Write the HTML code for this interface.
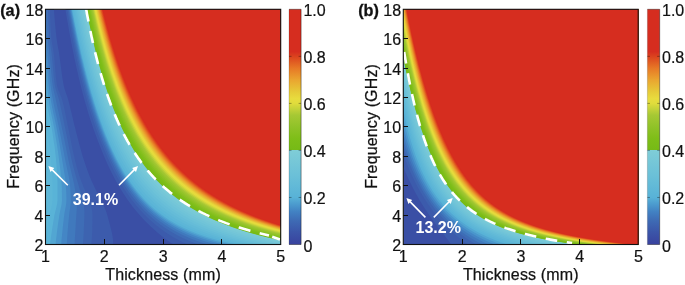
<!DOCTYPE html>
<html lang="en"><head><meta charset="utf-8"><title>Figure</title>
<style>
html,body{margin:0;padding:0;background:#fff;}
body{width:685px;height:285px;overflow:hidden;}
svg{display:block;}
.t{font-family:"Liberation Sans",Arial,sans-serif;font-size:16px;fill:#111;stroke:#111;stroke-width:0.2px;}
.l{letter-spacing:0.14px;stroke:#111;stroke-width:0.25px;}
.b{font-family:"Liberation Sans",Arial,sans-serif;font-size:17.4px;font-weight:bold;fill:#111;stroke:#111;stroke-width:0.3px;}
.w{font-family:"Liberation Sans",Arial,sans-serif;font-size:16px;font-weight:bold;fill:#fff;}
</style></head><body>
<svg width="685" height="285" viewBox="0 0 685 285">
<defs><linearGradient id="cb" x1="0" y1="0" x2="0" y2="1"><stop offset="0.0000" stop-color="#d62d1f"/><stop offset="0.1800" stop-color="#d62d1f"/><stop offset="0.2000" stop-color="#db421e"/><stop offset="0.2500" stop-color="#e77826"/><stop offset="0.3000" stop-color="#eaa530"/><stop offset="0.3500" stop-color="#e6ca38"/><stop offset="0.3800" stop-color="#e8dc3e"/><stop offset="0.4000" stop-color="#e0dc3c"/><stop offset="0.4200" stop-color="#c8d43a"/><stop offset="0.4500" stop-color="#a6c834"/><stop offset="0.5000" stop-color="#90c228"/><stop offset="0.5500" stop-color="#7ebe18"/><stop offset="0.6000" stop-color="#76ba16"/><stop offset="0.6000" stop-color="#7fcdd7"/><stop offset="0.7000" stop-color="#6cc1d8"/><stop offset="0.8000" stop-color="#58b2d7"/><stop offset="0.8300" stop-color="#4b9ace"/><stop offset="0.8600" stop-color="#4282c3"/><stop offset="0.9000" stop-color="#3e6ab4"/><stop offset="0.9500" stop-color="#3b54a8"/><stop offset="1.0000" stop-color="#39429e"/></linearGradient></defs>
<clipPath id="cpa"><rect x="45.5" y="9.3" width="235.2" height="235.2"/></clipPath>
<g clip-path="url(#cpa)">
<rect x="45.5" y="9.3" width="235.2" height="235.2" fill="#3a4fa5"/>
<polygon points="53.8,5.3 53.9,8.3 54.1,11.3 54.3,14.3 54.5,17.3 54.8,20.3 55,23.3 55.3,26.3 55.6,29.3 55.9,32.3 56.2,35.3 56.6,38.3 57,41.3 57.5,44.3 58,47.3 58.6,50.3 59.1,53.3 59.5,56.3 59.9,59.3 60.3,62.3 60.7,65.3 61.1,68.3 61.5,71.3 61.9,74.3 62.3,77.3 62.8,80.3 63.3,83.3 63.9,86.3 64.7,89.3 65.7,92.3 66.8,95.3 67.8,98.3 68.6,101.3 69.4,104.3 70.1,107.3 70.8,110.3 71.6,113.3 72.3,116.3 73,119.3 73.7,122.3 74.4,125.3 75.2,128.3 75.9,131.3 76.7,134.3 77.5,137.3 78.3,140.3 79,143.3 79.9,146.3 80.7,149.3 81.5,152.3 82.4,155.3 83.3,158.3 84.3,161.3 85.3,164.3 86.3,167.3 87.4,170.3 88.5,173.3 89.7,176.3 90.9,179.3 92.1,182.1 93.4,184.8 94.7,187.6 96,190.3 97.5,193.1 99,195.8 100.5,198.6 101.8,201.3 103,204.1 104.2,206.8 105.5,209.8 106.6,212.8 107.5,215.8 108.3,218.8 109.1,221.8 109.9,224.8 110.7,227.8 111.4,230.8 112.1,233.8 112.6,236.8 113,239.8 113.1,242.8 113,245.8 112.7,248.3 5.5,248.3 5.5,5.3" fill="#3c5bac"/>
<polygon points="50,5.3 50,8.3 50,11.3 50.1,14.3 50.1,17.3 50.3,20.3 50.4,23.3 50.5,26.3 50.7,29.3 50.9,32.3 51.1,35.3 51.3,38.3 51.8,41.3 52.2,44.3 52.8,47.3 53.3,50.3 53.7,53.3 54.1,56.3 54.4,59.3 54.7,62.3 54.9,65.3 55.2,68.3 55.4,71.3 55.7,74.3 55.9,77.3 56.3,80.3 56.7,83.3 57.2,86.3 58.1,89.3 59.3,92.3 60.5,95.3 61.7,98.3 62.6,101.3 63.3,104.3 64,107.3 64.7,110.3 65.3,113.3 65.9,116.3 66.5,119.3 67.1,122.3 67.7,125.3 68.4,128.3 69,131.3 69.6,134.3 70.2,137.3 70.8,140.3 71.4,143.3 72,146.3 72.6,149.3 73.2,152.3 73.9,155.3 74.6,158.3 75.3,161.3 76.1,164.3 76.8,167.3 77.7,170.3 78.6,173.3 79.5,176.3 80.6,179.3 81.7,182.3 82.9,185.3 84.1,188.3 85.4,191.3 86.8,194.1 88.1,196.8 89.4,199.8 90.3,202.8 91.1,205.8 91.8,208.8 92.3,211.8 92.5,214.8 92.5,217.8 92.4,220.8 92.4,223.8 92.3,226.8 92.3,229.8 92.2,232.8 92,235.8 91.9,238.8 91.6,241.8 91.4,244.8 91.4,247.8 91.4,248.3 5.5,248.3 5.5,5.3" fill="#3d63b0"/>
<polygon points="48,5.3 48,8.3 48,11.3 48.1,14.3 48.2,17.3 48.3,20.3 48.5,23.3 48.7,26.3 48.8,29.3 49,32.3 49.2,35.3 49.5,38.3 49.9,41.3 50.3,44.3 50.7,47.3 51.2,50.3 51.6,53.3 51.9,56.3 52.2,59.3 52.5,62.3 52.8,65.3 53,68.3 53.3,71.3 53.5,74.3 53.8,77.3 54.2,80.3 54.5,83.3 55,86.3 55.8,89.3 56.7,92.3 57.7,95.3 58.6,98.3 59.4,101.3 60.1,104.3 60.7,107.3 61.4,110.3 62,113.3 62.7,116.3 63.3,119.3 63.9,122.3 64.6,125.3 65.2,128.3 65.8,131.3 66.4,134.3 67,137.3 67.6,140.3 68.2,143.3 68.8,146.3 69.4,149.3 70.1,152.3 70.7,155.3 71.3,158.3 72,161.3 72.7,164.3 73.5,167.3 74.3,170.3 75.1,173.3 75.9,176.3 76.8,179.3 77.7,182.3 78.6,185.3 79.4,188.3 80.4,191.3 81.4,194.3 82.4,197.3 83.1,200.3 83.7,203.3 84.1,206.3 84.3,209.3 84.4,212.3 84.4,215.3 84.3,218.3 84.2,221.3 84.1,224.3 83.9,227.3 83.8,230.3 83.7,233.3 83.5,236.3 83.3,239.3 83.1,242.3 83,245.3 83,248.3 5.5,248.3 5.5,5.3" fill="#3e6db6"/>
<polygon points="46,5.3 46,8.3 46.1,11.3 46.2,14.3 46.3,17.3 46.4,20.3 46.6,23.3 46.8,26.3 47,29.3 47.2,32.3 47.4,35.3 47.7,38.3 48,41.3 48.3,44.3 48.7,47.3 49.1,50.3 49.4,53.3 49.8,56.3 50.1,59.3 50.3,62.3 50.6,65.3 50.9,68.3 51.1,71.3 51.4,74.3 51.7,77.3 52,80.3 52.4,83.3 52.8,86.3 53.4,89.3 54.1,92.3 54.8,95.3 55.5,98.3 56.1,101.3 56.8,104.3 57.4,107.3 58.1,110.3 58.8,113.3 59.4,116.3 60.1,119.3 60.7,122.3 61.4,125.3 62,128.3 62.6,131.3 63.3,134.3 63.9,137.3 64.5,140.3 65.1,143.3 65.7,146.3 66.3,149.3 66.9,152.3 67.5,155.3 68.1,158.3 68.7,161.3 69.4,164.3 70.1,167.3 70.9,170.3 71.6,173.3 72.3,176.3 73,179.3 73.7,182.3 74.3,185.3 74.8,188.3 75.3,191.3 75.9,194.3 76.4,197.3 76.8,200.3 76.9,203.3 76.9,206.3 76.7,209.3 76.5,212.3 76.3,215.3 76.1,218.3 75.9,221.3 75.7,224.3 75.6,227.3 75.4,230.3 75.2,233.3 75,236.3 74.8,239.3 74.7,242.3 74.5,245.3 74.5,248.3 5.5,248.3 5.5,5.3" fill="#4079bd"/>
<polygon points="44,5.3 44,8.3 44.1,11.3 44.2,14.3 44.4,17.3 44.6,20.3 44.8,23.3 45,26.3 45.2,29.3 45.4,32.3 45.6,35.3 45.9,38.3 46.2,41.3 46.5,44.3 46.8,47.3 47.1,50.3 47.4,53.3 47.7,56.3 48,59.3 48.3,62.3 48.6,65.3 48.8,68.3 49.1,71.3 49.4,74.3 49.7,77.3 50,80.3 50.3,83.3 50.7,86.3 51.1,89.3 51.6,92.3 52.1,95.3 52.7,98.3 53.2,101.3 53.8,104.3 54.4,107.3 55,110.3 55.7,113.3 56.4,116.3 57.1,119.3 57.7,122.3 58.4,125.3 59,128.3 59.6,131.3 60.3,134.3 60.9,137.3 61.4,140.3 62,143.3 62.6,146.3 63.2,149.3 63.8,152.3 64.3,155.3 64.9,158.3 65.5,161.3 66.1,164.3 66.8,167.3 67.4,170.3 68.1,173.3 68.7,176.3 69.2,179.3 69.7,182.3 70,185.3 70.3,188.3 70.5,191.3 70.7,194.3 70.8,197.3 70.9,200.3 70.7,203.3 70.3,206.3 69.9,209.3 69.4,212.3 69.1,215.3 68.8,218.3 68.5,221.3 68.2,224.3 68,227.3 67.7,230.3 67.5,233.3 67.3,236.3 67.1,239.3 66.9,242.3 66.8,245.3 66.8,248.3 5.5,248.3 5.5,5.3" fill="#4486c5"/>
<polygon points="42,5.3 42,8.3 42.2,11.3 42.4,14.3 42.6,17.3 42.8,20.3 43.1,23.3 43.3,26.3 43.6,29.3 43.8,32.3 44.1,35.3 44.3,38.3 44.6,41.3 44.9,44.3 45.2,47.3 45.5,50.3 45.8,53.3 46.1,56.3 46.4,59.3 46.7,62.3 46.9,65.3 47.2,68.3 47.4,71.3 47.7,74.3 47.9,77.3 48.2,80.3 48.5,83.3 48.8,86.3 49.2,89.3 49.6,92.3 50.1,95.3 50.5,98.3 51,101.3 51.6,104.3 52.1,107.3 52.8,110.3 53.4,113.3 54.1,116.3 54.7,119.3 55.4,122.3 56,125.3 56.6,128.3 57.2,131.3 57.7,134.3 58.3,137.3 58.8,140.3 59.4,143.3 59.9,146.3 60.4,149.3 60.9,152.3 61.4,155.3 61.9,158.3 62.4,161.3 62.9,164.3 63.4,167.3 63.9,170.3 64.4,173.3 64.9,176.3 65.3,179.3 65.6,182.3 65.8,185.3 66,188.3 66.2,191.3 66.3,194.3 66.4,197.3 66.4,200.3 66.2,203.3 65.8,206.3 65.2,209.3 64.6,212.3 64.2,215.3 63.8,218.3 63.5,221.3 63.1,224.3 62.8,227.3 62.5,230.3 62.2,233.3 61.9,236.3 61.6,239.3 61.4,242.3 61.2,245.3 61.2,248.3 5.5,248.3 5.5,5.3" fill="#4a96cc"/>
<polygon points="40,5.3 40,8.3 40.2,11.3 40.5,14.3 40.8,17.3 41.1,20.3 41.4,23.3 41.7,26.3 41.9,29.3 42.2,32.3 42.5,35.3 42.8,38.3 43.1,41.3 43.4,44.3 43.7,47.3 44,50.3 44.2,53.3 44.5,56.3 44.8,59.3 45,62.3 45.3,65.3 45.5,68.3 45.8,71.3 46,74.3 46.2,77.3 46.4,80.3 46.7,83.3 47,86.3 47.3,89.3 47.6,92.3 48,95.3 48.4,98.3 48.8,101.3 49.3,104.3 49.9,107.3 50.5,110.3 51.1,113.3 51.7,116.3 52.4,119.3 53,122.3 53.6,125.3 54.2,128.3 54.7,131.3 55.2,134.3 55.7,137.3 56.2,140.3 56.7,143.3 57.2,146.3 57.6,149.3 58.1,152.3 58.5,155.3 58.9,158.3 59.2,161.3 59.6,164.3 60,167.3 60.4,170.3 60.7,173.3 61.1,176.3 61.3,179.3 61.5,182.3 61.7,185.3 61.8,188.3 61.8,191.3 61.9,194.3 61.9,197.3 62,200.3 61.7,203.3 61.2,206.3 60.5,209.3 59.9,212.3 59.3,215.3 58.9,218.3 58.4,221.3 58,224.3 57.6,227.3 57.2,230.3 56.8,233.3 56.5,236.3 56.1,239.3 55.8,242.3 55.6,245.3 55.6,248.3 5.5,248.3 5.5,5.3" fill="#52a6d2"/>
<polygon points="38,5.3 38,8.3 38.3,11.3 38.6,14.3 39,17.3 39.3,20.3 39.7,23.3 40,26.3 40.3,29.3 40.6,32.3 40.9,35.3 41.2,38.3 41.5,41.3 41.8,44.3 42.1,47.3 42.4,50.3 42.6,53.3 42.9,56.3 43.1,59.3 43.4,62.3 43.6,65.3 43.9,68.3 44.1,71.3 44.3,74.3 44.5,77.3 44.7,80.3 44.9,83.3 45.1,86.3 45.4,89.3 45.6,92.3 46,95.3 46.3,98.3 46.7,101.3 47.1,104.3 47.6,107.3 48.2,110.3 48.8,113.3 49.4,116.3 50,119.3 50.6,122.3 51.2,125.3 51.7,128.3 52.2,131.3 52.7,134.3 53.1,137.3 53.6,140.3 54,143.3 54.5,146.3 54.9,149.3 55.2,152.3 55.6,155.3 55.9,158.3 56.1,161.3 56.4,164.3 56.6,167.3 56.8,170.3 57.1,173.3 57.2,176.3 57.4,179.3 57.5,182.3 57.5,185.3 57.5,188.3 57.5,191.3 57.5,194.3 57.5,197.3 57.5,200.3 57.2,203.3 56.6,206.3 55.9,209.3 55.1,212.3 54.4,215.3 53.9,218.3 53.4,221.3 52.9,224.3 52.4,227.3 52,230.3 51.5,233.3 51.1,236.3 50.7,239.3 50.3,242.3 50,245.3 50,248.3 5.5,248.3 5.5,5.3" fill="#59b3d7"/>
<polygon points="33,5.3 33,8.3 33.3,11.3 33.6,14.3 34,17.3 34.3,20.3 34.7,23.3 35,26.3 35.3,29.3 35.6,32.3 35.9,35.3 36.2,38.3 36.5,41.3 36.8,44.3 37.1,47.3 37.4,50.3 37.6,53.3 37.9,56.3 38.1,59.3 38.4,62.3 38.6,65.3 38.9,68.3 39.1,71.3 39.3,74.3 39.5,77.3 39.7,80.3 39.9,83.3 40.1,86.3 40.4,89.3 40.6,92.3 41,95.3 41.3,98.3 41.7,101.3 42.1,104.3 42.6,107.3 43.2,110.3 43.8,113.3 44.4,116.3 45,119.3 45.6,122.3 46.2,125.3 46.7,128.3 47.2,131.3 47.7,134.3 48.1,137.3 48.6,140.3 49,143.3 49.5,146.3 49.9,149.3 50.2,152.3 50.6,155.3 50.9,158.3 51.1,161.3 51.4,164.3 51.6,167.3 51.8,170.3 52.1,173.3 52.2,176.3 52.4,179.3 52.5,182.3 52.5,185.3 52.5,188.3 52.5,191.3 52.5,194.3 52.5,197.3 52.5,200.3 52.2,203.3 51.6,206.3 50.9,209.3 50.1,212.3 49.4,215.3 48.9,218.3 48.4,221.3 47.9,224.3 47.4,227.3 47,230.3 46.5,233.3 46.1,236.3 45.7,239.3 45.3,242.3 45,245.3 45,248.3 5.5,248.3 5.5,5.3" fill="#5db6d7"/>
<polygon points="28,5.3 28,8.3 28.3,11.3 28.6,14.3 29,17.3 29.3,20.3 29.7,23.3 30,26.3 30.3,29.3 30.6,32.3 30.9,35.3 31.2,38.3 31.5,41.3 31.8,44.3 32.1,47.3 32.4,50.3 32.6,53.3 32.9,56.3 33.1,59.3 33.4,62.3 33.6,65.3 33.9,68.3 34.1,71.3 34.3,74.3 34.5,77.3 34.7,80.3 34.9,83.3 35.1,86.3 35.4,89.3 35.6,92.3 36,95.3 36.3,98.3 36.7,101.3 37.1,104.3 37.6,107.3 38.2,110.3 38.8,113.3 39.4,116.3 40,119.3 40.6,122.3 41.2,125.3 41.7,128.3 42.2,131.3 42.7,134.3 43.1,137.3 43.6,140.3 44,143.3 44.5,146.3 44.9,149.3 45.2,152.3 45.6,155.3 45.9,158.3 46.1,161.3 46.4,164.3 46.6,167.3 46.8,170.3 47.1,173.3 47.2,176.3 47.4,179.3 47.5,182.3 47.5,185.3 47.5,188.3 47.5,191.3 47.5,194.3 47.5,197.3 47.5,200.3 47.2,203.3 46.6,206.3 45.9,209.3 45.1,212.3 44.4,215.3 43.9,218.3 43.4,221.3 42.9,224.3 42.4,227.3 42,230.3 41.5,233.3 41.1,236.3 40.7,239.3 40.3,242.3 40,245.3 40,248.3 5.5,248.3 5.5,5.3" fill="#61b9d7"/>
<polygon points="64.8,5.3 65.3,8.3 65.7,11.3 66.2,14.3 66.7,17.3 67.2,20.3 67.8,23.3 68.3,26.3 68.8,29.3 69.3,32.3 69.9,35.3 70.5,38.3 71,41.3 71.6,44.3 72.2,47.3 72.8,50.3 73.4,53.3 74,56.3 74.6,59.3 75.3,62.3 75.9,65.3 76.6,68.3 77.3,71.3 78,74.3 78.7,77.3 79.4,80.3 80.1,83.3 80.9,86.3 81.6,89.3 82.4,92.3 83.2,95.3 84,98.3 84.8,101.3 85.7,104.3 86.6,107.3 87.4,110.3 88.3,113.3 89.3,116.3 90.2,119.3 91.2,122.3 92.2,125.3 93.2,128.3 94.3,131.3 95.4,134.3 96.5,137.3 97.6,140.3 98.8,143.3 100,146.3 101.2,149.3 102.4,152.3 103.6,155.3 104.9,158.3 106.2,161.3 107.4,164.1 108.7,166.8 110,169.6 111.4,172.3 112.7,175.1 114.2,177.8 115.7,180.6 117.2,183.3 118.8,186.1 120.4,188.8 122.1,191.6 123.9,194.3 125.7,197.1 127.4,199.6 129.2,202.1 131,204.6 132.9,207.1 134.9,209.6 137,212.1 139.1,214.6 141.1,216.8 143.2,219.1 145.3,221.3 147.6,223.6 149.9,225.8 152.3,228.1 154.8,230.3 157.1,232.3 159.5,234.3 161.9,236.3 164.5,238.3 167.2,240.3 169.7,242.1 172.3,243.8 175.3,245.6 178,247.1 180.5,248.3 320.7,248.3 320.7,5.3" fill="#3c5bac"/>
<polygon points="66.5,5.3 67,8.3 67.5,11.3 68,14.3 68.5,17.3 69.1,20.3 69.6,23.3 70.2,26.3 70.7,29.3 71.3,32.3 71.8,35.3 72.4,38.3 73,41.3 73.6,44.3 74.2,47.3 74.8,50.3 75.5,53.3 76.1,56.3 76.7,59.3 77.4,62.3 78.1,65.3 78.8,68.3 79.5,71.3 80.2,74.3 80.9,77.3 81.6,80.3 82.4,83.3 83.2,86.3 83.9,89.3 84.7,92.3 85.6,95.3 86.4,98.3 87.2,101.3 88.1,104.3 89,107.3 89.9,110.3 90.8,113.3 91.8,116.3 92.8,119.3 93.8,122.3 94.8,125.3 95.8,128.3 96.9,131.3 98,134.3 99.2,137.3 100.3,140.3 101.5,143.3 102.7,146.3 104,149.3 105.3,152.3 106.5,155.3 107.7,158.1 109,160.8 110.3,163.6 111.6,166.3 112.9,169.1 114.3,171.8 115.8,174.6 117.3,177.3 118.8,180.1 120.4,182.8 122.1,185.6 123.8,188.3 125.6,191.1 127.3,193.6 129,196.1 130.8,198.6 132.7,201.1 134.7,203.6 136.7,206.1 138.9,208.6 140.9,210.8 143,213.1 145.2,215.3 147.5,217.6 149.8,219.8 152.3,222.1 154.7,224.1 157.1,226.1 159.7,228.1 162.4,230.1 164.8,231.8 167.4,233.6 170.2,235.3 173,237.1 175.6,238.6 178.4,240.1 181.3,241.6 184.4,243.1 187.1,244.3 190.3,245.6 193.6,246.8 196.5,247.8 198,248.3 320.7,248.3 320.7,5.3" fill="#3d63b0"/>
<polygon points="67.7,5.3 68.2,8.3 68.8,11.3 69.3,14.3 69.8,17.3 70.4,20.3 70.9,23.3 71.5,26.3 72,29.3 72.6,32.3 73.2,35.3 73.8,38.3 74.4,41.3 75,44.3 75.6,47.3 76.3,50.3 76.9,53.3 77.6,56.3 78.2,59.3 78.9,62.3 79.6,65.3 80.3,68.3 81,71.3 81.7,74.3 82.5,77.3 83.2,80.3 84,83.3 84.8,86.3 85.6,89.3 86.4,92.3 87.2,95.3 88.1,98.3 88.9,101.3 89.8,104.3 90.7,107.3 91.6,110.3 92.6,113.3 93.6,116.3 94.6,119.3 95.6,122.3 96.6,125.3 97.7,128.3 98.8,131.3 99.9,134.3 101,137.3 102.2,140.3 103.4,143.3 104.7,146.3 106,149.3 107.3,152.3 108.5,155.1 109.7,157.8 111,160.6 112.3,163.3 113.6,166.1 115,168.8 116.5,171.6 118,174.3 119.5,177.1 121.1,179.8 122.8,182.6 124.5,185.3 126.3,188.1 128,190.6 129.7,193.1 131.5,195.6 133.4,198.1 135.4,200.6 137.5,203.1 139.7,205.6 141.7,207.8 143.8,210.1 146,212.3 148.4,214.6 150.8,216.8 153.1,218.8 155.5,220.8 158,222.8 160.6,224.8 163.4,226.8 166,228.6 168.7,230.3 171.6,232.1 174.6,233.8 177.3,235.3 180.2,236.8 183.3,238.3 186.6,239.8 189.5,241.1 192.6,242.3 195.8,243.6 198.7,244.6 201.8,245.6 205.1,246.6 208.6,247.6 211.4,248.3 320.7,248.3 320.7,5.3" fill="#3e6db6"/>
<polygon points="68.7,5.3 69.2,8.3 69.7,11.3 70.3,14.3 70.8,17.3 71.4,20.3 71.9,23.3 72.5,26.3 73.1,29.3 73.7,32.3 74.3,35.3 74.9,38.3 75.5,41.3 76.1,44.3 76.8,47.3 77.4,50.3 78.1,53.3 78.7,56.3 79.4,59.3 80.1,62.3 80.8,65.3 81.5,68.3 82.2,71.3 83,74.3 83.7,77.3 84.5,80.3 85.3,83.3 86.1,86.3 86.9,89.3 87.7,92.3 88.5,95.3 89.4,98.3 90.3,101.3 91.2,104.3 92.1,107.3 93,110.3 94,113.3 95,116.3 96,119.3 97,122.3 98.1,125.3 99.1,128.3 100.2,131.3 101.4,134.3 102.5,137.3 103.7,140.3 105,143.3 106.2,146.3 107.6,149.3 108.8,152.1 110,154.8 111.2,157.6 112.5,160.3 113.9,163.1 115.3,165.8 116.7,168.6 118.2,171.3 119.7,174.1 121.3,176.8 122.9,179.6 124.6,182.3 126.4,185.1 128.1,187.6 129.8,190.1 131.6,192.6 133.5,195.1 135.5,197.6 137.5,200.1 139.7,202.6 141.7,204.8 143.8,207.1 146,209.3 148.3,211.6 150.8,213.8 153,215.8 155.4,217.8 157.9,219.8 160.6,221.8 163.4,223.8 165.9,225.6 168.7,227.3 171.5,229.1 174.1,230.6 176.9,232.1 179.8,233.6 182.8,235.1 186.1,236.6 188.9,237.8 192,239.1 195.2,240.3 198.6,241.6 201.5,242.6 204.6,243.6 207.9,244.6 211.5,245.6 215.3,246.6 218.3,247.3 221.5,248.1 222.7,248.3 320.7,248.3 320.7,5.3" fill="#4079bd"/>
<polygon points="69.5,5.3 70,8.3 70.6,11.3 71.1,14.3 71.7,17.3 72.2,20.3 72.8,23.3 73.4,26.3 74,29.3 74.6,32.3 75.2,35.3 75.8,38.3 76.4,41.3 77.1,44.3 77.7,47.3 78.4,50.3 79,53.3 79.7,56.3 80.4,59.3 81.1,62.3 81.8,65.3 82.5,68.3 83.3,71.3 84,74.3 84.8,77.3 85.5,80.3 86.3,83.3 87.1,86.3 88,89.3 88.8,92.3 89.7,95.3 90.5,98.3 91.4,101.3 92.3,104.3 93.2,107.3 94.2,110.3 95.2,113.3 96.2,116.3 97.2,119.3 98.2,122.3 99.3,125.3 100.4,128.3 101.5,131.3 102.6,134.3 103.8,137.3 105,140.3 106.3,143.3 107.6,146.3 108.8,149.1 110,151.8 111.2,154.6 112.5,157.3 113.8,160.1 115.2,162.8 116.6,165.6 118.1,168.3 119.6,171.1 121.1,173.8 122.8,176.6 124.4,179.3 126.2,182.1 128,184.8 129.7,187.3 131.5,189.8 133.4,192.3 135.3,194.8 137.3,197.3 139.4,199.8 141.4,202.1 143.5,204.3 145.7,206.6 148,208.8 150.4,211.1 152.6,213.1 155,215.1 157.5,217.1 160.1,219.1 162.8,221.1 165.4,222.8 168.1,224.6 170.9,226.3 173.9,228.1 176.6,229.6 179.5,231.1 182.5,232.6 185.8,234.1 188.6,235.3 191.6,236.6 194.8,237.8 198.2,239.1 201,240.1 204,241.1 207.2,242.1 210.5,243.1 214.1,244.1 218,245.1 221.1,245.8 224.3,246.6 227.7,247.3 231.4,248.1 232.6,248.3 320.7,248.3 320.7,5.3" fill="#4486c5"/>
<polygon points="70.2,5.3 70.8,8.3 71.3,11.3 71.9,14.3 72.4,17.3 73,20.3 73.6,23.3 74.2,26.3 74.8,29.3 75.4,32.3 76,35.3 76.6,38.3 77.2,41.3 77.9,44.3 78.5,47.3 79.2,50.3 79.9,53.3 80.6,56.3 81.3,59.3 82,62.3 82.7,65.3 83.4,68.3 84.2,71.3 84.9,74.3 85.7,77.3 86.5,80.3 87.3,83.3 88.1,86.3 88.9,89.3 89.8,92.3 90.6,95.3 91.5,98.3 92.4,101.3 93.3,104.3 94.3,107.3 95.2,110.3 96.2,113.3 97.2,116.3 98.2,119.3 99.3,122.3 100.3,125.3 101.4,128.3 102.6,131.3 103.7,134.3 104.9,137.3 106.1,140.3 107.4,143.3 108.7,146.3 109.9,149.1 111.2,151.8 112.4,154.6 113.7,157.3 115.1,160.1 116.5,162.8 117.9,165.6 119.4,168.3 121,171.1 122.5,173.8 124.2,176.6 125.9,179.3 127.7,182.1 129.4,184.6 131.1,187.1 133,189.6 134.9,192.1 136.9,194.6 138.9,197.1 141.1,199.6 143.2,201.8 145.3,204.1 147.6,206.3 149.9,208.6 152.4,210.8 154.8,212.8 157.2,214.8 159.8,216.8 162.5,218.8 165,220.6 167.7,222.3 170.5,224.1 173.4,225.8 176.1,227.3 179,228.8 182,230.3 185.1,231.8 187.9,233.1 190.9,234.3 194,235.6 197.3,236.8 200.8,238.1 203.7,239.1 206.9,240.1 210.2,241.1 213.6,242.1 217.3,243.1 220.3,243.8 223.4,244.6 226.6,245.3 230.1,246.1 233.7,246.8 237.5,247.6 241.6,248.3 320.7,248.3 320.7,5.3" fill="#4a96cc"/>
<polygon points="70.9,5.3 71.4,8.3 72,11.3 72.5,14.3 73.1,17.3 73.7,20.3 74.3,23.3 74.9,26.3 75.5,29.3 76.1,32.3 76.7,35.3 77.3,38.3 78,41.3 78.6,44.3 79.3,47.3 80,50.3 80.6,53.3 81.3,56.3 82,59.3 82.8,62.3 83.5,65.3 84.2,68.3 85,71.3 85.7,74.3 86.5,77.3 87.3,80.3 88.1,83.3 88.9,86.3 89.8,89.3 90.6,92.3 91.5,95.3 92.4,98.3 93.3,101.3 94.2,104.3 95.2,107.3 96.1,110.3 97.1,113.3 98.1,116.3 99.2,119.3 100.2,122.3 101.3,125.3 102.4,128.3 103.5,131.3 104.7,134.3 105.9,137.3 107.2,140.3 108.4,143.3 109.7,146.3 111,149.1 112.2,151.8 113.5,154.6 114.8,157.3 116.2,160.1 117.6,162.8 119.1,165.6 120.6,168.3 122.2,171.1 123.8,173.8 125.5,176.6 127.2,179.3 129.1,182.1 130.8,184.6 132.6,187.1 134.5,189.6 136.4,192.1 138.5,194.6 140.6,197.1 142.6,199.3 144.7,201.6 146.9,203.8 149.2,206.1 151.7,208.3 153.9,210.3 156.3,212.3 158.8,214.3 161.5,216.3 163.9,218.1 166.5,219.8 169.2,221.6 172.1,223.3 174.7,224.8 177.5,226.3 180.3,227.8 183.4,229.3 186.6,230.8 189.5,232.1 192.5,233.3 195.7,234.6 199.1,235.8 201.9,236.8 204.9,237.8 208.1,238.8 211.4,239.8 214.9,240.8 218.6,241.8 221.5,242.6 224.6,243.3 227.8,244.1 231.3,244.8 234.9,245.6 238.7,246.3 242.7,247.1 246.9,247.8 249.9,248.3 320.7,248.3 320.7,5.3" fill="#52a6d2"/>
<polygon points="71.4,5.3 72,8.3 72.6,11.3 73.1,14.3 73.7,17.3 74.3,20.3 74.9,23.3 75.5,26.3 76.1,29.3 76.7,32.3 77.4,35.3 78,38.3 78.6,41.3 79.3,44.3 80,47.3 80.6,50.3 81.3,53.3 82,56.3 82.7,59.3 83.5,62.3 84.2,65.3 84.9,68.3 85.7,71.3 86.5,74.3 87.3,77.3 88.1,80.3 88.9,83.3 89.7,86.3 90.5,89.3 91.4,92.3 92.3,95.3 93.2,98.3 94.1,101.3 95,104.3 96,107.3 97,110.3 98,113.3 99,116.3 100,119.3 101.1,122.3 102.2,125.3 103.3,128.3 104.4,131.3 105.6,134.3 106.8,137.3 108.1,140.3 109.3,143.3 110.5,146.1 111.8,148.8 113.1,151.6 114.4,154.3 115.7,157.1 117.1,159.8 118.5,162.6 120,165.3 121.6,168.1 123.2,170.8 124.8,173.6 126.5,176.3 128.3,179.1 130,181.6 131.7,184.1 133.5,186.6 135.4,189.1 137.4,191.6 139.5,194.1 141.7,196.6 143.7,198.8 145.8,201.1 148.1,203.3 150.4,205.6 152.9,207.8 155.2,209.8 157.7,211.8 160.3,213.8 163,215.8 165.5,217.6 168.1,219.3 170.9,221.1 173.9,222.8 176.5,224.3 179.4,225.8 182.3,227.3 185.5,228.8 188.3,230.1 191.2,231.3 194.3,232.6 197.5,233.8 201,235.1 203.9,236.1 207,237.1 210.2,238.1 213.6,239.1 217.2,240.1 221,241.1 224,241.8 227.2,242.6 230.5,243.3 234,244.1 237.6,244.8 241.5,245.6 245.6,246.3 249.8,247.1 252.9,247.6 256,248.1 257.6,248.3 320.7,248.3 320.7,5.3" fill="#59b3d7"/>
<polygon points="72.7,5.3 73.2,8.3 73.8,11.3 74.4,14.3 74.9,17.3 75.5,20.3 76.1,23.3 76.7,26.3 77.4,29.3 78,32.3 78.6,35.3 79.3,38.3 79.9,41.3 80.6,44.3 81.2,47.3 81.9,50.3 82.6,53.3 83.3,56.3 84,59.3 84.8,62.3 85.5,65.3 86.3,68.3 87,71.3 87.8,74.3 88.6,77.3 89.4,80.3 90.2,83.3 91.1,86.3 91.9,89.3 92.8,92.3 93.7,95.3 94.6,98.3 95.5,101.3 96.5,104.3 97.5,107.3 98.5,110.3 99.5,113.3 100.5,116.3 101.6,119.3 102.7,122.3 103.8,125.3 104.9,128.3 106.1,131.3 107.3,134.3 108.5,137.3 109.8,140.3 111,143.1 112.2,145.8 113.5,148.6 114.8,151.3 116.2,154.1 117.5,156.8 119,159.6 120.4,162.3 122,165.1 123.6,167.8 125.2,170.6 126.9,173.3 128.7,176.1 130.3,178.6 132,181.1 133.8,183.6 135.7,186.1 137.7,188.6 139.7,191.1 141.8,193.6 143.8,195.8 145.9,198.1 148.1,200.3 150.4,202.6 152.8,204.8 155.1,206.8 157.4,208.8 159.9,210.8 162.5,212.8 165.3,214.8 167.8,216.6 170.5,218.3 173.3,220.1 176.3,221.8 179,223.3 181.8,224.8 184.8,226.3 187.9,227.8 190.7,229.1 193.6,230.3 196.7,231.6 199.9,232.8 203.4,234.1 206.3,235.1 209.3,236.1 212.5,237.1 215.8,238.1 219.3,239.1 223.1,240.1 226,240.8 229.1,241.6 232.3,242.3 235.6,243.1 239.2,243.8 242.9,244.6 246.8,245.3 250.9,246.1 255.2,246.8 258.2,247.3 261.4,247.8 264.6,248.3 320.7,248.3 320.7,5.3" fill="#5db6d7"/>
<polygon points="74.1,5.3 74.7,8.3 75.2,11.3 75.8,14.3 76.4,17.3 77,20.3 77.6,23.3 78.2,26.3 78.8,29.3 79.4,32.3 80.1,35.3 80.7,38.3 81.4,41.3 82,44.3 82.7,47.3 83.4,50.3 84.1,53.3 84.8,56.3 85.5,59.3 86.3,62.3 87,65.3 87.8,68.3 88.6,71.3 89.4,74.3 90.2,77.3 91,80.3 91.8,83.3 92.7,86.3 93.6,89.3 94.4,92.3 95.4,95.3 96.3,98.3 97.2,101.3 98.2,104.3 99.2,107.3 100.2,110.3 101.2,113.3 102.3,116.3 103.4,119.3 104.5,122.3 105.6,125.3 106.8,128.3 108,131.3 109.2,134.3 110.5,137.3 111.7,140.1 113,142.8 114.2,145.6 115.5,148.3 116.9,151.1 118.3,153.8 119.7,156.6 121.2,159.3 122.7,162.1 124.3,164.8 125.9,167.6 127.6,170.3 129.3,173.1 131.2,175.8 132.9,178.3 134.7,180.8 136.6,183.3 138.5,185.8 140.5,188.3 142.6,190.8 144.8,193.3 146.9,195.6 149.1,197.8 151.4,200.1 153.7,202.3 156.2,204.6 158.6,206.6 161,208.6 163.6,210.6 166.3,212.6 168.8,214.3 171.4,216.1 174.1,217.8 177,219.6 179.6,221.1 182.3,222.6 185.2,224.1 188.2,225.6 191.4,227.1 194.2,228.3 197.1,229.6 200.2,230.8 203.4,232.1 206.9,233.3 209.7,234.3 212.8,235.3 215.9,236.3 219.2,237.3 222.7,238.3 226.4,239.3 230.3,240.3 233.3,241.1 236.5,241.8 239.8,242.6 243.3,243.3 247,244.1 250.8,244.8 254.8,245.6 259.1,246.3 263.5,247.1 266.7,247.6 269.9,248.1 271.6,248.3 320.7,248.3 320.7,5.3" fill="#61b9d7"/>
<polygon points="75.6,5.3 76.1,8.3 76.7,11.3 77.3,14.3 77.8,17.3 78.4,20.3 79,23.3 79.6,26.3 80.3,29.3 80.9,32.3 81.5,35.3 82.2,38.3 82.9,41.3 83.5,44.3 84.2,47.3 84.9,50.3 85.6,53.3 86.3,56.3 87.1,59.3 87.8,62.3 88.6,65.3 89.3,68.3 90.1,71.3 90.9,74.3 91.7,77.3 92.6,80.3 93.4,83.3 94.3,86.3 95.2,89.3 96.1,92.3 97,95.3 97.9,98.3 98.9,101.3 99.9,104.3 100.9,107.3 101.9,110.3 103,113.3 104.1,116.3 105.2,119.3 106.3,122.3 107.5,125.3 108.7,128.3 109.9,131.3 111.2,134.3 112.5,137.3 113.8,140.1 115,142.8 116.3,145.6 117.7,148.3 119.1,151.1 120.5,153.8 122,156.6 123.5,159.3 125.1,162.1 126.7,164.8 128.4,167.6 130.1,170.3 132,173.1 133.7,175.6 135.5,178.1 137.3,180.6 139.2,183.1 141.2,185.6 143.3,188.1 145.5,190.6 147.6,192.8 149.7,195.1 152,197.3 154.3,199.6 156.8,201.8 159,203.8 161.4,205.8 163.9,207.8 166.5,209.8 169.3,211.8 171.8,213.6 174.5,215.3 177.3,217.1 180.2,218.8 182.9,220.3 185.6,221.8 188.5,223.3 191.6,224.8 194.8,226.3 197.6,227.6 200.5,228.8 203.6,230.1 206.9,231.3 210.3,232.6 213.2,233.6 216.2,234.6 219.3,235.6 222.6,236.6 226,237.6 229.7,238.6 233.5,239.6 236.5,240.3 239.6,241.1 242.9,241.8 246.3,242.6 249.8,243.3 253.5,244.1 257.4,244.8 261.5,245.6 265.8,246.3 268.8,246.8 271.9,247.3 275.2,247.8 278.5,248.3 320.7,248.3 320.7,5.3" fill="#65bcd8"/>
<polygon points="77,5.3 77.6,8.3 78.1,11.3 78.7,14.3 79.3,17.3 79.9,20.3 80.5,23.3 81.1,26.3 81.7,29.3 82.4,32.3 83,35.3 83.7,38.3 84.3,41.3 85,44.3 85.7,47.3 86.4,50.3 87.1,53.3 87.8,56.3 88.6,59.3 89.3,62.3 90.1,65.3 90.9,68.3 91.7,71.3 92.5,74.3 93.3,77.3 94.1,80.3 95,83.3 95.9,86.3 96.8,89.3 97.7,92.3 98.6,95.3 99.6,98.3 100.6,101.3 101.6,104.3 102.6,107.3 103.7,110.3 104.7,113.3 105.9,116.3 107,119.3 108.2,122.3 109.4,125.3 110.6,128.3 111.9,131.3 113.2,134.3 114.4,137.1 115.7,139.8 117,142.6 118.3,145.3 119.7,148.1 121.1,150.8 122.6,153.6 124.1,156.3 125.7,159.1 127.3,161.8 129,164.6 130.7,167.3 132.5,170.1 134.2,172.6 136,175.1 137.8,177.6 139.7,180.1 141.7,182.6 143.8,185.1 145.9,187.6 148,189.8 150.1,192.1 152.3,194.3 154.5,196.6 156.9,198.8 159.5,201.1 161.8,203.1 164.2,205.1 166.8,207.1 169.5,209.1 171.9,210.8 174.5,212.6 177.2,214.3 180,216.1 182.9,217.8 185.6,219.3 188.4,220.8 191.3,222.3 194.3,223.8 197.6,225.3 200.4,226.6 203.3,227.8 206.4,229.1 209.6,230.3 213,231.6 215.8,232.6 218.8,233.6 221.9,234.6 225.1,235.6 228.5,236.6 232,237.6 235.7,238.6 238.6,239.3 241.7,240.1 244.8,240.8 248.1,241.6 251.5,242.3 255.1,243.1 258.8,243.8 262.7,244.6 266.8,245.3 271.1,246.1 274.1,246.6 277.2,247.1 280.4,247.6 283.7,248.1 285.4,248.3 320.7,248.3 320.7,5.3" fill="#69bfd8"/>
<polygon points="78.4,5.3 79,8.3 79.6,11.3 80.2,14.3 80.7,17.3 81.3,20.3 81.9,23.3 82.6,26.3 83.2,29.3 83.8,32.3 84.5,35.3 85.1,38.3 85.8,41.3 86.5,44.3 87.2,47.3 87.9,50.3 88.6,53.3 89.3,56.3 90.1,59.3 90.8,62.3 91.6,65.3 92.4,68.3 93.2,71.3 94,74.3 94.9,77.3 95.7,80.3 96.6,83.3 97.5,86.3 98.4,89.3 99.3,92.3 100.3,95.3 101.3,98.3 102.3,101.3 103.3,104.3 104.3,107.3 105.4,110.3 106.5,113.3 107.6,116.3 108.8,119.3 110,122.3 111.2,125.3 112.5,128.3 113.8,131.3 115,134.1 116.3,136.8 117.6,139.6 118.9,142.3 120.3,145.1 121.7,147.8 123.2,150.6 124.7,153.3 126.2,156.1 127.8,158.8 129.5,161.6 131.2,164.3 133,167.1 134.7,169.6 136.5,172.1 138.3,174.6 140.2,177.1 142.1,179.6 144.2,182.1 146.3,184.6 148.3,186.8 150.3,189.1 152.5,191.3 154.7,193.6 157.1,195.8 159.5,198.1 161.8,200.1 164.2,202.1 166.7,204.1 169.2,206.1 172,208.1 174.4,209.8 177,211.6 179.8,213.3 182.6,215.1 185.6,216.8 188.2,218.3 191,219.8 194,221.3 197,222.8 200.2,224.3 203,225.6 206,226.8 209,228.1 212.2,229.3 215.6,230.6 219.1,231.8 222.1,232.8 225.2,233.8 228.4,234.8 231.7,235.8 235.2,236.8 238.9,237.8 242.8,238.8 245.8,239.6 248.9,240.3 252.2,241.1 255.6,241.8 259.1,242.6 262.8,243.3 266.7,244.1 270.7,244.8 275,245.6 279.4,246.3 282.5,246.8 285.6,247.3 288.9,247.8 292.3,248.3 320.7,248.3 320.7,5.3" fill="#6dc2d8"/>
<polygon points="79.9,5.3 80.5,8.3 81,11.3 81.6,14.3 82.2,17.3 82.8,20.3 83.4,23.3 84,26.3 84.7,29.3 85.3,32.3 85.9,35.3 86.6,38.3 87.3,41.3 88,44.3 88.7,47.3 89.4,50.3 90.1,53.3 90.8,56.3 91.6,59.3 92.4,62.3 93.1,65.3 93.9,68.3 94.7,71.3 95.6,74.3 96.4,77.3 97.3,80.3 98.2,83.3 99.1,86.3 100,89.3 101,92.3 101.9,95.3 102.9,98.3 103.9,101.3 105,104.3 106,107.3 107.1,110.3 108.3,113.3 109.4,116.3 110.6,119.3 111.8,122.3 113.1,125.3 114.4,128.3 115.6,131.1 116.9,133.8 118.1,136.6 119.5,139.3 120.8,142.1 122.2,144.8 123.7,147.6 125.2,150.3 126.7,153.1 128.3,155.8 130,158.6 131.7,161.3 133.5,164.1 135.2,166.6 136.9,169.1 138.7,171.6 140.6,174.1 142.5,176.6 144.5,179.1 146.6,181.6 148.8,184.1 150.8,186.3 152.9,188.6 155.1,190.8 157.4,193.1 159.9,195.3 162.4,197.6 164.7,199.6 167.1,201.6 169.7,203.6 172.3,205.6 175.1,207.6 177.6,209.3 180.3,211.1 183.1,212.8 186,214.6 188.6,216.1 191.3,217.6 194.1,219.1 197.1,220.6 200.2,222.1 203.4,223.6 206.2,224.8 209.2,226.1 212.3,227.3 215.5,228.6 218.8,229.8 222.4,231.1 225.3,232.1 228.4,233.1 231.6,234.1 234.9,235.1 238.4,236.1 242,237.1 245.9,238.1 248.8,238.8 251.9,239.6 255.1,240.3 258.5,241.1 262,241.8 265.6,242.6 269.3,243.3 273.3,244.1 277.4,244.8 281.7,245.6 284.6,246.1 287.7,246.6 290.9,247.1 294.2,247.6 297.5,248.1 299.3,248.3 320.7,248.3 320.7,5.3" fill="#71c4d8"/>
<polygon points="81.3,5.3 81.9,8.3 82.5,11.3 83.1,14.3 83.6,17.3 84.2,20.3 84.9,23.3 85.5,26.3 86.1,29.3 86.8,32.3 87.4,35.3 88.1,38.3 88.7,41.3 89.4,44.3 90.1,47.3 90.9,50.3 91.6,53.3 92.3,56.3 93.1,59.3 93.9,62.3 94.7,65.3 95.5,68.3 96.3,71.3 97.1,74.3 98,77.3 98.9,80.3 99.8,83.3 100.7,86.3 101.6,89.3 102.6,92.3 103.6,95.3 104.6,98.3 105.6,101.3 106.7,104.3 107.8,107.3 108.9,110.3 110,113.3 111.2,116.3 112.4,119.3 113.7,122.3 115,125.3 116.2,128.1 117.4,130.8 118.7,133.6 120,136.3 121.4,139.1 122.8,141.8 124.2,144.6 125.7,147.3 127.2,150.1 128.8,152.8 130.4,155.6 132.1,158.3 133.9,161.1 135.7,163.8 137.5,166.3 139.2,168.8 141.1,171.3 143,173.8 145,176.3 147.1,178.8 149.2,181.3 151.2,183.6 153.3,185.8 155.5,188.1 157.8,190.3 160.1,192.6 162.6,194.8 164.9,196.8 167.2,198.8 169.7,200.8 172.3,202.8 175,204.8 177.5,206.6 180,208.3 182.7,210.1 185.5,211.8 188.5,213.6 191.1,215.1 193.8,216.6 196.6,218.1 199.6,219.6 202.7,221.1 206,222.6 208.8,223.8 211.7,225.1 214.8,226.3 218,227.6 221.3,228.8 224.8,230.1 227.8,231.1 230.8,232.1 233.9,233.1 237.2,234.1 240.7,235.1 244.2,236.1 248,237.1 250.9,237.8 253.9,238.6 257,239.3 260.3,240.1 263.6,240.8 267.1,241.6 270.8,242.3 274.5,243.1 278.5,243.8 282.6,244.6 286.9,245.3 289.9,245.8 292.9,246.3 296.1,246.8 299.4,247.3 302.7,247.8 306.2,248.3 320.7,248.3 320.7,5.3" fill="#75c6d8"/>
<polygon points="82.8,5.3 83.4,8.3 83.9,11.3 84.5,14.3 85.1,17.3 85.7,20.3 86.3,23.3 86.9,26.3 87.6,29.3 88.2,32.3 88.9,35.3 89.5,38.3 90.2,41.3 90.9,44.3 91.6,47.3 92.3,50.3 93.1,53.3 93.8,56.3 94.6,59.3 95.4,62.3 96.2,65.3 97,68.3 97.8,71.3 98.7,74.3 99.6,77.3 100.4,80.3 101.4,83.3 102.3,86.3 103.2,89.3 104.2,92.3 105.2,95.3 106.2,98.3 107.3,101.3 108.4,104.3 109.5,107.3 110.6,110.3 111.8,113.3 113,116.3 114.2,119.3 115.5,122.3 116.7,125 117.9,127.8 119.2,130.6 120.5,133.3 121.9,136.1 123.2,138.8 124.7,141.6 126.1,144.3 127.7,147.1 129.2,149.8 130.9,152.6 132.5,155.3 134.3,158.1 136.1,160.8 137.8,163.3 139.6,165.8 141.4,168.3 143.3,170.8 145.2,173.3 147.3,175.8 149.4,178.3 151.6,180.8 153.6,183.1 155.8,185.3 158,187.6 160.3,189.8 162.8,192.1 165,194.1 167.3,196.1 169.7,198.1 172.3,200.1 174.9,202.1 177.6,204.1 180.2,205.8 182.8,207.6 185.5,209.3 188.3,211.1 191.3,212.8 193.9,214.3 196.7,215.8 199.6,217.3 202.6,218.8 205.7,220.3 209,221.8 211.8,223.1 214.8,224.3 217.9,225.6 221.1,226.8 224.5,228.1 228,229.3 230.9,230.3 233.9,231.3 237.1,232.3 240.3,233.3 243.7,234.3 247.3,235.3 251,236.3 254.9,237.3 257.9,238.1 261,238.8 264.2,239.6 267.6,240.3 271.1,241.1 274.7,241.8 278.4,242.6 282.3,243.3 286.4,244.1 290.7,244.8 295.1,245.6 298.2,246.1 301.3,246.6 304.6,247.1 307.9,247.6 310.7,248.3 320.7,248.3 320.7,5.3" fill="#78c9d7"/>
<polygon points="84.2,5.3 84.8,8.3 85.4,11.3 86,14.3 86.6,17.3 87.2,20.3 87.8,23.3 88.4,26.3 89,29.3 89.7,32.3 90.3,35.3 91,38.3 91.7,41.3 92.4,44.3 93.1,47.3 93.8,50.3 94.6,53.3 95.3,56.3 96.1,59.3 96.9,62.3 97.7,65.3 98.5,68.3 99.4,71.3 100.2,74.3 101.1,77.3 102,80.3 102.9,83.3 103.9,86.3 104.9,89.3 105.8,92.3 106.9,95.3 107.9,98.3 109,101.3 110.1,104.3 111.2,107.3 112.4,110.3 113.6,113.3 114.8,116.3 116,119.3 117.3,122.3 118.6,125 119.8,127.8 121.1,130.6 122.5,133.3 123.8,136.1 125.3,138.8 126.7,141.6 128.2,144.3 129.8,147.1 131.4,149.8 133.1,152.6 134.8,155.3 136.6,158.1 138.3,160.6 140,163.1 141.8,165.6 143.7,168.1 145.6,170.6 147.6,173.1 149.7,175.6 151.9,178.1 153.9,180.3 156.1,182.6 158.2,184.8 160.5,187.1 162.9,189.3 165.4,191.6 167.7,193.6 170,195.6 172.5,197.6 175.1,199.6 177.8,201.6 180.2,203.3 182.8,205.1 185.4,206.8 188.2,208.6 191.1,210.3 194.1,212.1 196.8,213.6 199.6,215.1 202.5,216.6 205.5,218.1 208.7,219.6 211.4,220.8 214.2,222.1 217.2,223.3 220.3,224.6 223.5,225.8 226.8,227.1 230.3,228.3 233.2,229.3 236.2,230.3 239.3,231.3 242.6,232.3 245.9,233.3 249.4,234.3 253,235.3 256.8,236.3 259.8,237.1 262.9,237.8 266,238.6 269.3,239.3 272.7,240.1 276.2,240.8 279.8,241.6 283.6,242.3 287.5,243.1 291.6,243.8 295.8,244.6 300.3,245.3 303.3,245.8 306.5,246.3 309.7,246.8 310.7,248.3 320.7,248.3 320.7,5.3" fill="#7ccbd7"/>
<polygon points="85.7,5.3 86.3,8.3 86.8,11.3 87.4,14.3 88,17.3 88.6,20.3 89.2,23.3 89.9,26.3 90.5,29.3 91.1,32.3 91.8,35.3 92.5,38.3 93.2,41.3 93.9,44.3 94.6,47.3 95.3,50.3 96.1,53.3 96.8,56.3 97.6,59.3 98.4,62.3 99.2,65.3 100.1,68.3 100.9,71.3 101.8,74.3 102.7,77.3 103.6,80.3 104.5,83.3 105.5,86.3 106.5,89.3 107.5,92.3 108.5,95.3 109.6,98.3 110.7,101.3 111.8,104.3 112.9,107.3 114.1,110.3 115.3,113.3 116.6,116.3 117.8,119.3 119.1,122 120.3,124.8 121.6,127.5 122.9,130.3 124.3,133.1 125.7,135.8 127.1,138.6 128.6,141.3 130.2,144.1 131.8,146.8 133.4,149.6 135.1,152.3 136.9,155.1 138.6,157.6 140.3,160.1 142.1,162.6 143.9,165.1 145.8,167.6 147.8,170.1 149.8,172.6 152,175.1 154,177.3 156,179.6 158.2,181.8 160.4,184.1 162.7,186.3 165.1,188.6 167.7,190.8 170,192.8 172.4,194.8 174.9,196.8 177.5,198.8 180.3,200.8 182.8,202.6 185.3,204.3 188,206.1 190.8,207.8 193.8,209.6 196.4,211.1 199.1,212.6 201.9,214.1 204.8,215.6 207.8,217.1 211,218.6 213.7,219.8 216.6,221.1 219.5,222.3 222.6,223.6 225.8,224.8 229.1,226.1 232.6,227.3 235.5,228.3 238.4,229.3 241.5,230.3 244.7,231.3 248,232.3 251.5,233.3 255.1,234.3 258.8,235.3 262.7,236.3 265.7,237.1 268.8,237.8 272.1,238.6 275.4,239.3 278.9,240.1 282.4,240.8 286.2,241.6 290,242.3 294,243.1 298.2,243.8 302.5,244.6 305.5,245.1 308.5,245.6 310.7,246.8 320.7,246.8 320.7,5.3" fill="#77ba16"/>
<polygon points="86.1,5.3 86.6,8.3 87.2,11.3 87.8,14.3 88.4,17.3 89,20.3 89.6,23.3 90.2,26.3 90.9,29.3 91.5,32.3 92.2,35.3 92.8,38.3 93.5,41.3 94.2,44.3 95,47.3 95.7,50.3 96.4,53.3 97.2,56.3 98,59.3 98.8,62.3 99.6,65.3 100.4,68.3 101.3,71.3 102.2,74.3 103.1,77.3 104,80.3 104.9,83.3 105.9,86.3 106.9,89.3 107.9,92.3 108.9,95.3 110,98.3 111.1,101.3 112.2,104.3 113.3,107.3 114.5,110.3 115.8,113.3 117,116.3 118.3,119.3 119.5,122 120.8,124.8 122.1,127.5 123.4,130.3 124.8,133.1 126.2,135.8 127.6,138.6 129.1,141.3 130.7,144.1 132.3,146.8 134,149.6 135.7,152.3 137.5,155.1 139.1,157.6 140.9,160.1 142.6,162.6 144.5,165.1 146.4,167.6 148.4,170.1 150.5,172.6 152.6,175.1 154.6,177.3 156.7,179.6 158.9,181.8 161.1,184.1 163.5,186.3 165.9,188.6 168.2,190.6 170.5,192.6 172.9,194.6 175.4,196.6 178.1,198.6 180.8,200.6 183.3,202.3 185.9,204.1 188.6,205.8 191.4,207.6 194.3,209.3 196.9,210.8 199.6,212.3 202.4,213.8 205.4,215.3 208.4,216.8 211.6,218.3 214.3,219.6 217.2,220.8 220.1,222.1 223.2,223.3 226.4,224.6 229.7,225.8 233.1,227.1 236,228.1 239,229.1 242.1,230.1 245.3,231.1 248.6,232.1 252,233.1 255.6,234.1 259.3,235.1 263.2,236.1 266.2,236.8 269.3,237.6 272.5,238.3 275.8,239.1 279.2,239.8 282.8,240.6 286.5,241.3 290.3,242.1 294.3,242.8 298.4,243.6 302.7,244.3 307.1,245.1 310.2,245.6 310.7,248.3 320.7,248.3 320.7,5.3" fill="#78bb16"/>
<polygon points="86.7,5.3 87.2,8.3 87.8,11.3 88.4,14.3 89,17.3 89.6,20.3 90.2,23.3 90.9,26.3 91.5,29.3 92.2,32.3 92.8,35.3 93.5,38.3 94.2,41.3 94.9,44.3 95.7,47.3 96.4,50.3 97.2,53.3 97.9,56.3 98.7,59.3 99.5,62.3 100.4,65.3 101.2,68.3 102.1,71.3 103,74.3 103.9,77.3 104.8,80.3 105.7,83.3 106.7,86.3 107.7,89.3 108.7,92.3 109.8,95.3 110.8,98.3 112,101.3 113.1,104.3 114.3,107.3 115.5,110.3 116.7,113.3 118,116.3 119.3,119.3 120.5,122 121.8,124.8 123.1,127.5 124.4,130.3 125.8,133.1 127.2,135.8 128.7,138.6 130.2,141.3 131.8,144.1 133.4,146.8 135.1,149.6 136.8,152.3 138.6,155.1 140.3,157.6 142.1,160.1 143.9,162.6 145.8,165.1 147.7,167.6 149.7,170.1 151.8,172.6 154,175.1 156,177.3 158.2,179.6 160.3,181.8 162.6,184.1 165,186.3 167.4,188.6 169.7,190.6 172.1,192.6 174.5,194.6 177.1,196.6 179.7,198.6 182.5,200.6 185,202.3 187.7,204.1 190.4,205.8 193.2,207.6 196.2,209.3 198.8,210.8 201.6,212.3 204.4,213.8 207.4,215.3 210.5,216.8 213.7,218.3 216.4,219.6 219.3,220.8 222.3,222.1 225.4,223.3 228.7,224.6 232,225.8 235.5,227.1 238.4,228.1 241.4,229.1 244.5,230.1 247.8,231.1 251.1,232.1 254.6,233.1 258.2,234.1 262,235.1 264.9,235.8 267.9,236.6 271,237.3 274.3,238.1 277.6,238.8 281,239.6 284.6,240.3 288.3,241.1 292.1,241.8 296.1,242.6 300.2,243.3 304.4,244.1 308.9,244.8 310.7,246.6 320.7,246.6 320.7,5.3" fill="#7abc17"/>
<polygon points="87.5,5.3 88,8.3 88.6,11.3 89.2,14.3 89.8,17.3 90.5,20.3 91.1,23.3 91.7,26.3 92.4,29.3 93.1,32.3 93.7,35.3 94.4,38.3 95.1,41.3 95.9,44.3 96.6,47.3 97.4,50.3 98.1,53.3 98.9,56.3 99.7,59.3 100.5,62.3 101.4,65.3 102.2,68.3 103.1,71.3 104,74.3 104.9,77.3 105.9,80.3 106.8,83.3 107.8,86.3 108.8,89.3 109.9,92.3 110.9,95.3 112,98.3 113.1,101.3 114.3,104.3 115.5,107.3 116.7,110.3 117.9,113.3 119.2,116.3 120.4,119 121.7,121.8 123,124.5 124.3,127.3 125.7,130.1 127.1,132.8 128.5,135.6 130,138.3 131.5,141.1 133.1,143.8 134.8,146.6 136.5,149.3 138.2,152.1 140.1,154.8 141.8,157.3 143.5,159.8 145.4,162.3 147.3,164.8 149.3,167.3 151.3,169.8 153.4,172.3 155.6,174.8 157.7,177.1 159.8,179.3 162,181.6 164.3,183.8 166.7,186.1 169.2,188.3 171.5,190.3 173.9,192.3 176.4,194.3 179,196.3 181.6,198.3 184.1,200.1 186.6,201.8 189.3,203.6 192,205.3 194.9,207.1 197.8,208.8 200.5,210.3 203.2,211.8 206.1,213.3 209,214.8 212.1,216.3 215.4,217.8 218.1,219.1 221,220.3 224,221.6 227.1,222.8 230.4,224.1 233.7,225.3 237.2,226.6 240.1,227.6 243.1,228.6 246.3,229.6 249.5,230.6 252.8,231.6 256.3,232.6 259.9,233.6 263.7,234.6 266.6,235.3 269.6,236.1 272.7,236.8 275.9,237.6 279.2,238.3 282.6,239.1 286.1,239.8 289.8,240.6 293.6,241.3 297.5,242.1 301.6,242.8 305.8,243.6 310.2,244.3 310.7,247.1 320.7,247.1 320.7,5.3" fill="#7dbe18"/>
<polygon points="88.3,5.3 88.8,8.3 89.4,11.3 90.1,14.3 90.7,17.3 91.3,20.3 91.9,23.3 92.6,26.3 93.3,29.3 93.9,32.3 94.6,35.3 95.3,38.3 96.1,41.3 96.8,44.3 97.5,47.3 98.3,50.3 99.1,53.3 99.9,56.3 100.7,59.3 101.5,62.3 102.4,65.3 103.2,68.3 104.1,71.3 105,74.3 106,77.3 106.9,80.3 107.9,83.3 108.9,86.3 109.9,89.3 111,92.3 112.1,95.3 113.2,98.3 114.3,101.3 115.5,104.3 116.7,107.3 117.9,110.3 119.2,113.3 120.5,116.3 121.7,119 123,121.8 124.3,124.5 125.6,127.3 127,130.1 128.5,132.8 129.9,135.6 131.4,138.3 133,141.1 134.6,143.8 136.3,146.6 138,149.3 139.8,152.1 141.5,154.6 143.2,157.1 145,159.6 146.9,162.1 148.8,164.6 150.8,167.1 152.8,169.6 155,172.1 157,174.3 159.1,176.6 161.2,178.8 163.4,181.1 165.8,183.3 168.2,185.6 170.7,187.8 173,189.8 175.4,191.8 177.9,193.8 180.5,195.8 183.2,197.8 185.6,199.6 188.2,201.3 190.8,203.1 193.6,204.8 196.5,206.6 199.4,208.3 202.1,209.8 204.9,211.3 207.7,212.8 210.7,214.3 213.8,215.8 217,217.3 219.8,218.6 222.7,219.8 225.7,221.1 228.8,222.3 232.1,223.6 235.4,224.8 238.9,226.1 241.8,227.1 244.8,228.1 247.9,229.1 251.2,230.1 254.5,231.1 258,232.1 261.6,233.1 265.3,234.1 269.2,235.1 272.2,235.8 275.3,236.6 278.6,237.3 281.9,238.1 285.3,238.8 288.9,239.6 292.5,240.3 296.3,241.1 300.3,241.8 304.4,242.6 308.6,243.3 310.7,244.8 320.7,244.8 320.7,5.3" fill="#83bf1d"/>
<polygon points="89.1,5.3 89.7,8.3 90.3,11.3 90.9,14.3 91.5,17.3 92.1,20.3 92.8,23.3 93.5,26.3 94.1,29.3 94.8,32.3 95.5,35.3 96.2,38.3 97,41.3 97.7,44.3 98.5,47.3 99.2,50.3 100,53.3 100.8,56.3 101.7,59.3 102.5,62.3 103.4,65.3 104.3,68.3 105.2,71.3 106.1,74.3 107,77.3 108,80.3 109,83.3 110,86.3 111,89.3 112.1,92.3 113.2,95.3 114.3,98.3 115.5,101.3 116.7,104.3 117.9,107.3 119.1,110.3 120.4,113.3 121.6,116 122.9,118.8 124.2,121.5 125.5,124.3 126.9,127 128.3,129.8 129.7,132.6 131.2,135.3 132.7,138.1 134.3,140.8 135.9,143.6 137.6,146.3 139.4,149.1 141.2,151.8 142.9,154.3 144.6,156.8 146.5,159.3 148.3,161.8 150.3,164.3 152.3,166.8 154.4,169.3 156.6,171.8 158.6,174.1 160.7,176.3 162.8,178.6 165.1,180.8 167.4,183.1 169.9,185.3 172.1,187.3 174.5,189.3 176.9,191.3 179.4,193.3 182,195.3 184.7,197.3 187.2,199.1 189.8,200.8 192.4,202.6 195.2,204.3 198.1,206.1 201.1,207.8 203.7,209.3 206.5,210.8 209.4,212.3 212.3,213.8 215.4,215.3 218.7,216.8 221.5,218.1 224.4,219.3 227.4,220.6 230.5,221.8 233.7,223.1 237.1,224.3 240.6,225.6 243.5,226.6 246.5,227.6 249.6,228.6 252.8,229.6 256.2,230.6 259.6,231.6 263.2,232.6 266.9,233.6 270.8,234.6 273.8,235.3 276.9,236.1 280.1,236.8 283.4,237.6 286.8,238.3 290.4,239.1 294,239.8 297.8,240.6 301.7,241.3 305.8,242.1 310,242.8 310.7,245.3 320.7,245.3 320.7,5.3" fill="#8bc123"/>
<polygon points="89.9,5.3 90.5,8.3 91.1,11.3 91.7,14.3 92.3,17.3 93,20.3 93.7,23.3 94.3,26.3 95,29.3 95.7,32.3 96.4,35.3 97.1,38.3 97.9,41.3 98.6,44.3 99.4,47.3 100.2,50.3 101,53.3 101.8,56.3 102.6,59.3 103.5,62.3 104.4,65.3 105.3,68.3 106.2,71.3 107.1,74.3 108.1,77.3 109.1,80.3 110.1,83.3 111.1,86.3 112.2,89.3 113.2,92.3 114.3,95.3 115.5,98.3 116.7,101.3 117.9,104.3 119.1,107.3 120.4,110.3 121.7,113.3 122.9,116 124.2,118.8 125.5,121.5 126.8,124.3 128.2,127 129.6,129.8 131.1,132.6 132.6,135.3 134.2,138.1 135.8,140.8 137.4,143.6 139.1,146.3 140.9,149.1 142.6,151.6 144.3,154.1 146.1,156.6 147.9,159.1 149.8,161.6 151.8,164.1 153.8,166.6 155.9,169.1 158.1,171.6 160.2,173.8 162.3,176.1 164.5,178.3 166.8,180.6 169.1,182.8 171.6,185.1 173.9,187.1 176.2,189.1 178.7,191.1 181.2,193.1 183.8,195.1 186.6,197.1 189.1,198.8 191.7,200.6 194.4,202.3 197.1,204.1 200.1,205.8 203.1,207.6 205.8,209.1 208.6,210.6 211.5,212.1 214.5,213.6 217.6,215.1 220.9,216.6 223.7,217.8 226.6,219.1 229.6,220.3 232.8,221.6 236,222.8 239.4,224.1 243,225.3 245.9,226.3 248.9,227.3 252,228.3 255.3,229.3 258.6,230.3 262.1,231.3 265.7,232.3 269.5,233.3 272.4,234.1 275.4,234.8 278.5,235.6 281.6,236.3 284.9,237.1 288.3,237.8 291.8,238.6 295.5,239.3 299.2,240.1 303.1,240.8 307.1,241.6 310.7,242.3 320.7,242.3 320.7,5.3" fill="#92c329"/>
<polygon points="90.7,5.3 91.3,8.3 91.9,11.3 92.5,14.3 93.2,17.3 93.8,20.3 94.5,23.3 95.2,26.3 95.9,29.3 96.6,32.3 97.3,35.3 98,38.3 98.8,41.3 99.5,44.3 100.3,47.3 101.1,50.3 101.9,53.3 102.8,56.3 103.6,59.3 104.5,62.3 105.4,65.3 106.3,68.3 107.2,71.3 108.2,74.3 109.1,77.3 110.1,80.3 111.1,83.3 112.2,86.3 113.3,89.3 114.4,92.3 115.5,95.3 116.6,98.3 117.8,101.3 119,104.3 120.3,107.3 121.6,110.3 122.8,113 124.1,115.8 125.3,118.5 126.7,121.3 128,124 129.4,126.8 130.8,129.6 132.3,132.3 133.8,135.1 135.4,137.8 137,140.6 138.7,143.3 140.5,146.1 142.2,148.8 143.9,151.3 145.7,153.8 147.5,156.3 149.3,158.8 151.2,161.3 153.2,163.8 155.3,166.3 157.4,168.8 159.4,171.1 161.5,173.3 163.6,175.6 165.8,177.8 168.1,180.1 170.5,182.3 173,184.6 175.3,186.6 177.6,188.6 180.1,190.6 182.7,192.6 185.3,194.6 188.1,196.6 190.6,198.3 193.2,200.1 195.9,201.8 198.7,203.6 201.6,205.3 204.6,207.1 207.3,208.6 210.1,210.1 213,211.6 216.1,213.1 219.2,214.6 222.5,216.1 225.3,217.3 228.2,218.6 231.2,219.8 234.4,221.1 237.6,222.3 241,223.6 244.6,224.8 247.5,225.8 250.5,226.8 253.6,227.8 256.9,228.8 260.2,229.8 263.7,230.8 267.3,231.8 271,232.8 274.9,233.8 277.9,234.6 281,235.3 284.2,236.1 287.5,236.8 290.9,237.6 294.4,238.3 298.1,239.1 301.8,239.8 305.7,240.6 309.8,241.3 310.7,243.8 320.7,243.8 320.7,5.3" fill="#9bc52e"/>
<polygon points="91.4,5.3 92.1,8.3 92.7,11.3 93.3,14.3 94,17.3 94.6,20.3 95.3,23.3 96,26.3 96.7,29.3 97.4,32.3 98.2,35.3 98.9,38.3 99.7,41.3 100.4,44.3 101.2,47.3 102,50.3 102.9,53.3 103.7,56.3 104.6,59.3 105.4,62.3 106.3,65.3 107.3,68.3 108.2,71.3 109.2,74.3 110.1,77.3 111.1,80.3 112.2,83.3 113.2,86.3 114.3,89.3 115.4,92.3 116.6,95.3 117.7,98.3 119,101.3 120.2,104.3 121.5,107.3 122.8,110.3 124,113 125.3,115.8 126.6,118.5 127.9,121.3 129.3,124 130.7,126.8 132.1,129.6 133.6,132.3 135.2,135.1 136.8,137.8 138.4,140.6 140.1,143.3 141.9,146.1 143.7,148.8 145.4,151.3 147.2,153.8 149,156.3 150.9,158.8 152.8,161.3 154.8,163.8 156.9,166.3 159.1,168.8 161.1,171.1 163.2,173.3 165.4,175.6 167.6,177.8 169.9,180.1 172.4,182.3 174.9,184.6 177.2,186.6 179.6,188.6 182.1,190.6 184.7,192.6 187.4,194.6 189.8,196.3 192.3,198.1 195,199.8 197.7,201.6 200.5,203.3 203.5,205.1 206.1,206.6 208.8,208.1 211.6,209.6 214.5,211.1 217.5,212.6 220.7,214.1 223.9,215.6 226.8,216.8 229.7,218.1 232.7,219.3 235.9,220.6 239.1,221.8 242.5,223.1 246,224.3 248.9,225.3 252,226.3 255.1,227.3 258.3,228.3 261.6,229.3 265.1,230.3 268.7,231.3 272.4,232.3 276.3,233.3 279.3,234.1 282.3,234.8 285.5,235.6 288.8,236.3 292.2,237.1 295.7,237.8 299.3,238.6 303.1,239.3 306.9,240.1 310.7,240.8 320.7,240.8 320.7,5.3" fill="#a4c733"/>
<polygon points="92.2,5.3 92.8,8.3 93.5,11.3 94.1,14.3 94.8,17.3 95.5,20.3 96.1,23.3 96.8,26.3 97.5,29.3 98.3,32.3 99,35.3 99.8,38.3 100.5,41.3 101.3,44.3 102.1,47.3 102.9,50.3 103.8,53.3 104.6,56.3 105.5,59.3 106.4,62.3 107.3,65.3 108.2,68.3 109.2,71.3 110.1,74.3 111.1,77.3 112.2,80.3 113.2,83.3 114.3,86.3 115.4,89.3 116.5,92.3 117.7,95.3 118.9,98.3 120.1,101.3 121.3,104.3 122.6,107.3 123.8,110 125.1,112.8 126.4,115.5 127.7,118.3 129,121 130.4,123.8 131.8,126.5 133.3,129.3 134.8,132.1 136.4,134.8 138,137.6 139.7,140.3 141.4,143.1 143.2,145.8 144.8,148.3 146.5,150.8 148.3,153.3 150.2,155.8 152.1,158.3 154,160.8 156,163.3 158.1,165.8 160.3,168.3 162.4,170.6 164.5,172.8 166.6,175.1 168.9,177.3 171.2,179.6 173.7,181.8 175.9,183.8 178.2,185.8 180.6,187.8 183.1,189.8 185.7,191.8 188.4,193.8 190.8,195.6 193.4,197.3 196,199.1 198.7,200.8 201.5,202.6 204.5,204.3 207.1,205.8 209.8,207.3 212.6,208.8 215.5,210.3 218.5,211.8 221.6,213.3 224.8,214.8 227.7,216.1 230.6,217.3 233.6,218.6 236.7,219.8 239.9,221.1 243.3,222.3 246.8,223.6 249.7,224.6 252.6,225.6 255.7,226.6 258.9,227.6 262.2,228.6 265.6,229.6 269.2,230.6 272.8,231.6 276.6,232.6 279.6,233.3 282.6,234.1 285.8,234.8 289,235.6 292.3,236.3 295.8,237.1 299.3,237.8 303,238.6 306.8,239.3 310.7,240.1 320.7,240.1 320.7,5.3" fill="#b7ce37"/>
<polygon points="93,5.3 93.6,8.3 94.3,11.3 94.9,14.3 95.6,17.3 96.3,20.3 97,23.3 97.7,26.3 98.4,29.3 99.1,32.3 99.9,35.3 100.6,38.3 101.4,41.3 102.2,44.3 103,47.3 103.8,50.3 104.7,53.3 105.5,56.3 106.4,59.3 107.3,62.3 108.3,65.3 109.2,68.3 110.2,71.3 111.1,74.3 112.2,77.3 113.2,80.3 114.3,83.3 115.3,86.3 116.4,89.3 117.6,92.3 118.8,95.3 120,98.3 121.2,101.3 122.5,104.3 123.8,107.3 125,110 126.3,112.8 127.6,115.5 128.9,118.3 130.3,121 131.7,123.8 133.1,126.5 134.6,129.3 136.1,132.1 137.7,134.8 139.4,137.6 141.1,140.3 142.8,143.1 144.6,145.8 146.3,148.3 148,150.8 149.8,153.3 151.7,155.8 153.6,158.3 155.6,160.8 157.6,163.3 159.8,165.8 161.8,168.1 163.8,170.3 165.9,172.6 168.1,174.8 170.4,177.1 172.8,179.3 175.2,181.6 177.5,183.6 179.8,185.6 182.3,187.6 184.8,189.6 187.4,191.6 190.1,193.6 192.6,195.3 195.1,197.1 197.8,198.8 200.5,200.6 203.3,202.3 206.3,204.1 208.9,205.6 211.6,207.1 214.5,208.6 217.4,210.1 220.4,211.6 223.6,213.1 226.8,214.6 229.7,215.8 232.6,217.1 235.6,218.3 238.8,219.6 242,220.8 245.4,222.1 248.9,223.3 251.8,224.3 254.8,225.3 257.9,226.3 261.1,227.3 264.5,228.3 267.9,229.3 271.4,230.3 275.1,231.3 279,232.3 281.9,233.1 285,233.8 288.1,234.6 291.4,235.3 294.7,236.1 298.2,236.8 301.7,237.6 305.4,238.3 309.2,239.1 310.7,241.1 320.7,241.1 320.7,5.3" fill="#ced63a"/>
<polygon points="93.7,5.3 94.4,8.3 95,11.3 95.7,14.3 96.4,17.3 97.1,20.3 97.8,23.3 98.5,26.3 99.2,29.3 100,32.3 100.7,35.3 101.5,38.3 102.3,41.3 103.1,44.3 103.9,47.3 104.7,50.3 105.6,53.3 106.5,56.3 107.4,59.3 108.3,62.3 109.2,65.3 110.2,68.3 111.1,71.3 112.1,74.3 113.2,77.3 114.2,80.3 115.3,83.3 116.4,86.3 117.5,89.3 118.7,92.3 119.9,95.3 121.1,98.3 122.3,101.3 123.6,104.3 124.8,107 126.1,109.8 127.3,112.5 128.7,115.3 130,118 131.4,120.8 132.8,123.5 134.3,126.3 135.8,129.1 137.3,131.8 138.9,134.6 140.6,137.3 142.3,140.1 144,142.8 145.9,145.6 147.6,148.1 149.3,150.6 151.1,153.1 153,155.6 155,158.1 157,160.6 159,163.1 161.2,165.6 163.2,167.8 165.3,170.1 167.4,172.3 169.6,174.6 171.9,176.8 174.3,179.1 176.8,181.3 179.1,183.3 181.4,185.3 183.9,187.3 186.4,189.3 189.1,191.3 191.8,193.3 194.3,195.1 196.8,196.8 199.5,198.6 202.3,200.3 205.1,202.1 208.1,203.8 210.8,205.3 213.5,206.8 216.4,208.3 219.3,209.8 222.4,211.3 225.5,212.8 228.3,214.1 231.1,215.3 234,216.6 237.1,217.8 240.2,219.1 243.5,220.3 246.8,221.6 250.3,222.8 253.2,223.8 256.2,224.8 259.3,225.8 262.5,226.8 265.8,227.8 269.3,228.8 272.8,229.8 276.5,230.8 280.3,231.8 283.2,232.6 286.3,233.3 289.4,234.1 292.6,234.8 296,235.6 299.4,236.3 302.9,237.1 306.6,237.8 310.3,238.6 310.7,241.6 320.7,241.6 320.7,5.3" fill="#e2dc3c"/>
<polygon points="94.5,5.3 95.2,8.3 95.8,11.3 96.5,14.3 97.2,17.3 97.9,20.3 98.6,23.3 99.3,26.3 100.1,29.3 100.8,32.3 101.6,35.3 102.4,38.3 103.2,41.3 104,44.3 104.8,47.3 105.6,50.3 106.5,53.3 107.4,56.3 108.3,59.3 109.2,62.3 110.2,65.3 111.1,68.3 112.1,71.3 113.1,74.3 114.2,77.3 115.2,80.3 116.3,83.3 117.4,86.3 118.6,89.3 119.8,92.3 121,95.3 122.2,98.3 123.5,101.3 124.8,104.3 126,107 127.2,109.8 128.5,112.5 129.9,115.3 131.2,118 132.6,120.8 134.1,123.5 135.5,126.3 137.1,129.1 138.6,131.8 140.3,134.6 141.9,137.3 143.7,140.1 145.4,142.8 147.1,145.3 148.8,147.8 150.6,150.3 152.5,152.8 154.3,155.3 156.3,157.8 158.3,160.3 160.4,162.8 162.6,165.3 164.6,167.6 166.7,169.8 168.9,172.1 171.1,174.3 173.4,176.6 175.9,178.8 178.4,181.1 180.7,183.1 183,185.1 185.5,187.1 188.1,189.1 190.7,191.1 193.5,193.1 196,194.8 198.6,196.6 201.3,198.3 204.1,200.1 206.9,201.8 210,203.6 212.6,205.1 215.4,206.6 218.2,208.1 221.2,209.6 224.3,211.1 227.5,212.6 230.3,213.8 233.1,215.1 236.1,216.3 239.1,217.6 242.3,218.8 245.5,220.1 248.9,221.3 252.5,222.6 255.4,223.6 258.4,224.6 261.5,225.6 264.7,226.6 268,227.6 271.5,228.6 275,229.6 278.7,230.6 282.6,231.6 285.5,232.3 288.6,233.1 291.7,233.8 295,234.6 298.3,235.3 301.7,236.1 305.3,236.8 308.9,237.6 310.7,239.3 320.7,239.3 320.7,5.3" fill="#e8d93d"/>
<polygon points="95.2,5.3 95.9,8.3 96.6,11.3 97.2,14.3 97.9,17.3 98.6,20.3 99.4,23.3 100.1,26.3 100.8,29.3 101.6,32.3 102.4,35.3 103.2,38.3 104,41.3 104.8,44.3 105.6,47.3 106.5,50.3 107.4,53.3 108.3,56.3 109.2,59.3 110.1,62.3 111.1,65.3 112.1,68.3 113,71.3 114.1,74.3 115.1,77.3 116.2,80.3 117.3,83.3 118.4,86.3 119.6,89.3 120.8,92.3 122,95.3 123.2,98.3 124.5,101.3 125.7,104 126.9,106.8 128.2,109.5 129.5,112.3 130.8,115 132.2,117.8 133.6,120.5 135.1,123.3 136.6,126 138.1,128.8 139.7,131.6 141.3,134.3 143,137.1 144.8,139.8 146.6,142.6 148.2,145.1 150,147.6 151.8,150.1 153.6,152.6 155.5,155.1 157.5,157.6 159.5,160.1 161.6,162.6 163.8,165.1 165.9,167.3 168,169.6 170.2,171.8 172.4,174.1 174.7,176.3 177.2,178.6 179.7,180.8 182,182.8 184.4,184.8 186.9,186.8 189.5,188.8 192.1,190.8 194.9,192.8 197.4,194.6 200,196.3 202.7,198.1 205.5,199.8 208.4,201.6 211.4,203.3 214.1,204.8 216.9,206.3 219.8,207.8 222.8,209.3 225.8,210.8 229,212.3 231.8,213.6 234.7,214.8 237.6,216.1 240.7,217.3 243.9,218.6 247.1,219.8 250.5,221.1 254.1,222.3 257,223.3 260,224.3 263.1,225.3 266.4,226.3 269.7,227.3 273.1,228.3 276.7,229.3 280.4,230.3 284.2,231.3 287.2,232.1 290.2,232.8 293.3,233.6 296.6,234.3 299.9,235.1 303.3,235.8 306.9,236.6 310.5,237.3 310.7,240.3 320.7,240.3 320.7,5.3" fill="#e6cd39"/>
<polygon points="95.9,5.3 96.6,8.3 97.3,11.3 98,14.3 98.7,17.3 99.4,20.3 100.1,23.3 100.8,26.3 101.6,29.3 102.4,32.3 103.1,35.3 103.9,38.3 104.8,41.3 105.6,44.3 106.4,47.3 107.3,50.3 108.2,53.3 109.1,56.3 110,59.3 111,62.3 111.9,65.3 112.9,68.3 113.9,71.3 114.9,74.3 116,77.3 117.1,80.3 118.2,83.3 119.3,86.3 120.5,89.3 121.7,92.3 122.9,95.3 124.2,98.3 125.5,101.3 126.7,104 127.9,106.8 129.2,109.5 130.5,112.3 131.9,115 133.2,117.8 134.7,120.5 136.1,123.3 137.6,126 139.2,128.8 140.8,131.6 142.4,134.3 144.1,137.1 145.9,139.8 147.7,142.6 149.4,145.1 151.2,147.6 153,150.1 154.8,152.6 156.7,155.1 158.7,157.6 160.8,160.1 162.9,162.6 165.1,165.1 167.2,167.3 169.3,169.6 171.5,171.8 173.8,174.1 176.1,176.3 178.6,178.6 180.8,180.6 183.1,182.6 185.5,184.6 188,186.6 190.6,188.6 193.3,190.6 196,192.6 198.6,194.3 201.2,196.1 203.9,197.8 206.7,199.6 209.6,201.3 212.6,203.1 215.3,204.6 218.1,206.1 220.9,207.6 223.9,209.1 227,210.6 230.2,212.1 233,213.3 235.8,214.6 238.8,215.8 241.8,217.1 245,218.3 248.3,219.6 251.7,220.8 255.2,222.1 258.1,223.1 261.1,224.1 264.2,225.1 267.4,226.1 270.7,227.1 274.2,228.1 277.7,229.1 281.4,230.1 285.2,231.1 288.1,231.8 291.2,232.6 294.3,233.3 297.5,234.1 300.8,234.8 304.2,235.6 307.7,236.3 310.7,237.1 320.7,237.1 320.7,5.3" fill="#e7bf36"/>
<polygon points="96.6,5.3 97.3,8.3 98,11.3 98.7,14.3 99.4,17.3 100.1,20.3 100.8,23.3 101.6,26.3 102.3,29.3 103.1,32.3 103.9,35.3 104.7,38.3 105.5,41.3 106.4,44.3 107.2,47.3 108.1,50.3 109,53.3 109.9,56.3 110.8,59.3 111.8,62.3 112.8,65.3 113.8,68.3 114.8,71.3 115.8,74.3 116.9,77.3 118,80.3 119.1,83.3 120.2,86.3 121.4,89.3 122.6,92.3 123.8,95.3 125.1,98.3 126.4,101.3 127.6,104 128.9,106.8 130.2,109.5 131.5,112.3 132.9,115 134.3,117.8 135.7,120.5 137.2,123.3 138.7,126 140.3,128.8 141.9,131.6 143.5,134.3 145.3,137.1 147,139.8 148.9,142.6 150.6,145.1 152.3,147.6 154.1,150.1 156,152.6 158,155.1 160,157.6 162,160.1 164.2,162.6 166.2,164.8 168.2,167.1 170.4,169.3 172.6,171.6 174.8,173.8 177.2,176.1 179.7,178.3 181.9,180.3 184.2,182.3 186.6,184.3 189.1,186.3 191.7,188.3 194.4,190.3 197.2,192.3 199.7,194.1 202.3,195.8 205,197.6 207.8,199.3 210.8,201.1 213.8,202.8 216.5,204.3 219.2,205.8 222.1,207.3 225.1,208.8 228.2,210.3 231.4,211.8 234.1,213.1 237,214.3 239.9,215.6 243,216.8 246.1,218.1 249.4,219.3 252.8,220.6 256.3,221.8 259.2,222.8 262.2,223.8 265.3,224.8 268.5,225.8 271.8,226.8 275.2,227.8 278.8,228.8 282.4,229.8 286.2,230.8 289.1,231.6 292.1,232.3 295.2,233.1 298.4,233.8 301.7,234.6 305.1,235.3 308.6,236.1 310.7,237.6 320.7,237.6 320.7,5.3" fill="#e9b032"/>
<polygon points="97.3,5.3 98,8.3 98.7,11.3 99.4,14.3 100.1,17.3 100.8,20.3 101.6,23.3 102.3,26.3 103.1,29.3 103.9,32.3 104.7,35.3 105.5,38.3 106.3,41.3 107.2,44.3 108,47.3 108.9,50.3 109.8,53.3 110.7,56.3 111.7,59.3 112.6,62.3 113.6,65.3 114.6,68.3 115.6,71.3 116.7,74.3 117.8,77.3 118.9,80.3 120,83.3 121.1,86.3 122.3,89.3 123.5,92.3 124.8,95.3 126.1,98.3 127.3,101 128.5,103.8 129.8,106.5 131.1,109.3 132.4,112 133.8,114.8 135.2,117.5 136.6,120.3 138.1,123 139.6,125.8 141.2,128.6 142.8,131.3 144.5,134.1 146.2,136.8 148,139.6 149.7,142.1 151.4,144.6 153.1,147.1 155,149.6 156.8,152.1 158.8,154.6 160.8,157.1 162.9,159.6 165,162.1 167,164.3 169.1,166.6 171.2,168.8 173.4,171.1 175.7,173.3 178,175.6 180.5,177.8 182.7,179.8 185.1,181.8 187.5,183.8 190,185.8 192.5,187.8 195.2,189.8 198,191.8 200.5,193.6 203.1,195.3 205.8,197.1 208.6,198.8 211.5,200.6 214.5,202.3 217.2,203.8 219.9,205.3 222.8,206.8 225.7,208.3 228.8,209.8 232,211.3 234.7,212.6 237.6,213.8 240.5,215.1 243.5,216.3 246.6,217.6 249.9,218.8 253.2,220.1 256.7,221.3 259.6,222.3 262.6,223.3 265.6,224.3 268.8,225.3 272,226.3 275.4,227.3 278.9,228.3 282.5,229.3 286.2,230.3 290.1,231.3 293.1,232.1 296.2,232.8 299.4,233.6 302.6,234.3 306,235.1 309.5,235.8 310.7,238.1 320.7,238.1 320.7,5.3" fill="#eaa02f"/>
<polygon points="98,5.3 98.7,8.3 99.4,11.3 100.1,14.3 100.8,17.3 101.5,20.3 102.3,23.3 103.1,26.3 103.8,29.3 104.6,32.3 105.4,35.3 106.2,38.3 107.1,41.3 107.9,44.3 108.8,47.3 109.7,50.3 110.6,53.3 111.5,56.3 112.5,59.3 113.4,62.3 114.4,65.3 115.5,68.3 116.5,71.3 117.5,74.3 118.6,77.3 119.7,80.3 120.9,83.3 122,86.3 123.2,89.3 124.5,92.3 125.7,95.3 127,98.3 128.2,101 129.5,103.8 130.8,106.5 132.1,109.3 133.4,112 134.8,114.8 136.2,117.5 137.7,120.3 139.2,123 140.7,125.8 142.3,128.6 143.9,131.3 145.6,134.1 147.3,136.8 149.1,139.6 150.8,142.1 152.5,144.6 154.3,147.1 156.2,149.6 158,152.1 160,154.6 162,157.1 164.1,159.6 166.3,162.1 168.3,164.3 170.4,166.6 172.5,168.8 174.7,171.1 177,173.3 179.4,175.6 181.9,177.8 184.1,179.8 186.5,181.8 188.9,183.8 191.4,185.8 194,187.8 196.7,189.8 199.1,191.6 201.6,193.3 204.3,195.1 207,196.8 209.7,198.6 212.6,200.3 215.7,202.1 218.3,203.6 221.1,205.1 223.9,206.6 226.9,208.1 230,209.6 233.2,211.1 235.9,212.3 238.7,213.6 241.6,214.8 244.7,216.1 247.8,217.3 251,218.6 254.4,219.8 257.8,221.1 260.7,222.1 263.7,223.1 266.7,224.1 269.9,225.1 273.1,226.1 276.5,227.1 279.9,228.1 283.5,229.1 287.2,230.1 291.1,231.1 294.1,231.8 297.2,232.6 300.3,233.3 303.6,234.1 306.9,234.8 310.3,235.6 310.7,238.6 320.7,238.6 320.7,5.3" fill="#e88e2b"/>
<polygon points="98.7,5.3 99.4,8.3 100.1,11.3 100.8,14.3 101.5,17.3 102.2,20.3 103,23.3 103.8,26.3 104.5,29.3 105.3,32.3 106.2,35.3 107,38.3 107.8,41.3 108.7,44.3 109.6,47.3 110.5,50.3 111.4,53.3 112.3,56.3 113.3,59.3 114.2,62.3 115.2,65.3 116.3,68.3 117.3,71.3 118.4,74.3 119.5,77.3 120.6,80.3 121.7,83.3 122.9,86.3 124.1,89.3 125.4,92.3 126.6,95.3 127.9,98.3 129.2,101 130.4,103.8 131.7,106.5 133,109.3 134.4,112 135.8,114.8 137.2,117.5 138.7,120.3 140.2,123 141.7,125.8 143.3,128.6 145,131.3 146.7,134.1 148.4,136.8 150.2,139.6 151.9,142.1 153.7,144.6 155.4,147.1 157.3,149.6 159.2,152.1 161.2,154.6 163.2,157.1 165.3,159.6 167.5,162.1 169.5,164.3 171.6,166.6 173.8,168.8 176,171.1 178.3,173.3 180.7,175.6 183.2,177.8 185.5,179.8 187.8,181.8 190.3,183.8 192.8,185.8 195.4,187.8 198.1,189.8 200.6,191.6 203.1,193.3 205.7,195.1 208.4,196.8 211.2,198.6 214.2,200.3 217.2,202.1 219.9,203.6 222.7,205.1 225.5,206.6 228.5,208.1 231.6,209.6 234.8,211.1 237.5,212.3 240.4,213.6 243.3,214.8 246.4,216.1 249.5,217.3 252.7,218.6 256.1,219.8 259.6,221.1 262.5,222.1 265.4,223.1 268.5,224.1 271.7,225.1 274.9,226.1 278.3,227.1 281.8,228.1 285.4,229.1 289.1,230.1 293,231.1 296,231.8 299.1,232.6 302.2,233.3 305.5,234.1 308.8,234.8 310.7,236.6 320.7,236.6 320.7,5.3" fill="#e77c27"/>
<polygon points="99.3,5.3 100,8.3 100.7,11.3 101.5,14.3 102.2,17.3 102.9,20.3 103.7,23.3 104.5,26.3 105.3,29.3 106.1,32.3 106.9,35.3 107.7,38.3 108.6,41.3 109.4,44.3 110.3,47.3 111.2,50.3 112.1,53.3 113.1,56.3 114.1,59.3 115,62.3 116,65.3 117.1,68.3 118.1,71.3 119.2,74.3 120.3,77.3 121.4,80.3 122.6,83.3 123.8,86.3 125,89.3 126.2,92.3 127.5,95.3 128.7,98 130,100.8 131.2,103.5 132.5,106.3 133.8,109 135.2,111.8 136.6,114.5 138,117.3 139.5,120 141,122.8 142.6,125.5 144.2,128.3 145.9,131.1 147.6,133.8 149.3,136.6 151.1,139.3 152.8,141.8 154.6,144.3 156.4,146.8 158.2,149.3 160.2,151.8 162.1,154.3 164.2,156.8 166.3,159.3 168.5,161.8 170.5,164.1 172.6,166.3 174.8,168.6 177,170.8 179.3,173.1 181.7,175.3 184.2,177.6 186.5,179.6 188.9,181.6 191.3,183.6 193.8,185.6 196.4,187.6 199.2,189.6 201.6,191.3 204.2,193.1 206.8,194.8 209.5,196.6 212.3,198.3 215.2,200.1 218.3,201.8 221,203.3 223.7,204.8 226.6,206.3 229.6,207.8 232.7,209.3 235.9,210.8 238.6,212.1 241.4,213.3 244.4,214.6 247.4,215.8 250.5,217.1 253.8,218.3 257.1,219.6 260.6,220.8 263.5,221.8 266.4,222.8 269.5,223.8 272.7,224.8 275.9,225.8 279.3,226.8 282.7,227.8 286.3,228.8 290,229.8 293.9,230.8 296.9,231.6 299.9,232.3 303.1,233.1 306.3,233.8 309.6,234.6 310.7,236.8 320.7,236.8 320.7,5.3" fill="#e36824"/>
<polygon points="100,5.3 100.7,8.3 101.4,11.3 102.1,14.3 102.9,17.3 103.6,20.3 104.4,23.3 105.2,26.3 106,29.3 106.8,32.3 107.6,35.3 108.4,38.3 109.3,41.3 110.2,44.3 111.1,47.3 112,50.3 112.9,53.3 113.9,56.3 114.8,59.3 115.8,62.3 116.8,65.3 117.9,68.3 118.9,71.3 120,74.3 121.1,77.3 122.3,80.3 123.5,83.3 124.6,86.3 125.9,89.3 127.1,92.3 128.4,95.3 129.6,98 130.9,100.8 132.1,103.5 133.4,106.3 134.8,109 136.2,111.8 137.6,114.5 139,117.3 140.5,120 142,122.8 143.6,125.5 145.2,128.3 146.9,131.1 148.6,133.8 150.4,136.6 152.2,139.3 153.9,141.8 155.7,144.3 157.5,146.8 159.4,149.3 161.3,151.8 163.3,154.3 165.3,156.8 167.5,159.3 169.7,161.8 171.7,164.1 173.8,166.3 176,168.6 178.3,170.8 180.6,173.1 183,175.3 185.5,177.6 187.8,179.6 190.2,181.6 192.7,183.6 195.2,185.6 197.8,187.6 200.6,189.6 203,191.3 205.6,193.1 208.2,194.8 211,196.6 213.8,198.3 216.7,200.1 219.3,201.6 222,203.1 224.8,204.6 227.7,206.1 230.6,207.6 233.7,209.1 236.9,210.6 239.7,211.8 242.5,213.1 245.4,214.3 248.5,215.6 251.6,216.8 254.8,218.1 258.2,219.3 261.6,220.6 264.5,221.6 267.5,222.6 270.5,223.6 273.6,224.6 276.9,225.6 280.2,226.6 283.7,227.6 287.2,228.6 290.9,229.6 294.8,230.6 297.7,231.3 300.8,232.1 303.9,232.8 307.1,233.6 310.4,234.3 310.7,237.3 320.7,237.3 320.7,5.3" fill="#df5220"/>
<polygon points="100.6,5.3 101.4,8.3 102.1,11.3 102.8,14.3 103.5,17.3 104.3,20.3 105.1,23.3 105.9,26.3 106.7,29.3 107.5,32.3 108.3,35.3 109.2,38.3 110,41.3 110.9,44.3 111.8,47.3 112.7,50.3 113.7,53.3 114.6,56.3 115.6,59.3 116.6,62.3 117.6,65.3 118.7,68.3 119.8,71.3 120.9,74.3 122,77.3 123.1,80.3 124.3,83.3 125.5,86.3 126.7,89.3 128,92.3 129.3,95.3 130.5,98 131.8,100.8 133.1,103.5 134.4,106.3 135.7,109 137.1,111.8 138.5,114.5 140,117.3 141.5,120 143,122.8 144.6,125.5 146.2,128.3 147.9,131.1 149.7,133.8 151.4,136.6 153.1,139.1 154.8,141.6 156.6,144.1 158.4,146.6 160.3,149.1 162.2,151.6 164.2,154.1 166.3,156.6 168.4,159.1 170.6,161.6 172.7,163.8 174.8,166.1 177,168.3 179.3,170.6 181.6,172.8 184,175.1 186.5,177.3 188.8,179.3 191.2,181.3 193.7,183.3 196.2,185.3 198.9,187.3 201.6,189.3 204.1,191.1 206.6,192.8 209.3,194.6 212,196.3 214.9,198.1 217.8,199.8 220.4,201.3 223.1,202.8 225.9,204.3 228.7,205.8 231.7,207.3 234.8,208.8 238,210.3 240.7,211.6 243.6,212.8 246.5,214.1 249.5,215.3 252.6,216.6 255.8,217.8 259.2,219.1 262.7,220.3 265.5,221.3 268.5,222.3 271.5,223.3 274.6,224.3 277.8,225.3 281.2,226.3 284.6,227.3 288.2,228.3 291.9,229.3 295.7,230.3 298.6,231.1 301.6,231.8 304.7,232.6 307.9,233.3 310.7,234.3 320.7,234.3 320.7,5.3" fill="#da3d1e"/>
<polygon points="101.3,5.3 102,8.3 102.7,11.3 103.5,14.3 104.2,17.3 105,20.3 105.8,23.3 106.6,26.3 107.4,29.3 108.2,32.3 109,35.3 109.9,38.3 110.8,41.3 111.7,44.3 112.6,47.3 113.5,50.3 114.4,53.3 115.4,56.3 116.4,59.3 117.4,62.3 118.4,65.3 119.5,68.3 120.6,71.3 121.7,74.3 122.8,77.3 124,80.3 125.2,83.3 126.4,86.3 127.6,89.3 128.9,92.3 130.1,95 131.3,97.8 132.6,100.5 133.9,103.3 135.2,106 136.5,108.8 137.9,111.5 139.4,114.3 140.8,117 142.3,119.8 143.9,122.5 145.5,125.3 147.1,128.1 148.8,130.8 150.5,133.6 152.3,136.3 154,138.8 155.7,141.3 157.5,143.8 159.3,146.3 161.2,148.8 163.2,151.3 165.2,153.8 167.3,156.3 169.4,158.8 171.4,161.1 173.4,163.3 175.6,165.6 177.8,167.8 180,170.1 182.3,172.3 184.8,174.6 187.3,176.8 189.6,178.8 192,180.8 194.4,182.8 197,184.8 199.6,186.8 202.3,188.8 204.8,190.6 207.3,192.3 210,194.1 212.7,195.8 215.5,197.6 218.4,199.3 221.5,201.1 224.2,202.6 226.9,204.1 229.8,205.6 232.8,207.1 235.9,208.6 239,210.1 241.8,211.3 244.6,212.6 247.5,213.8 250.5,215.1 253.7,216.3 256.9,217.6 260.2,218.8 263.7,220.1 266.5,221.1 269.5,222.1 272.5,223.1 275.6,224.1 278.8,225.1 282.1,226.1 285.6,227.1 289.1,228.1 292.8,229.1 296.6,230.1 299.5,230.8 302.5,231.6 305.6,232.3 308.8,233.1 310.7,234.8 320.7,234.8 320.7,5.3" fill="#d62d1f"/>
<polygon points="102,5.3 102.7,8.3 103.5,11.3 104.2,14.3 105,17.3 105.7,20.3 106.5,23.3 107.3,26.3 108.1,29.3 109,32.3 109.8,35.3 110.7,38.3 111.6,41.3 112.5,44.3 113.4,47.3 114.3,50.3 115.3,53.3 116.3,56.3 117.3,59.3 118.3,62.3 119.3,65.3 120.4,68.3 121.5,71.3 122.6,74.3 123.7,77.3 124.9,80.3 126.1,83.3 127.3,86.3 128.6,89.3 129.9,92.3 131.1,95 132.3,97.8 133.6,100.5 134.9,103.3 136.2,106 137.6,108.8 139,111.5 140.4,114.3 141.9,117 143.4,119.8 145,122.5 146.6,125.3 148.2,128.1 149.9,130.8 151.7,133.6 153.5,136.3 155.2,138.8 156.9,141.3 158.7,143.8 160.6,146.3 162.5,148.8 164.4,151.3 166.4,153.8 168.5,156.3 170.7,158.8 172.7,161.1 174.8,163.3 176.9,165.6 179.1,167.8 181.4,170.1 183.7,172.3 186.2,174.6 188.4,176.6 190.7,178.6 193.1,180.6 195.6,182.6 198.1,184.6 200.7,186.6 203.5,188.6 205.9,190.3 208.5,192.1 211.1,193.8 213.9,195.6 216.7,197.3 219.6,199.1 222.7,200.8 225.4,202.3 228.1,203.8 231,205.3 234,206.8 237,208.3 240.2,209.8 243,211.1 245.8,212.3 248.7,213.6 251.7,214.8 254.8,216.1 258.1,217.3 261.4,218.6 264.8,219.8 267.7,220.8 270.6,221.8 273.6,222.8 276.7,223.8 279.9,224.8 283.2,225.8 286.6,226.8 290.2,227.8 293.8,228.8 297.6,229.8 300.5,230.6 303.5,231.3 306.6,232.1 309.8,232.8 310.7,235.3 320.7,235.3 320.7,5.3" fill="#d62d1f"/>
</g>
<clipPath id="cpb"><rect x="403.3" y="9.3" width="234.9" height="235.2"/></clipPath>
<g clip-path="url(#cpb)">
<rect x="403.3" y="9.3" width="234.9" height="235.2" fill="#3a4fa5"/>
<polygon points="373.3,35.5 373.6,38.5 374,41.5 374.3,44.5 374.7,47.5 375.1,50.5 375.5,53.5 375.9,56.5 376.3,59.5 376.7,62.5 377.2,65.5 377.6,68.5 378.1,71.5 378.6,74.5 379.1,77.5 379.6,80.5 380.1,83.5 380.6,86.5 381.2,89.5 381.7,92.5 382.3,95.5 382.9,98.5 383.5,101.5 384.2,104.5 384.8,107.5 385.5,110.5 386.2,113.5 386.9,116.5 387.7,119.5 388.4,122.5 389.2,125.5 390.1,128.6 390.9,131.6 391.8,134.6 392.7,137.6 393.7,140.6 394.7,143.6 395.6,146.6 396.7,149.6 397.7,152.6 398.8,155.6 399.9,158.6 401.1,161.6 402.3,164.6 403.5,167.6 404.7,170.6 406,173.6 407.3,176.3 408.5,179.1 409.8,181.8 411.2,184.6 412.6,187.3 414,190.1 415.4,192.8 417,195.6 418.5,198.3 420.1,201.1 421.8,203.8 423.5,206.6 425.3,209.3 427.1,212.1 428.8,214.6 430.5,217.1 432.3,219.6 434.1,222.1 436,224.6 437.9,227.1 439.8,229.6 441.7,232.1 443.7,234.6 445.6,237.1 447.6,239.6 449.4,242.1 451.2,244.6 452.9,247.3 453.5,248.3 678.2,248.3 678.2,35.5" fill="#3c5bac"/>
<polygon points="375.7,5.3 376,8.3 376.3,11.3 376.6,14.3 376.9,17.3 377.2,20.3 377.5,23.3 377.8,26.3 378.1,29.3 378.5,32.3 378.8,35.3 379.2,38.3 379.5,41.3 379.9,44.3 380.2,47.3 380.6,50.3 381,53.3 381.4,56.3 381.8,59.3 382.2,62.3 382.6,65.3 383.1,68.3 383.5,71.3 384,74.3 384.5,77.3 385,80.3 385.5,83.3 386,86.3 386.5,89.3 387.1,92.3 387.6,95.3 388.2,98.3 388.8,101.3 389.4,104.3 390,107.3 390.7,110.3 391.4,113.3 392.1,116.3 392.8,119.3 393.5,122.3 394.3,125.3 395.1,128.3 396,131.3 396.8,134.3 397.7,137.3 398.6,140.3 399.6,143.3 400.5,146.3 401.5,149.3 402.6,152.3 403.7,155.3 404.8,158.3 405.9,161.3 407.1,164.3 408.3,167.3 409.6,170.3 410.8,173.1 412.1,175.8 413.4,178.6 414.7,181.3 416.1,184.1 417.5,186.8 419,189.6 420.6,192.3 422.2,195.1 423.9,197.8 425.6,200.6 427.4,203.3 429.2,205.8 431,208.3 432.8,210.8 434.8,213.3 436.8,215.8 438.9,218.3 441.1,220.8 443.1,223.1 445.3,225.3 447.5,227.6 449.8,229.8 452.3,232.1 454.8,234.3 457.1,236.3 459.5,238.3 462,240.3 464.6,242.3 467.3,244.3 470.1,246.3 472.5,248.1 472.9,248.3 678.2,248.3 678.2,5.3" fill="#3d63b0"/>
<polygon points="378.7,5.3 379,8.3 379.3,11.3 379.6,14.3 379.9,17.3 380.2,20.3 380.5,23.3 380.8,26.3 381.1,29.3 381.4,32.3 381.8,35.3 382.1,38.3 382.5,41.3 382.8,44.3 383.2,47.3 383.6,50.3 383.9,53.3 384.3,56.3 384.7,59.3 385.1,62.3 385.6,65.3 386,68.3 386.5,71.3 386.9,74.3 387.4,77.3 387.9,80.3 388.3,83.3 388.9,86.3 389.4,89.3 389.9,92.3 390.5,95.3 391,98.3 391.6,101.3 392.2,104.3 392.9,107.3 393.5,110.3 394.2,113.3 394.8,116.3 395.6,119.3 396.3,122.3 397.1,125.3 397.8,128.3 398.7,131.3 399.5,134.3 400.4,137.3 401.3,140.3 402.2,143.3 403.2,146.3 404.2,149.3 405.2,152.3 406.3,155.3 407.4,158.3 408.5,161.3 409.7,164.3 411,167.3 412.2,170.3 413.5,173.1 414.7,175.8 416,178.6 417.4,181.3 418.8,184.1 420.3,186.8 421.8,189.6 423.4,192.3 425.1,195.1 426.9,197.8 428.7,200.6 430.4,203.1 432.2,205.6 434.1,208.1 436.1,210.6 438.2,213.1 440.4,215.6 442.4,217.8 444.5,220.1 446.8,222.3 449.1,224.6 451.6,226.8 453.9,228.8 456.3,230.8 458.8,232.8 461.4,234.8 464.2,236.8 466.7,238.6 469.4,240.3 472.2,242.1 475.1,243.8 477.7,245.3 480.4,246.8 483.2,248.3 678.2,248.3 678.2,5.3" fill="#3e6db6"/>
<polygon points="380.8,5.3 381.1,8.3 381.4,11.3 381.7,14.3 381.9,17.3 382.3,20.3 382.6,23.3 382.9,26.3 383.2,29.3 383.5,32.3 383.9,35.3 384.2,38.3 384.5,41.3 384.9,44.3 385.3,47.3 385.6,50.3 386,53.3 386.4,56.3 386.8,59.3 387.2,62.3 387.6,65.3 388.1,68.3 388.5,71.3 389,74.3 389.4,77.3 389.9,80.3 390.4,83.3 390.9,86.3 391.4,89.3 391.9,92.3 392.5,95.3 393,98.3 393.6,101.3 394.2,104.3 394.8,107.3 395.5,110.3 396.1,113.3 396.8,116.3 397.5,119.3 398.2,122.3 399,125.3 399.8,128.3 400.6,131.3 401.4,134.3 402.3,137.3 403.2,140.3 404.1,143.3 405.1,146.3 406,149.3 407.1,152.3 408.1,155.3 409.2,158.3 410.4,161.3 411.6,164.3 412.8,167.3 414.1,170.3 415.3,173.1 416.6,175.8 417.9,178.6 419.3,181.3 420.8,184.1 422.3,186.8 423.8,189.6 425.5,192.3 427.2,195.1 429,197.8 430.7,200.3 432.5,202.8 434.3,205.3 436.3,207.8 438.4,210.3 440.5,212.8 442.6,215.1 444.7,217.3 446.9,219.6 449.3,221.8 451.8,224.1 454.1,226.1 456.5,228.1 459.1,230.1 461.8,232.1 464.3,233.8 466.9,235.6 469.6,237.3 472.5,239.1 475.5,240.8 478.2,242.3 481,243.8 484,245.3 487.2,246.8 489.9,248.1 490.5,248.3 678.2,248.3 678.2,5.3" fill="#4079bd"/>
<polygon points="382.9,5.3 383.2,8.3 383.5,11.3 383.8,14.3 384,17.3 384.3,20.3 384.7,23.3 385,26.3 385.3,29.3 385.6,32.3 385.9,35.3 386.3,38.3 386.6,41.3 387,44.3 387.3,47.3 387.7,50.3 388.1,53.3 388.5,56.3 388.9,59.3 389.3,62.3 389.7,65.3 390.1,68.3 390.6,71.3 391,74.3 391.5,77.3 391.9,80.3 392.4,83.3 392.9,86.3 393.4,89.3 393.9,92.3 394.5,95.3 395,98.3 395.6,101.3 396.2,104.3 396.8,107.3 397.4,110.3 398.1,113.3 398.8,116.3 399.5,119.3 400.2,122.3 400.9,125.3 401.7,128.3 402.5,131.3 403.3,134.3 404.2,137.3 405.1,140.3 406,143.3 406.9,146.3 407.9,149.3 408.9,152.3 410,155.3 411.1,158.3 412.2,161.3 413.4,164.3 414.7,167.3 416,170.3 417.2,173.1 418.5,175.8 419.8,178.6 421.2,181.3 422.7,184.1 424.2,186.8 425.8,189.6 427.5,192.3 429.3,195.1 430.9,197.6 432.7,200.1 434.5,202.6 436.4,205.1 438.5,207.6 440.6,210.1 442.6,212.3 444.7,214.6 446.9,216.8 449.3,219.1 451.8,221.3 454.1,223.3 456.5,225.3 459.1,227.3 461.8,229.3 464.3,231.1 466.9,232.8 469.6,234.6 472.5,236.3 475.2,237.8 477.9,239.3 480.8,240.8 483.8,242.3 487,243.8 489.8,245.1 492.7,246.3 495.8,247.6 497.7,248.3 678.2,248.3 678.2,5.3" fill="#4486c5"/>
<polygon points="385,5.3 385.3,8.3 385.6,11.3 385.8,14.3 386.1,17.3 386.4,20.3 386.7,23.3 387.1,26.3 387.4,29.3 387.7,32.3 388,35.3 388.4,38.3 388.7,41.3 389.1,44.3 389.4,47.3 389.8,50.3 390.2,53.3 390.6,56.3 390.9,59.3 391.4,62.3 391.8,65.3 392.2,68.3 392.6,71.3 393.1,74.3 393.5,77.3 394,80.3 394.5,83.3 394.9,86.3 395.4,89.3 396,92.3 396.5,95.3 397,98.3 397.6,101.3 398.2,104.3 398.8,107.3 399.4,110.3 400.1,113.3 400.7,116.3 401.4,119.3 402.1,122.3 402.8,125.3 403.6,128.3 404.4,131.3 405.2,134.3 406.1,137.3 406.9,140.3 407.8,143.3 408.8,146.3 409.8,149.3 410.8,152.3 411.8,155.3 412.9,158.3 414.1,161.3 415.3,164.3 416.5,167.3 417.8,170.3 419.1,173.1 420.4,175.8 421.7,178.6 423.1,181.3 424.6,184.1 426.2,186.8 427.8,189.6 429.5,192.3 431.3,195.1 433,197.6 434.8,200.1 436.7,202.6 438.7,205.1 440.8,207.6 442.8,209.8 444.9,212.1 447.1,214.3 449.4,216.6 451.9,218.8 454.2,220.8 456.6,222.8 459.1,224.8 461.8,226.8 464.3,228.6 466.9,230.3 469.7,232.1 472.6,233.8 475.2,235.3 478,236.8 480.9,238.3 484,239.8 487.2,241.3 490,242.6 493,243.8 496.1,245.1 499.4,246.3 502.8,247.6 505,248.3 678.2,248.3 678.2,5.3" fill="#4a96cc"/>
<polygon points="387.1,5.3 387.4,8.3 387.7,11.3 387.9,14.3 388.2,17.3 388.5,20.3 388.8,23.3 389.2,26.3 389.5,29.3 389.8,32.3 390.1,35.3 390.5,38.3 390.8,41.3 391.2,44.3 391.5,47.3 391.9,50.3 392.2,53.3 392.6,56.3 393,59.3 393.4,62.3 393.8,65.3 394.2,68.3 394.7,71.3 395.1,74.3 395.6,77.3 396,80.3 396.5,83.3 397,86.3 397.5,89.3 398,92.3 398.5,95.3 399,98.3 399.6,101.3 400.2,104.3 400.8,107.3 401.4,110.3 402,113.3 402.7,116.3 403.3,119.3 404,122.3 404.8,125.3 405.5,128.3 406.3,131.3 407.1,134.3 407.9,137.3 408.8,140.3 409.7,143.3 410.7,146.3 411.6,149.3 412.6,152.3 413.7,155.3 414.8,158.3 415.9,161.3 417.1,164.3 418.4,167.3 419.7,170.3 420.9,173.1 422.3,175.8 423.6,178.6 425.1,181.3 426.6,184.1 428.1,186.8 429.8,189.6 431.5,192.3 433.2,194.8 435,197.3 436.8,199.8 438.7,202.3 440.8,204.8 443,207.3 445,209.6 447.2,211.8 449.4,214.1 451.9,216.3 454.1,218.3 456.5,220.3 459,222.3 461.7,224.3 464.1,226.1 466.7,227.8 469.5,229.6 472.3,231.3 475,232.8 477.7,234.3 480.6,235.8 483.6,237.3 486.8,238.8 489.6,240.1 492.6,241.3 495.7,242.6 499,243.8 502.4,245.1 505.3,246.1 508.3,247.1 511.5,248.1 512.3,248.3 678.2,248.3 678.2,5.3" fill="#52a6d2"/>
<polygon points="389.2,5.3 389.5,8.3 389.7,11.3 390,14.3 390.3,17.3 390.6,20.3 390.9,23.3 391.2,26.3 391.6,29.3 391.9,32.3 392.2,35.3 392.5,38.3 392.9,41.3 393.2,44.3 393.6,47.3 394,50.3 394.3,53.3 394.7,56.3 395.1,59.3 395.5,62.3 395.9,65.3 396.3,68.3 396.7,71.3 397.2,74.3 397.6,77.3 398.1,80.3 398.5,83.3 399,86.3 399.5,89.3 400,92.3 400.5,95.3 401,98.3 401.6,101.3 402.2,104.3 402.7,107.3 403.4,110.3 404,113.3 404.6,116.3 405.3,119.3 406,122.3 406.7,125.3 407.4,128.3 408.2,131.3 409,134.3 409.8,137.3 410.7,140.3 411.6,143.3 412.5,146.3 413.5,149.3 414.5,152.3 415.5,155.3 416.6,158.3 417.8,161.3 419,164.3 420.2,167.3 421.4,170.1 422.7,172.8 424,175.6 425.4,178.3 426.8,181.1 428.4,183.8 430,186.6 431.6,189.3 433.4,192.1 435.1,194.6 436.9,197.1 438.8,199.6 440.8,202.1 442.8,204.6 444.8,206.8 446.9,209.1 449.2,211.3 451.5,213.6 454,215.8 456.3,217.8 458.8,219.8 461.4,221.8 464.2,223.8 466.7,225.6 469.4,227.3 472.3,229.1 475.3,230.8 478,232.3 480.9,233.8 484,235.3 487.2,236.8 490,238.1 493,239.3 496.1,240.6 499.3,241.8 502.8,243.1 505.7,244.1 508.7,245.1 511.9,246.1 515.2,247.1 518.7,248.1 519.6,248.3 678.2,248.3 678.2,5.3" fill="#59b3d7"/>
<polygon points="390,5.3 390.3,8.3 390.6,11.3 390.9,14.3 391.3,17.3 391.6,20.3 391.9,23.3 392.2,26.3 392.5,29.3 392.9,32.3 393.2,35.3 393.6,38.3 393.9,41.3 394.3,44.3 394.7,47.3 395,50.3 395.4,53.3 395.8,56.3 396.2,59.3 396.6,62.3 397.1,65.3 397.5,68.3 397.9,71.3 398.4,74.3 398.8,77.3 399.3,80.3 399.8,83.3 400.3,86.3 400.8,89.3 401.3,92.3 401.8,95.3 402.4,98.3 402.9,101.3 403.5,104.3 404.1,107.3 404.8,110.3 405.4,113.3 406.1,116.3 406.7,119.3 407.4,122.3 408.2,125.3 408.9,128.3 409.7,131.3 410.5,134.3 411.4,137.3 412.2,140.3 413.2,143.3 414.1,146.3 415.1,149.3 416.1,152.3 417.2,155.3 418.3,158.3 419.4,161.3 420.7,164.3 421.9,167.3 423.2,170.1 424.4,172.8 425.8,175.6 427.2,178.3 428.6,181.1 430.2,183.8 431.8,186.6 433.5,189.3 435.3,192.1 437.1,194.6 438.9,197.1 440.8,199.6 442.8,202.1 445,204.6 447,206.8 449.2,209.1 451.5,211.3 453.9,213.6 456.2,215.6 458.6,217.6 461.1,219.6 463.9,221.6 466.4,223.3 469,225.1 471.8,226.8 474.8,228.6 477.5,230.1 480.3,231.6 483.4,233.1 486.5,234.6 489.4,235.8 492.3,237.1 495.4,238.3 498.7,239.6 502.2,240.8 505.1,241.8 508.2,242.8 511.5,243.8 514.9,244.8 518.5,245.8 522.3,246.8 525.3,247.6 528.5,248.3 678.2,248.3 678.2,5.3" fill="#5db6d7"/>
<polygon points="390.5,5.3 390.8,8.3 391.1,11.3 391.5,14.3 391.8,17.3 392.1,20.3 392.5,23.3 392.8,26.3 393.1,29.3 393.5,32.3 393.9,35.3 394.2,38.3 394.6,41.3 395,44.3 395.4,47.3 395.8,50.3 396.2,53.3 396.6,56.3 397,59.3 397.5,62.3 397.9,65.3 398.4,68.3 398.8,71.3 399.3,74.3 399.8,77.3 400.3,80.3 400.8,83.3 401.3,86.3 401.8,89.3 402.4,92.3 402.9,95.3 403.5,98.3 404.1,101.3 404.7,104.3 405.3,107.3 406,110.3 406.6,113.3 407.3,116.3 408,119.3 408.7,122.3 409.5,125.3 410.3,128.3 411.1,131.3 411.9,134.3 412.8,137.3 413.7,140.3 414.6,143.3 415.6,146.3 416.6,149.3 417.6,152.3 418.7,155.3 419.9,158.3 421,161.3 422.3,164.3 423.6,167.3 424.8,170.1 426.1,172.8 427.5,175.6 428.9,178.3 430.4,181.1 432,183.8 433.6,186.6 435.4,189.3 437,191.8 438.8,194.3 440.6,196.8 442.6,199.3 444.7,201.8 446.9,204.3 448.9,206.6 451.1,208.8 453.5,211.1 456,213.3 458.3,215.3 460.8,217.3 463.4,219.3 465.8,221.1 468.4,222.8 471.1,224.6 474,226.3 476.7,227.8 479.5,229.3 482.4,230.8 485.5,232.3 488.3,233.6 491.2,234.8 494.3,236.1 497.5,237.3 501,238.6 503.9,239.6 507,240.6 510.2,241.6 513.6,242.6 517.2,243.6 521.1,244.6 524.1,245.3 527.3,246.1 530.7,246.8 534.2,247.6 537.9,248.3 678.2,248.3 678.2,5.3" fill="#61b9d7"/>
<polygon points="391,5.3 391.3,8.3 391.6,11.3 392,14.3 392.3,17.3 392.7,20.3 393,23.3 393.4,26.3 393.8,29.3 394.1,32.3 394.5,35.3 394.9,38.3 395.3,41.3 395.7,44.3 396.1,47.3 396.5,50.3 397,53.3 397.4,56.3 397.9,59.3 398.3,62.3 398.8,65.3 399.2,68.3 399.7,71.3 400.2,74.3 400.7,77.3 401.2,80.3 401.8,83.3 402.3,86.3 402.9,89.3 403.4,92.3 404,95.3 404.6,98.3 405.2,101.3 405.9,104.3 406.5,107.3 407.2,110.3 407.9,113.3 408.6,116.3 409.3,119.3 410,122.3 410.8,125.3 411.6,128.3 412.5,131.3 413.3,134.3 414.2,137.3 415.1,140.3 416.1,143.3 417.1,146.3 418.1,149.3 419.2,152.3 420.3,155.3 421.4,158.3 422.6,161.3 423.9,164.3 425.1,167.1 426.4,169.8 427.7,172.6 429.1,175.3 430.5,178.1 432,180.8 433.6,183.6 435.3,186.3 437.1,189.1 438.8,191.6 440.5,194.1 442.4,196.6 444.4,199.1 446.5,201.6 448.5,203.8 450.6,206.1 452.8,208.3 455.2,210.6 457.7,212.8 460.1,214.8 462.6,216.8 465.3,218.8 467.8,220.6 470.4,222.3 473.2,224.1 476.2,225.8 478.9,227.3 481.8,228.8 484.9,230.3 488.1,231.8 491,233.1 494,234.3 497.3,235.6 500.7,236.8 503.6,237.8 506.7,238.8 509.9,239.8 513.3,240.8 516.9,241.8 520.8,242.8 523.8,243.6 527.1,244.3 530.4,245.1 534,245.8 537.7,246.6 541.7,247.3 545.9,248.1 547.3,248.3 678.2,248.3 678.2,5.3" fill="#65bcd8"/>
<polygon points="391.4,5.3 391.8,8.3 392.1,11.3 392.5,14.3 392.8,17.3 393.2,20.3 393.6,23.3 394,26.3 394.4,29.3 394.8,32.3 395.2,35.3 395.6,38.3 396,41.3 396.4,44.3 396.9,47.3 397.3,50.3 397.7,53.3 398.2,56.3 398.7,59.3 399.1,62.3 399.6,65.3 400.1,68.3 400.6,71.3 401.2,74.3 401.7,77.3 402.2,80.3 402.8,83.3 403.3,86.3 403.9,89.3 404.5,92.3 405.1,95.3 405.7,98.3 406.4,101.3 407,104.3 407.7,107.3 408.4,110.3 409.1,113.3 409.8,116.3 410.6,119.3 411.3,122.3 412.1,125.3 413,128.3 413.8,131.3 414.7,134.3 415.6,137.3 416.6,140.3 417.5,143.3 418.5,146.3 419.6,149.3 420.7,152.3 421.8,155.3 423,158.3 424.2,161.3 425.5,164.3 426.8,167.1 428,169.8 429.4,172.6 430.8,175.3 432.3,178.1 433.8,180.8 435.4,183.6 437.1,186.3 438.9,189.1 440.6,191.6 442.4,194.1 444.4,196.6 446.4,199.1 448.5,201.6 450.6,203.8 452.7,206.1 455,208.3 457.4,210.6 459.7,212.6 462.2,214.6 464.7,216.6 467.5,218.6 470,220.3 472.8,222.1 475.7,223.8 478.3,225.3 481.1,226.8 484.1,228.3 487.2,229.8 490,231.1 493,232.3 496.1,233.6 499.4,234.8 503,236.1 506,237.1 509.1,238.1 512.5,239.1 516.1,240.1 519.9,241.1 522.9,241.8 526,242.6 529.3,243.3 532.8,244.1 536.5,244.8 540.4,245.6 544.5,246.3 548.9,247.1 551.9,247.6 555.1,248.1 556.8,248.3 678.2,248.3 678.2,5.3" fill="#69bfd8"/>
<polygon points="391.9,5.3 392.2,8.3 392.6,11.3 393,14.3 393.4,17.3 393.8,20.3 394.2,23.3 394.6,26.3 395,29.3 395.4,32.3 395.8,35.3 396.2,38.3 396.7,41.3 397.1,44.3 397.6,47.3 398,50.3 398.5,53.3 399,56.3 399.5,59.3 400,62.3 400.5,65.3 401,68.3 401.5,71.3 402.1,74.3 402.6,77.3 403.2,80.3 403.8,83.3 404.4,86.3 405,89.3 405.6,92.3 406.2,95.3 406.8,98.3 407.5,101.3 408.2,104.3 408.9,107.3 409.6,110.3 410.3,113.3 411.1,116.3 411.8,119.3 412.6,122.3 413.5,125.3 414.3,128.3 415.2,131.3 416.1,134.3 417,137.3 418,140.3 419,143.3 420,146.3 421.1,149.3 422.2,152.3 423.4,155.3 424.6,158.3 425.8,161.3 427,164.1 428.3,166.8 429.6,169.6 430.9,172.3 432.4,175.1 433.9,177.8 435.4,180.6 437.1,183.3 438.8,186.1 440.6,188.8 442.3,191.3 444.2,193.8 446.1,196.3 448.2,198.8 450.3,201.3 452.4,203.6 454.6,205.8 456.9,208.1 459.4,210.3 461.7,212.3 464.2,214.3 466.8,216.3 469.3,218.1 471.9,219.8 474.7,221.6 477.6,223.3 480.3,224.8 483.2,226.3 486.2,227.8 489.5,229.3 492.4,230.6 495.4,231.8 498.6,233.1 502.1,234.3 505,235.3 508.1,236.3 511.4,237.3 514.8,238.3 518.5,239.3 521.4,240.1 524.4,240.8 527.7,241.6 531,242.3 534.6,243.1 538.3,243.8 542.3,244.6 546.5,245.3 551,246.1 554.1,246.6 557.4,247.1 560.8,247.6 564.4,248.1 566.2,248.3 678.2,248.3 678.2,5.3" fill="#6dc2d8"/>
<polygon points="392.3,5.3 392.7,8.3 393.1,11.3 393.5,14.3 393.9,17.3 394.3,20.3 394.7,23.3 395.1,26.3 395.6,29.3 396,32.3 396.5,35.3 396.9,38.3 397.4,41.3 397.8,44.3 398.3,47.3 398.8,50.3 399.3,53.3 399.8,56.3 400.3,59.3 400.8,62.3 401.4,65.3 401.9,68.3 402.4,71.3 403,74.3 403.6,77.3 404.2,80.3 404.8,83.3 405.4,86.3 406,89.3 406.6,92.3 407.3,95.3 407.9,98.3 408.6,101.3 409.3,104.3 410.1,107.3 410.8,110.3 411.5,113.3 412.3,116.3 413.1,119.3 413.9,122.3 414.8,125.3 415.7,128.3 416.6,131.3 417.5,134.3 418.4,137.3 419.4,140.3 420.5,143.3 421.5,146.3 422.6,149.3 423.7,152.3 424.9,155.3 426.2,158.3 427.4,161.3 428.7,164.1 429.9,166.8 431.3,169.6 432.6,172.3 434.1,175.1 435.6,177.8 437.2,180.6 438.8,183.3 440.6,186.1 442.3,188.6 444,191.1 445.9,193.6 447.8,196.1 449.9,198.6 452.1,201.1 454.2,203.3 456.4,205.6 458.8,207.8 461.3,210.1 463.7,212.1 466.2,214.1 468.9,216.1 471.5,217.8 474.1,219.6 477,221.3 480,223.1 482.8,224.6 485.7,226.1 488.9,227.6 491.7,228.8 494.6,230.1 497.7,231.3 501.1,232.6 504.6,233.8 507.6,234.8 510.8,235.8 514.2,236.8 517.8,237.8 521.6,238.8 524.6,239.6 527.8,240.3 531.1,241.1 534.7,241.8 538.4,242.6 542.3,243.3 546.5,244.1 550.9,244.8 554,245.3 557.2,245.8 560.6,246.3 564.1,246.8 567.8,247.3 571.6,247.8 575.7,248.3 678.2,248.3 678.2,5.3" fill="#71c4d8"/>
<polygon points="392.8,5.3 393.2,8.3 393.6,11.3 394,14.3 394.4,17.3 394.8,20.3 395.3,23.3 395.7,26.3 396.2,29.3 396.6,32.3 397.1,35.3 397.6,38.3 398.1,41.3 398.6,44.3 399,47.3 399.6,50.3 400.1,53.3 400.6,56.3 401.1,59.3 401.7,62.3 402.2,65.3 402.8,68.3 403.4,71.3 403.9,74.3 404.5,77.3 405.1,80.3 405.8,83.3 406.4,86.3 407,89.3 407.7,92.3 408.4,95.3 409.1,98.3 409.8,101.3 410.5,104.3 411.2,107.3 412,110.3 412.8,113.3 413.6,116.3 414.4,119.3 415.2,122.3 416.1,125.3 417,128.3 417.9,131.3 418.9,134.3 419.9,137.3 420.9,140.3 421.9,143.3 423,146.3 424.1,149.3 425.3,152.3 426.5,155.3 427.7,158.3 429,161.3 430.3,164.1 431.6,166.8 432.9,169.6 434.3,172.3 435.8,175.1 437.3,177.8 438.9,180.6 440.6,183.3 442.4,186.1 444.1,188.6 445.9,191.1 447.8,193.6 449.8,196.1 451.9,198.6 453.9,200.8 456,203.1 458.3,205.3 460.7,207.6 463,209.6 465.4,211.6 467.9,213.6 470.7,215.6 473.2,217.3 475.9,219.1 478.8,220.8 481.4,222.3 484.2,223.8 487.2,225.3 490.4,226.8 493.2,228.1 496.2,229.3 499.3,230.6 502.7,231.8 505.6,232.8 508.6,233.8 511.8,234.8 515.1,235.8 518.7,236.8 522.5,237.8 525.5,238.6 528.7,239.3 532.1,240.1 535.6,240.8 539.3,241.6 543.2,242.3 547.4,243.1 551.8,243.8 554.8,244.3 558.1,244.8 561.4,245.3 564.9,245.8 568.6,246.3 572.4,246.8 576.5,247.3 580.7,247.8 585.1,248.3 678.2,248.3 678.2,5.3" fill="#75c6d8"/>
<polygon points="393.2,5.3 393.6,8.3 394.1,11.3 394.5,14.3 394.9,17.3 395.4,20.3 395.9,23.3 396.3,26.3 396.8,29.3 397.3,32.3 397.8,35.3 398.2,38.3 398.8,41.3 399.3,44.3 399.8,47.3 400.3,50.3 400.8,53.3 401.4,56.3 401.9,59.3 402.5,62.3 403.1,65.3 403.7,68.3 404.3,71.3 404.9,74.3 405.5,77.3 406.1,80.3 406.8,83.3 407.4,86.3 408.1,89.3 408.8,92.3 409.5,95.3 410.2,98.3 410.9,101.3 411.7,104.3 412.4,107.3 413.2,110.3 414,113.3 414.8,116.3 415.7,119.3 416.5,122.3 417.4,125.3 418.4,128.3 419.3,131.3 420.3,134.3 421.3,137.3 422.3,140.3 423.4,143.3 424.5,146.3 425.6,149.3 426.8,152.3 428,155.3 429.3,158.3 430.5,161.1 431.8,163.8 433.1,166.6 434.5,169.3 435.9,172.1 437.4,174.8 438.9,177.6 440.5,180.3 442.3,183.1 444.1,185.8 445.8,188.3 447.6,190.8 449.5,193.3 451.5,195.8 453.7,198.3 455.7,200.6 457.9,202.8 460.1,205.1 462.6,207.3 464.9,209.3 467.3,211.3 469.9,213.3 472.7,215.3 475.3,217.1 478.1,218.8 481,220.6 483.7,222.1 486.6,223.6 489.6,225.1 492.9,226.6 495.8,227.8 498.9,229.1 502.1,230.3 505.6,231.6 508.6,232.6 511.7,233.6 515,234.6 518.5,235.6 522.2,236.6 525.2,237.3 528.3,238.1 531.6,238.8 535,239.6 538.6,240.3 542.4,241.1 546.5,241.8 550.7,242.6 553.7,243.1 556.9,243.6 560.1,244.1 563.5,244.6 567,245.1 570.8,245.6 574.6,246.1 578.7,246.6 582.9,247.1 587.4,247.6 592.1,248.1 594.5,248.3 678.2,248.3 678.2,5.3" fill="#78c9d7"/>
<polygon points="393.7,5.3 394.1,8.3 394.6,11.3 395,14.3 395.5,17.3 395.9,20.3 396.4,23.3 396.9,26.3 397.4,29.3 397.9,32.3 398.4,35.3 398.9,38.3 399.4,41.3 400,44.3 400.5,47.3 401.1,50.3 401.6,53.3 402.2,56.3 402.8,59.3 403.3,62.3 403.9,65.3 404.5,68.3 405.2,71.3 405.8,74.3 406.4,77.3 407.1,80.3 407.8,83.3 408.4,86.3 409.1,89.3 409.8,92.3 410.6,95.3 411.3,98.3 412,101.3 412.8,104.3 413.6,107.3 414.4,110.3 415.2,113.3 416.1,116.3 417,119.3 417.8,122.3 418.8,125.3 419.7,128.3 420.7,131.3 421.7,134.3 422.7,137.3 423.7,140.3 424.8,143.3 426,146.3 427.1,149.3 428.3,152.3 429.6,155.3 430.9,158.3 432.1,161.1 433.4,163.8 434.7,166.6 436.1,169.3 437.6,172.1 439.1,174.8 440.6,177.6 442.3,180.3 444,183.1 445.7,185.6 447.4,188.1 449.3,190.6 451.2,193.1 453.2,195.6 455.4,198.1 457.5,200.3 459.7,202.6 462,204.8 464.5,207.1 466.8,209.1 469.3,211.1 471.9,213.1 474.4,214.8 477,216.6 479.8,218.3 482.8,220.1 485.5,221.6 488.4,223.1 491.5,224.6 494.2,225.8 497.1,227.1 500.2,228.3 503.5,229.6 507,230.8 510,231.8 513.1,232.8 516.4,233.8 520,234.8 523.7,235.8 526.7,236.6 529.8,237.3 533.1,238.1 536.5,238.8 540.2,239.6 544,240.3 548.1,241.1 552.4,241.8 555.4,242.3 558.5,242.8 561.8,243.3 565.2,243.8 568.7,244.3 572.5,244.8 576.3,245.3 580.4,245.8 584.7,246.3 589.1,246.8 593.8,247.3 598.8,247.8 604,248.3 678.2,248.3 678.2,5.3" fill="#7ccbd7"/>
<polygon points="394.1,5.3 394.6,8.3 395,11.3 395.5,14.3 396,17.3 396.5,20.3 397,23.3 397.5,26.3 398,29.3 398.5,32.3 399.1,35.3 399.6,38.3 400.1,41.3 400.7,44.3 401.2,47.3 401.8,50.3 402.4,53.3 403,56.3 403.6,59.3 404.2,62.3 404.8,65.3 405.4,68.3 406.1,71.3 406.7,74.3 407.4,77.3 408.1,80.3 408.8,83.3 409.5,86.3 410.2,89.3 410.9,92.3 411.6,95.3 412.4,98.3 413.2,101.3 414,104.3 414.8,107.3 415.6,110.3 416.5,113.3 417.3,116.3 418.2,119.3 419.1,122.3 420.1,125.3 421,128.3 422,131.3 423.1,134.3 424.1,137.3 425.2,140.3 426.3,143.3 427.4,146.3 428.6,149.3 429.9,152.3 431.1,155.3 432.3,158.1 433.6,160.8 434.9,163.6 436.2,166.3 437.6,169.1 439.1,171.8 440.6,174.6 442.2,177.3 443.9,180.1 445.7,182.8 447.3,185.3 449.1,187.8 451,190.3 452.9,192.8 455,195.3 457.2,197.8 459.2,200.1 461.5,202.3 463.8,204.6 466.3,206.8 468.7,208.8 471.2,210.8 473.9,212.8 476.4,214.6 479.1,216.3 481.9,218.1 485,219.8 487.7,221.3 490.7,222.8 493.9,224.3 496.7,225.6 499.6,226.8 502.8,228.1 506.2,229.3 509,230.3 512.1,231.3 515.2,232.3 518.6,233.3 522.2,234.3 526,235.3 529,236.1 532.2,236.8 535.6,237.6 539.1,238.3 542.8,239.1 546.7,239.8 550.8,240.6 555.2,241.3 558.3,241.8 561.5,242.3 564.8,242.8 568.3,243.3 571.9,243.8 575.7,244.3 579.7,244.8 583.8,245.3 588.1,245.8 592.7,246.3 597.5,246.8 602.5,247.3 607.8,247.8 613.4,248.3 678.2,248.3 678.2,5.3" fill="#77ba16"/>
<polygon points="394.2,5.3 394.7,8.3 395.2,11.3 395.6,14.3 396.1,17.3 396.6,20.3 397.1,23.3 397.6,26.3 398.2,29.3 398.7,32.3 399.2,35.3 399.8,38.3 400.3,41.3 400.9,44.3 401.4,47.3 402,50.3 402.6,53.3 403.2,56.3 403.8,59.3 404.4,62.3 405,65.3 405.7,68.3 406.3,71.3 407,74.3 407.6,77.3 408.3,80.3 409,83.3 409.7,86.3 410.4,89.3 411.2,92.3 411.9,95.3 412.7,98.3 413.5,101.3 414.3,104.3 415.1,107.3 415.9,110.3 416.8,113.3 417.7,116.3 418.5,119.3 419.5,122.3 420.4,125.3 421.4,128.3 422.4,131.3 423.4,134.3 424.5,137.3 425.5,140.3 426.7,143.3 427.8,146.3 429,149.3 430.2,152.3 431.5,155.3 432.7,158.1 434,160.8 435.3,163.6 436.7,166.3 438.1,169.1 439.5,171.8 441.1,174.6 442.7,177.3 444.3,180.1 446.1,182.8 447.8,185.3 449.6,187.8 451.4,190.3 453.4,192.8 455.5,195.3 457.7,197.8 459.7,200.1 462,202.3 464.3,204.6 466.8,206.8 469.2,208.8 471.8,210.8 474.5,212.8 477,214.6 479.7,216.3 482.5,218.1 485.2,219.6 487.9,221.1 490.9,222.6 494,224.1 496.8,225.3 499.8,226.6 503,227.8 506.3,229.1 509.2,230.1 512.2,231.1 515.3,232.1 518.7,233.1 522.3,234.1 526.1,235.1 529.1,235.8 532.3,236.6 535.6,237.3 539.1,238.1 542.8,238.8 546.7,239.6 550.8,240.3 555.1,241.1 558.2,241.6 561.4,242.1 564.7,242.6 568.1,243.1 571.7,243.6 575.5,244.1 579.4,244.6 583.5,245.1 587.8,245.6 592.4,246.1 597.1,246.6 602.1,247.1 607.4,247.6 612.9,248.1 615.8,248.3 678.2,248.3 678.2,5.3" fill="#78bb16"/>
<polygon points="394.7,5.3 395.2,8.3 395.7,11.3 396.2,14.3 396.6,17.3 397.1,20.3 397.6,23.3 398.2,26.3 398.7,29.3 399.2,32.3 399.7,35.3 400.3,38.3 400.8,41.3 401.4,44.3 402,47.3 402.5,50.3 403.1,53.3 403.7,56.3 404.3,59.3 404.9,62.3 405.6,65.3 406.2,68.3 406.9,71.3 407.5,74.3 408.2,77.3 408.9,80.3 409.6,83.3 410.3,86.3 411,89.3 411.8,92.3 412.5,95.3 413.3,98.3 414.1,101.3 414.9,104.3 415.7,107.3 416.6,110.3 417.4,113.3 418.3,116.3 419.2,119.3 420.1,122.3 421.1,125.3 422.1,128.3 423.1,131.3 424.1,134.3 425.2,137.3 426.3,140.3 427.4,143.3 428.6,146.3 429.8,149.3 431,152.3 432.3,155.3 433.5,158.1 434.8,160.8 436.1,163.6 437.5,166.3 438.9,169.1 440.4,171.8 442,174.6 443.6,177.3 445.3,180.1 447.1,182.8 448.8,185.3 450.6,187.8 452.5,190.3 454.4,192.8 456.5,195.3 458.5,197.6 460.6,199.8 462.9,202.1 465.2,204.3 467.5,206.3 469.9,208.3 472.4,210.3 475.1,212.3 477.6,214.1 480.2,215.8 483.1,217.6 486.1,219.3 488.9,220.8 491.8,222.3 495,223.8 497.8,225.1 500.7,226.3 503.9,227.6 507.2,228.8 510.1,229.8 513,230.8 516.2,231.8 519.5,232.8 523.1,233.8 526.9,234.8 529.8,235.6 533,236.3 536.2,237.1 539.7,237.8 543.3,238.6 547.2,239.3 551.2,240.1 555.5,240.8 558.5,241.3 561.7,241.8 564.9,242.3 568.3,242.8 571.8,243.3 575.5,243.8 579.4,244.3 583.4,244.8 587.7,245.3 592.1,245.8 596.7,246.3 601.6,246.8 606.7,247.3 612.1,247.8 617.8,248.3 678.2,248.3 678.2,5.3" fill="#7abc17"/>
<polygon points="395.4,5.3 395.9,8.3 396.3,11.3 396.8,14.3 397.3,17.3 397.8,20.3 398.3,23.3 398.8,26.3 399.4,29.3 399.9,32.3 400.4,35.3 401,38.3 401.5,41.3 402.1,44.3 402.7,47.3 403.3,50.3 403.8,53.3 404.5,56.3 405.1,59.3 405.7,62.3 406.3,65.3 407,68.3 407.6,71.3 408.3,74.3 409,77.3 409.7,80.3 410.4,83.3 411.1,86.3 411.8,89.3 412.6,92.3 413.3,95.3 414.1,98.3 414.9,101.3 415.7,104.3 416.6,107.3 417.4,110.3 418.3,113.3 419.2,116.3 420.1,119.3 421,122.3 422,125.3 423,128.3 424,131.3 425.1,134.3 426.1,137.3 427.2,140.3 428.4,143.3 429.6,146.3 430.8,149.3 432.1,152.3 433.3,155.1 434.5,157.8 435.8,160.6 437.1,163.3 438.5,166.1 440,168.8 441.5,171.6 443,174.3 444.7,177.1 446.4,179.8 448.2,182.6 449.9,185.1 451.7,187.6 453.6,190.1 455.6,192.6 457.8,195.1 459.8,197.3 461.9,199.6 464.2,201.8 466.6,204.1 468.8,206.1 471.2,208.1 473.7,210.1 476.4,212.1 479,213.8 481.6,215.6 484.5,217.3 487.1,218.8 489.9,220.3 492.8,221.8 495.9,223.3 498.7,224.6 501.6,225.8 504.7,227.1 508,228.3 511.5,229.6 514.5,230.6 517.6,231.6 520.9,232.6 524.5,233.6 528.2,234.6 531.2,235.3 534.3,236.1 537.5,236.8 540.9,237.6 544.5,238.3 548.3,239.1 552.3,239.8 556.6,240.6 559.5,241.1 562.6,241.6 565.8,242.1 569.2,242.6 572.6,243.1 576.3,243.6 580.1,244.1 584,244.6 588.2,245.1 592.5,245.6 597,246.1 601.8,246.6 606.8,247.1 612.1,247.6 617.6,248.1 620.5,248.3 678.2,248.3 678.2,5.3" fill="#7dbe18"/>
<polygon points="396.1,5.3 396.5,8.3 397,11.3 397.5,14.3 398,17.3 398.5,20.3 399,23.3 399.5,26.3 400.1,29.3 400.6,32.3 401.1,35.3 401.7,38.3 402.2,41.3 402.8,44.3 403.4,47.3 404,50.3 404.6,53.3 405.2,56.3 405.8,59.3 406.4,62.3 407.1,65.3 407.7,68.3 408.4,71.3 409,74.3 409.7,77.3 410.4,80.3 411.1,83.3 411.9,86.3 412.6,89.3 413.4,92.3 414.1,95.3 414.9,98.3 415.7,101.3 416.6,104.3 417.4,107.3 418.3,110.3 419.1,113.3 420.1,116.3 421,119.3 421.9,122.3 422.9,125.3 423.9,128.3 424.9,131.3 426,134.3 427.1,137.3 428.2,140.3 429.4,143.3 430.6,146.3 431.8,149.3 433.1,152.3 434.3,155.1 435.6,157.8 436.9,160.6 438.3,163.3 439.7,166.1 441.1,168.8 442.7,171.6 444.2,174.3 445.9,177.1 447.7,179.8 449.3,182.3 451.1,184.8 452.9,187.3 454.8,189.8 456.8,192.3 459,194.8 461,197.1 463.2,199.3 465.4,201.6 467.9,203.8 470.1,205.8 472.5,207.8 475.1,209.8 477.8,211.8 480.4,213.6 483,215.3 485.9,217.1 488.5,218.6 491.3,220.1 494.2,221.6 497.3,223.1 500.1,224.3 503,225.6 506.1,226.8 509.4,228.1 512.9,229.3 515.9,230.3 519,231.3 522.3,232.3 525.8,233.3 529.5,234.3 532.5,235.1 535.6,235.8 538.8,236.6 542.2,237.3 545.7,238.1 549.5,238.8 553.5,239.6 557.6,240.3 562.1,241.1 565.2,241.6 568.4,242.1 571.7,242.6 575.2,243.1 578.9,243.6 582.7,244.1 586.7,244.6 590.8,245.1 595.2,245.6 599.7,246.1 604.5,246.6 609.5,247.1 614.8,247.6 620.3,248.1 623.2,248.3 678.2,248.3 678.2,5.3" fill="#83bf1d"/>
<polygon points="396.7,5.3 397.2,8.3 397.7,11.3 398.2,14.3 398.7,17.3 399.2,20.3 399.7,23.3 400.2,26.3 400.7,29.3 401.3,32.3 401.8,35.3 402.4,38.3 402.9,41.3 403.5,44.3 404.1,47.3 404.7,50.3 405.3,53.3 405.9,56.3 406.5,59.3 407.2,62.3 407.8,65.3 408.5,68.3 409.1,71.3 409.8,74.3 410.5,77.3 411.2,80.3 411.9,83.3 412.7,86.3 413.4,89.3 414.2,92.3 415,95.3 415.7,98.3 416.6,101.3 417.4,104.3 418.2,107.3 419.1,110.3 420,113.3 420.9,116.3 421.9,119.3 422.8,122.3 423.8,125.3 424.8,128.3 425.9,131.3 426.9,134.3 428.1,137.3 429.2,140.3 430.4,143.3 431.6,146.3 432.8,149.3 434.1,152.3 435.4,155.1 436.7,157.8 438,160.6 439.4,163.3 440.8,166.1 442.3,168.8 443.8,171.6 445.5,174.3 447.1,177.1 448.9,179.8 450.6,182.3 452.4,184.8 454.2,187.3 456.2,189.8 458.2,192.3 460.4,194.8 462.5,197.1 464.7,199.3 467,201.6 469.4,203.8 471.7,205.8 474.2,207.8 476.8,209.8 479.5,211.8 482.1,213.6 484.8,215.3 487.7,217.1 490.4,218.6 493.2,220.1 496.2,221.6 499.3,223.1 502.1,224.3 505.1,225.6 508.2,226.8 511.5,228.1 515.1,229.3 518.1,230.3 521.2,231.3 524.6,232.3 528.1,233.3 531.8,234.3 534.8,235.1 537.9,235.8 541.2,236.6 544.6,237.3 548.2,238.1 552,238.8 555.9,239.6 560.2,240.3 564.6,241.1 567.7,241.6 571,242.1 574.3,242.6 577.8,243.1 581.5,243.6 585.3,244.1 589.3,244.6 593.5,245.1 597.8,245.6 602.4,246.1 607.2,246.6 612.2,247.1 617.5,247.6 623,248.1 625.9,248.3 678.2,248.3 678.2,5.3" fill="#8bc123"/>
<polygon points="397.4,5.3 397.9,8.3 398.4,11.3 398.9,14.3 399.4,17.3 399.9,20.3 400.4,23.3 400.9,26.3 401.4,29.3 402,32.3 402.5,35.3 403.1,38.3 403.7,41.3 404.2,44.3 404.8,47.3 405.4,50.3 406,53.3 406.6,56.3 407.3,59.3 407.9,62.3 408.5,65.3 409.2,68.3 409.9,71.3 410.6,74.3 411.3,77.3 412,80.3 412.7,83.3 413.4,86.3 414.2,89.3 415,92.3 415.8,95.3 416.6,98.3 417.4,101.3 418.2,104.3 419.1,107.3 420,110.3 420.9,113.3 421.8,116.3 422.7,119.3 423.7,122.3 424.7,125.3 425.7,128.3 426.8,131.3 427.9,134.3 429,137.3 430.2,140.3 431.4,143.3 432.6,146.3 433.9,149.3 435.1,152.1 436.3,154.8 437.6,157.6 439,160.3 440.4,163.1 441.8,165.8 443.3,168.6 444.9,171.3 446.5,174.1 448.2,176.8 450,179.6 451.7,182.1 453.5,184.6 455.4,187.1 457.4,189.6 459.4,192.1 461.6,194.6 463.7,196.8 465.9,199.1 468.2,201.3 470.7,203.6 473,205.6 475.5,207.6 478.1,209.6 480.9,211.6 483.5,213.3 486.2,215.1 489.1,216.8 491.8,218.3 494.6,219.8 497.6,221.3 500.7,222.8 503.5,224.1 506.5,225.3 509.6,226.6 512.9,227.8 516.5,229.1 519.5,230.1 522.6,231.1 525.9,232.1 529.5,233.1 533.2,234.1 536.1,234.8 539.2,235.6 542.4,236.3 545.8,237.1 549.4,237.8 553.1,238.6 557.1,239.3 561.2,240.1 565.6,240.8 568.7,241.3 571.9,241.8 575.2,242.3 578.6,242.8 582.2,243.3 586,243.8 589.9,244.3 594,244.8 598.3,245.3 602.7,245.8 607.4,246.3 612.3,246.8 617.5,247.3 622.9,247.8 628.6,248.3 678.2,248.3 678.2,5.3" fill="#92c329"/>
<polygon points="398,5.3 398.5,8.3 399,11.3 399.5,14.3 400,17.3 400.5,20.3 401.1,23.3 401.6,26.3 402.1,29.3 402.7,32.3 403.2,35.3 403.8,38.3 404.4,41.3 404.9,44.3 405.5,47.3 406.1,50.3 406.7,53.3 407.4,56.3 408,59.3 408.6,62.3 409.3,65.3 409.9,68.3 410.6,71.3 411.3,74.3 412,77.3 412.7,80.3 413.5,83.3 414.2,86.3 415,89.3 415.8,92.3 416.6,95.3 417.4,98.3 418.2,101.3 419.1,104.3 419.9,107.3 420.8,110.3 421.7,113.3 422.7,116.3 423.6,119.3 424.6,122.3 425.6,125.3 426.7,128.3 427.7,131.3 428.8,134.3 430,137.3 431.1,140.3 432.3,143.3 433.6,146.3 434.9,149.3 436.1,152.1 437.4,154.8 438.7,157.6 440.1,160.3 441.5,163.1 442.9,165.8 444.5,168.6 446,171.3 447.7,174.1 449.4,176.8 451.3,179.6 453,182.1 454.8,184.6 456.7,187.1 458.7,189.6 460.8,192.1 462.8,194.3 464.9,196.6 467.1,198.8 469.5,201.1 472,203.3 474.3,205.3 476.8,207.3 479.4,209.3 482.2,211.3 484.8,213.1 487.6,214.8 490.5,216.6 493.2,218.1 496,219.6 499,221.1 502.1,222.6 504.9,223.8 507.9,225.1 511,226.3 514.3,227.6 517.9,228.8 520.8,229.8 524,230.8 527.3,231.8 530.8,232.8 534.5,233.8 537.4,234.6 540.5,235.3 543.7,236.1 547,236.8 550.6,237.6 554.3,238.3 558.2,239.1 562.3,239.8 566.6,240.6 569.6,241.1 572.8,241.6 576,242.1 579.4,242.6 583,243.1 586.7,243.6 590.5,244.1 594.5,244.6 598.7,245.1 603.1,245.6 607.7,246.1 612.5,246.6 617.6,247.1 622.8,247.6 628.4,248.1 631.2,248.3 678.2,248.3 678.2,5.3" fill="#9bc52e"/>
<polygon points="398.7,5.3 399.2,8.3 399.7,11.3 400.2,14.3 400.7,17.3 401.2,20.3 401.7,23.3 402.2,26.3 402.8,29.3 403.3,32.3 403.9,35.3 404.5,38.3 405,41.3 405.6,44.3 406.2,47.3 406.8,50.3 407.4,53.3 408.1,56.3 408.7,59.3 409.3,62.3 410,65.3 410.7,68.3 411.3,71.3 412,74.3 412.8,77.3 413.5,80.3 414.2,83.3 415,86.3 415.7,89.3 416.5,92.3 417.3,95.3 418.2,98.3 419,101.3 419.8,104.3 420.7,107.3 421.6,110.3 422.6,113.3 423.5,116.3 424.5,119.3 425.5,122.3 426.5,125.3 427.5,128.3 428.6,131.3 429.7,134.3 430.9,137.3 432.1,140.3 433.3,143.3 434.6,146.3 435.9,149.3 437.1,152.1 438.4,154.8 439.7,157.6 441.1,160.3 442.5,163.1 444,165.8 445.6,168.6 447.2,171.3 448.9,174.1 450.6,176.8 452.3,179.3 454,181.8 455.9,184.3 457.8,186.8 459.8,189.3 461.9,191.8 464,194.1 466.1,196.3 468.3,198.6 470.7,200.8 473.2,203.1 475.6,205.1 478,207.1 480.7,209.1 483.1,210.8 485.7,212.6 488.5,214.3 491.4,216.1 494,217.6 496.8,219.1 499.8,220.6 502.9,222.1 505.7,223.3 508.6,224.6 511.7,225.8 515,227.1 518.5,228.3 521.4,229.3 524.5,230.3 527.7,231.3 531.2,232.3 534.8,233.3 538.6,234.3 541.7,235.1 544.8,235.8 548.2,236.6 551.7,237.3 555.3,238.1 559.2,238.8 563.2,239.6 567.5,240.3 570.5,240.8 573.6,241.3 576.8,241.8 580.2,242.3 583.7,242.8 587.3,243.3 591.1,243.8 595,244.3 599.1,244.8 603.4,245.3 607.9,245.8 612.6,246.3 617.6,246.8 622.7,247.3 628.1,247.8 633.8,248.3 678.2,248.3 678.2,5.3" fill="#a4c733"/>
<polygon points="399.3,5.3 399.8,8.3 400.3,11.3 400.8,14.3 401.3,17.3 401.8,20.3 402.4,23.3 402.9,26.3 403.4,29.3 404,32.3 404.6,35.3 405.1,38.3 405.7,41.3 406.3,44.3 406.9,47.3 407.5,50.3 408.1,53.3 408.7,56.3 409.4,59.3 410,62.3 410.7,65.3 411.4,68.3 412.1,71.3 412.8,74.3 413.5,77.3 414.2,80.3 415,83.3 415.7,86.3 416.5,89.3 417.3,92.3 418.1,95.3 418.9,98.3 419.8,101.3 420.6,104.3 421.5,107.3 422.4,110.3 423.4,113.3 424.3,116.3 425.3,119.3 426.3,122.3 427.4,125.3 428.4,128.3 429.5,131.3 430.6,134.3 431.8,137.3 433,140.3 434.2,143.3 435.5,146.3 436.7,149.1 438,151.8 439.3,154.6 440.6,157.3 442,160.1 443.5,162.8 445,165.6 446.5,168.3 448.2,171.1 449.9,173.8 451.6,176.6 453.3,179.1 455.1,181.6 456.9,184.1 458.9,186.6 460.9,189.1 463.1,191.6 465.1,193.8 467.2,196.1 469.5,198.3 471.9,200.6 474.4,202.8 476.8,204.8 479.3,206.8 481.9,208.8 484.4,210.6 487,212.3 489.8,214.1 492.7,215.8 495.3,217.3 498.1,218.8 501.1,220.3 504.2,221.8 507,223.1 509.9,224.3 513,225.6 516.3,226.8 519.8,228.1 522.7,229.1 525.8,230.1 529,231.1 532.4,232.1 536,233.1 539.8,234.1 542.9,234.8 546,235.6 549.3,236.3 552.8,237.1 556.4,237.8 560.2,238.6 564.2,239.3 568.5,240.1 572.9,240.8 576,241.3 579.3,241.8 582.6,242.3 586.1,242.8 589.8,243.3 593.6,243.8 597.5,244.3 601.7,244.8 606,245.3 610.5,245.8 615.2,246.3 620.1,246.8 625.3,247.3 630.7,247.8 636.4,248.3 678.2,248.3 678.2,5.3" fill="#b7ce37"/>
<polygon points="400,5.3 400.4,8.3 400.9,11.3 401.5,14.3 402,17.3 402.5,20.3 403,23.3 403.6,26.3 404.1,29.3 404.7,32.3 405.2,35.3 405.8,38.3 406.4,41.3 407,44.3 407.6,47.3 408.2,50.3 408.8,53.3 409.4,56.3 410.1,59.3 410.7,62.3 411.4,65.3 412.1,68.3 412.8,71.3 413.5,74.3 414.2,77.3 415,80.3 415.7,83.3 416.5,86.3 417.3,89.3 418.1,92.3 418.9,95.3 419.7,98.3 420.6,101.3 421.4,104.3 422.3,107.3 423.3,110.3 424.2,113.3 425.2,116.3 426.2,119.3 427.2,122.3 428.2,125.3 429.3,128.3 430.4,131.3 431.5,134.3 432.7,137.3 433.9,140.3 435.2,143.3 436.5,146.3 437.7,149.1 439,151.8 440.3,154.6 441.7,157.3 443.1,160.1 444.5,162.8 446,165.6 447.6,168.3 449.3,171.1 451,173.8 452.8,176.6 454.5,179.1 456.3,181.6 458.2,184.1 460.2,186.6 462.2,189.1 464.4,191.6 466.5,193.8 468.6,196.1 470.9,198.3 473.3,200.6 475.6,202.6 478,204.6 480.5,206.6 483.2,208.6 485.7,210.3 488.3,212.1 491,213.8 494,215.6 496.6,217.1 499.4,218.6 502.4,220.1 505.6,221.6 508.3,222.8 511.3,224.1 514.3,225.3 517.6,226.6 521.1,227.8 524,228.8 527,229.8 530.3,230.8 533.7,231.8 537.3,232.8 541.1,233.8 544.1,234.6 547.2,235.3 550.5,236.1 553.9,236.8 557.5,237.6 561.2,238.3 565.2,239.1 569.4,239.8 573.8,240.6 576.9,241.1 580.1,241.6 583.4,242.1 586.8,242.6 590.4,243.1 594.2,243.6 598,244.1 602.1,244.6 606.3,245.1 610.7,245.6 615.4,246.1 620.2,246.6 625.3,247.1 630.6,247.6 636.1,248.1 638.9,248.3 678.2,248.3 678.2,5.3" fill="#ced63a"/>
<polygon points="400.6,5.3 401.1,8.3 401.6,11.3 402.1,14.3 402.6,17.3 403.1,20.3 403.7,23.3 404.2,26.3 404.8,29.3 405.3,32.3 405.9,35.3 406.5,38.3 407.1,41.3 407.7,44.3 408.3,47.3 408.9,50.3 409.5,53.3 410.1,56.3 410.8,59.3 411.5,62.3 412.1,65.3 412.8,68.3 413.5,71.3 414.2,74.3 415,77.3 415.7,80.3 416.5,83.3 417.2,86.3 418,89.3 418.8,92.3 419.7,95.3 420.5,98.3 421.4,101.3 422.2,104.3 423.1,107.3 424.1,110.3 425,113.3 426,116.3 427,119.3 428,122.3 429.1,125.3 430.2,128.3 431.3,131.3 432.4,134.3 433.6,137.3 434.9,140.3 436.1,143.3 437.3,146.1 438.6,148.8 439.9,151.6 441.2,154.3 442.6,157.1 444,159.8 445.5,162.6 447,165.3 448.6,168.1 450.3,170.8 452,173.6 453.8,176.3 455.5,178.8 457.4,181.3 459.2,183.8 461.2,186.3 463.3,188.8 465.5,191.3 467.6,193.6 469.8,195.8 472.1,198.1 474.5,200.3 476.8,202.3 479.2,204.3 481.7,206.3 484.4,208.3 486.9,210.1 489.5,211.8 492.3,213.6 495.2,215.3 497.9,216.8 500.7,218.3 503.7,219.8 506.9,221.3 509.6,222.6 512.6,223.8 515.6,225.1 518.9,226.3 522.4,227.6 525.3,228.6 528.3,229.6 531.5,230.6 534.9,231.6 538.5,232.6 542.3,233.6 545.2,234.3 548.3,235.1 551.6,235.8 555,236.6 558.6,237.3 562.3,238.1 566.2,238.8 570.4,239.6 574.7,240.3 577.7,240.8 580.9,241.3 584.2,241.8 587.6,242.3 591.1,242.8 594.8,243.3 598.6,243.8 602.6,244.3 606.7,244.8 611.1,245.3 615.6,245.8 620.3,246.3 625.3,246.8 630.5,247.3 635.9,247.8 641.5,248.3 678.2,248.3 678.2,5.3" fill="#e2dc3c"/>
<polygon points="401.2,5.3 401.7,8.3 402.2,11.3 402.7,14.3 403.3,17.3 403.8,20.3 404.3,23.3 404.9,26.3 405.4,29.3 406,32.3 406.6,35.3 407.1,38.3 407.7,41.3 408.3,44.3 408.9,47.3 409.6,50.3 410.2,53.3 410.8,56.3 411.5,59.3 412.2,62.3 412.8,65.3 413.5,68.3 414.2,71.3 415,74.3 415.7,77.3 416.4,80.3 417.2,83.3 418,86.3 418.8,89.3 419.6,92.3 420.4,95.3 421.3,98.3 422.1,101.3 423,104.3 424,107.3 424.9,110.3 425.9,113.3 426.8,116.3 427.8,119.3 428.9,122.3 430,125.3 431.1,128.3 432.2,131.3 433.4,134.3 434.6,137.3 435.8,140.3 437.1,143.3 438.3,146.1 439.6,148.8 440.9,151.6 442.2,154.3 443.6,157.1 445,159.8 446.5,162.6 448.1,165.3 449.7,168.1 451.4,170.8 453.1,173.6 454.8,176.1 456.6,178.6 458.4,181.1 460.3,183.6 462.3,186.1 464.4,188.6 466.4,190.8 468.5,193.1 470.7,195.3 473,197.6 475.4,199.8 477.7,201.8 480.1,203.8 482.6,205.8 485.3,207.8 487.8,209.6 490.4,211.3 493.2,213.1 496.1,214.8 498.7,216.3 501.5,217.8 504.5,219.3 507.6,220.8 510.4,222.1 513.3,223.3 516.3,224.6 519.5,225.8 522.9,227.1 525.8,228.1 528.8,229.1 532,230.1 535.3,231.1 538.8,232.1 542.5,233.1 545.4,233.8 548.5,234.6 551.6,235.3 555,236.1 558.4,236.8 562.1,237.6 565.9,238.3 569.9,239.1 574.2,239.8 578.6,240.6 581.7,241.1 584.9,241.6 588.3,242.1 591.8,242.6 595.4,243.1 599.1,243.6 603.1,244.1 607.1,244.6 611.4,245.1 615.8,245.6 620.5,246.1 625.3,246.6 630.4,247.1 635.7,247.6 641.2,248.1 644.1,248.3 678.2,248.3 678.2,5.3" fill="#e8d93d"/>
<polygon points="401.8,5.3 402.3,8.3 402.8,11.3 403.3,14.3 403.8,17.3 404.4,20.3 404.9,23.3 405.5,26.3 406,29.3 406.6,32.3 407.2,35.3 407.7,38.3 408.3,41.3 409,44.3 409.6,47.3 410.2,50.3 410.8,53.3 411.5,56.3 412.1,59.3 412.8,62.3 413.5,65.3 414.2,68.3 414.9,71.3 415.6,74.3 416.4,77.3 417.1,80.3 417.9,83.3 418.7,86.3 419.5,89.3 420.3,92.3 421.2,95.3 422,98.3 422.9,101.3 423.8,104.3 424.7,107.3 425.7,110.3 426.6,113.3 427.6,116.3 428.7,119.3 429.7,122.3 430.8,125.3 431.9,128.3 433,131.3 434.2,134.3 435.4,137.3 436.7,140.3 438,143.3 439.2,146.1 440.5,148.8 441.8,151.6 443.1,154.3 444.5,157.1 446,159.8 447.5,162.6 449.1,165.3 450.7,168.1 452.4,170.8 454.2,173.6 455.9,176.1 457.7,178.6 459.5,181.1 461.4,183.6 463.4,186.1 465.6,188.6 467.6,190.8 469.7,193.1 471.9,195.3 474.2,197.6 476.7,199.8 479,201.8 481.4,203.8 484,205.8 486.7,207.8 489.2,209.6 491.8,211.3 494.6,213.1 497.6,214.8 500.2,216.3 503.1,217.8 506,219.3 509.2,220.8 512,222.1 514.9,223.3 518,224.6 521.2,225.8 524.7,227.1 527.6,228.1 530.6,229.1 533.8,230.1 537.2,231.1 540.7,232.1 544.4,233.1 547.4,233.8 550.5,234.6 553.7,235.3 557,236.1 560.5,236.8 564.2,237.6 568.1,238.3 572.1,239.1 576.4,239.8 579.4,240.3 582.5,240.8 585.7,241.3 589,241.8 592.4,242.3 596,242.8 599.7,243.3 603.6,243.8 607.7,244.3 611.9,244.8 616.3,245.3 620.9,245.8 625.7,246.3 630.7,246.8 635.9,247.3 641.4,247.8 647.1,248.3 678.2,248.3 678.2,5.3" fill="#e6cd39"/>
<polygon points="402.2,5.3 402.7,8.3 403.3,11.3 403.8,14.3 404.3,17.3 404.9,20.3 405.4,23.3 406,26.3 406.5,29.3 407.1,32.3 407.7,35.3 408.3,38.3 408.9,41.3 409.5,44.3 410.1,47.3 410.8,50.3 411.4,53.3 412.1,56.3 412.7,59.3 413.4,62.3 414.1,65.3 414.8,68.3 415.5,71.3 416.3,74.3 417,77.3 417.8,80.3 418.6,83.3 419.4,86.3 420.2,89.3 421,92.3 421.9,95.3 422.7,98.3 423.6,101.3 424.5,104.3 425.5,107.3 426.4,110.3 427.4,113.3 428.4,116.3 429.4,119.3 430.5,122.3 431.6,125.3 432.7,128.3 433.9,131.3 435.1,134.3 436.3,137.3 437.5,140.3 438.8,143.3 440.1,146.1 441.4,148.8 442.7,151.6 444,154.3 445.5,157.1 446.9,159.8 448.4,162.6 450,165.3 451.7,168.1 453.4,170.8 455.2,173.6 456.9,176.1 458.6,178.6 460.5,181.1 462.4,183.6 464.5,186.1 466.6,188.6 468.6,190.8 470.7,193.1 472.9,195.3 475.3,197.6 477.8,199.8 480.1,201.8 482.5,203.8 485.1,205.8 487.8,207.8 490.3,209.6 493,211.3 495.8,213.1 498.8,214.8 501.5,216.3 504.3,217.8 507.3,219.3 510.5,220.8 513.3,222.1 516.3,223.3 519.4,224.6 522.7,225.8 526.1,227.1 529.1,228.1 532.1,229.1 535.4,230.1 538.8,231.1 542.4,232.1 546.1,233.1 549.1,233.8 552.2,234.6 555.5,235.3 558.9,236.1 562.4,236.8 566.2,237.6 570.1,238.3 574.2,239.1 578.5,239.8 581.6,240.3 584.7,240.8 587.9,241.3 591.3,241.8 594.8,242.3 598.5,242.8 602.2,243.3 606.2,243.8 610.3,244.3 614.6,244.8 619.1,245.3 623.7,245.8 628.6,246.3 633.8,246.8 639.1,247.3 644.7,247.8 650.5,248.3 678.2,248.3 678.2,5.3" fill="#e7bf36"/>
<polygon points="402.7,5.3 403.2,8.3 403.7,11.3 404.3,14.3 404.8,17.3 405.4,20.3 405.9,23.3 406.5,26.3 407.1,29.3 407.6,32.3 408.2,35.3 408.8,38.3 409.4,41.3 410.1,44.3 410.7,47.3 411.3,50.3 412,53.3 412.7,56.3 413.3,59.3 414,62.3 414.7,65.3 415.5,68.3 416.2,71.3 416.9,74.3 417.7,77.3 418.5,80.3 419.3,83.3 420.1,86.3 420.9,89.3 421.7,92.3 422.6,95.3 423.5,98.3 424.4,101.3 425.3,104.3 426.2,107.3 427.2,110.3 428.2,113.3 429.2,116.3 430.2,119.3 431.3,122.3 432.4,125.3 433.5,128.3 434.7,131.3 435.9,134.3 437.1,137.3 438.4,140.3 439.6,143.1 440.8,145.8 442.1,148.6 443.4,151.3 444.8,154.1 446.2,156.8 447.7,159.6 449.2,162.3 450.8,165.1 452.5,167.8 454.2,170.6 456,173.3 457.7,175.8 459.4,178.3 461.3,180.8 463.2,183.3 465.3,185.8 467.4,188.3 469.4,190.6 471.5,192.8 473.8,195.1 476.1,197.3 478.6,199.6 480.9,201.6 483.3,203.6 485.9,205.6 488.6,207.6 491.1,209.3 493.8,211.1 496.6,212.8 499.6,214.6 502.3,216.1 505.1,217.6 508.1,219.1 511.3,220.6 514.1,221.8 517,223.1 520.1,224.3 523.4,225.6 526.9,226.8 529.8,227.8 532.9,228.8 536.1,229.8 539.5,230.8 543.1,231.8 546.8,232.8 549.8,233.6 552.9,234.3 556.2,235.1 559.6,235.8 563.1,236.6 566.8,237.3 570.7,238.1 574.8,238.8 579.2,239.6 582.2,240.1 585.3,240.6 588.5,241.1 591.9,241.6 595.4,242.1 599,242.6 602.8,243.1 606.7,243.6 610.8,244.1 615.1,244.6 619.6,245.1 624.2,245.6 629.1,246.1 634.2,246.6 639.5,247.1 645.1,247.6 650.9,248.1 653.9,248.3 678.2,248.3 678.2,5.3" fill="#e9b032"/>
<polygon points="403.1,5.3 403.7,8.3 404.2,11.3 404.7,14.3 405.3,17.3 405.8,20.3 406.4,23.3 407,26.3 407.6,29.3 408.2,32.3 408.8,35.3 409.4,38.3 410,41.3 410.6,44.3 411.3,47.3 411.9,50.3 412.6,53.3 413.3,56.3 413.9,59.3 414.6,62.3 415.4,65.3 416.1,68.3 416.8,71.3 417.6,74.3 418.3,77.3 419.1,80.3 419.9,83.3 420.7,86.3 421.6,89.3 422.4,92.3 423.3,95.3 424.2,98.3 425.1,101.3 426,104.3 427,107.3 427.9,110.3 428.9,113.3 430,116.3 431,119.3 432.1,122.3 433.2,125.3 434.3,128.3 435.5,131.3 436.7,134.3 438,137.3 439.2,140.3 440.4,143.1 441.7,145.8 443,148.6 444.3,151.3 445.7,154.1 447.1,156.8 448.6,159.6 450.1,162.3 451.7,165.1 453.4,167.8 455.1,170.6 456.9,173.3 458.6,175.8 460.4,178.3 462.3,180.8 464.2,183.3 466.3,185.8 468.4,188.3 470.5,190.6 472.6,192.8 474.8,195.1 477.2,197.3 479.7,199.6 482,201.6 484.4,203.6 487,205.6 489.8,207.6 492.3,209.3 495,211.1 497.8,212.8 500.8,214.6 503.5,216.1 506.4,217.6 509.4,219.1 512.6,220.6 515.4,221.8 518.4,223.1 521.5,224.3 524.9,225.6 528.4,226.8 531.3,227.8 534.4,228.8 537.7,229.8 541.1,230.8 544.7,231.8 548.5,232.8 551.5,233.6 554.7,234.3 558,235.1 561.4,235.8 565,236.6 568.8,237.3 572.7,238.1 576.9,238.8 581.3,239.6 584.3,240.1 587.5,240.6 590.8,241.1 594.2,241.6 597.7,242.1 601.4,242.6 605.3,243.1 609.3,243.6 613.4,244.1 617.8,244.6 622.3,245.1 627.1,245.6 632,246.1 637.2,246.6 642.7,247.1 648.4,247.6 654.3,248.1 657.4,248.3 678.2,248.3 678.2,5.3" fill="#eaa02f"/>
<polygon points="403.6,5.3 404.1,8.3 404.7,11.3 405.2,14.3 405.8,17.3 406.3,20.3 406.9,23.3 407.5,26.3 408.1,29.3 408.7,32.3 409.3,35.3 409.9,38.3 410.5,41.3 411.2,44.3 411.8,47.3 412.5,50.3 413.2,53.3 413.9,56.3 414.5,59.3 415.3,62.3 416,65.3 416.7,68.3 417.5,71.3 418.2,74.3 419,77.3 419.8,80.3 420.6,83.3 421.4,86.3 422.3,89.3 423.1,92.3 424,95.3 424.9,98.3 425.8,101.3 426.7,104.3 427.7,107.3 428.7,110.3 429.7,113.3 430.7,116.3 431.8,119.3 432.9,122.3 434,125.3 435.1,128.3 436.3,131.3 437.5,134.3 438.8,137.3 440.1,140.3 441.3,143.1 442.6,145.8 443.9,148.6 445.2,151.3 446.6,154.1 448,156.8 449.5,159.6 451.1,162.3 452.7,165.1 454.3,167.8 456.1,170.6 457.9,173.3 459.6,175.8 461.4,178.3 463.3,180.8 465.2,183.3 467.3,185.8 469.4,188.3 471.5,190.6 473.6,192.8 475.9,195.1 478.2,197.3 480.7,199.6 483.1,201.6 485.6,203.6 488.2,205.6 490.9,207.6 493.5,209.3 496.2,211.1 499,212.8 502,214.6 504.8,216.1 507.7,217.6 510.7,219.1 513.9,220.6 516.8,221.8 519.8,223.1 522.9,224.3 526.3,225.6 529.8,226.8 532.8,227.8 535.9,228.8 539.2,229.8 542.7,230.8 546.3,231.8 550.2,232.8 553.2,233.6 556.4,234.3 559.7,235.1 563.2,235.8 566.9,236.6 570.7,237.3 574.7,238.1 578.9,238.8 583.4,239.6 586.5,240.1 589.7,240.6 593,241.1 596.5,241.6 600.1,242.1 603.8,242.6 607.7,243.1 611.8,243.6 616,244.1 620.5,244.6 625.1,245.1 629.9,245.6 635,246.1 640.3,246.6 645.8,247.1 651.6,247.6 654.6,247.8 657.7,248.1 660.8,248.3 678.2,248.3 678.2,5.3" fill="#e88e2b"/>
<polygon points="404,5.3 404.6,8.3 405.1,11.3 405.7,14.3 406.2,17.3 406.8,20.3 407.4,23.3 408,26.3 408.6,29.3 409.2,32.3 409.8,35.3 410.4,38.3 411.1,41.3 411.7,44.3 412.4,47.3 413,50.3 413.7,53.3 414.4,56.3 415.1,59.3 415.8,62.3 416.6,65.3 417.3,68.3 418.1,71.3 418.8,74.3 419.6,77.3 420.4,80.3 421.2,83.3 422.1,86.3 422.9,89.3 423.8,92.3 424.7,95.3 425.6,98.3 426.5,101.3 427.5,104.3 428.4,107.3 429.4,110.3 430.4,113.3 431.5,116.3 432.5,119.3 433.6,122.3 434.8,125.3 435.9,128.3 437.1,131.3 438.3,134.3 439.6,137.3 440.9,140.3 442.1,143.1 443.4,145.8 444.7,148.6 446.1,151.3 447.5,154.1 448.9,156.8 450.4,159.6 452,162.3 453.6,165.1 455.2,167.8 457,170.6 458.8,173.3 460.5,175.8 462.3,178.3 464.2,180.8 466.2,183.3 468.3,185.8 470.4,188.3 472.5,190.6 474.6,192.8 476.9,195.1 479.3,197.3 481.8,199.6 484.2,201.6 486.6,203.6 489.3,205.6 492,207.6 494.6,209.3 497.3,211.1 500.2,212.8 503.2,214.6 506,216.1 508.9,217.6 512,219.1 515.2,220.6 518.1,221.8 521.1,223.1 524.3,224.3 527.7,225.6 530.5,226.6 533.5,227.6 536.6,228.6 539.9,229.6 543.3,230.6 547,231.6 550.8,232.6 553.9,233.3 557,234.1 560.3,234.8 563.8,235.6 567.4,236.3 571.2,237.1 575.2,237.8 579.4,238.6 583.9,239.3 587,239.8 590.2,240.3 593.5,240.8 596.9,241.3 600.5,241.8 604.2,242.3 608.1,242.8 612.2,243.3 616.4,243.8 620.8,244.3 625.4,244.8 630.2,245.3 635.2,245.8 640.4,246.3 646,246.8 651.7,247.3 654.7,247.6 657.8,247.8 660.9,248.1 664.1,248.3 678.2,248.3 678.2,5.3" fill="#e77c27"/>
<polygon points="404.5,5.3 405,8.3 405.6,11.3 406.1,14.3 406.7,17.3 407.3,20.3 407.9,23.3 408.5,26.3 409.1,29.3 409.7,32.3 410.3,35.3 411,38.3 411.6,41.3 412.3,44.3 412.9,47.3 413.6,50.3 414.3,53.3 415,56.3 415.7,59.3 416.4,62.3 417.2,65.3 417.9,68.3 418.7,71.3 419.5,74.3 420.2,77.3 421.1,80.3 421.9,83.3 422.7,86.3 423.6,89.3 424.5,92.3 425.3,95.3 426.3,98.3 427.2,101.3 428.2,104.3 429.1,107.3 430.1,110.3 431.2,113.3 432.2,116.3 433.3,119.3 434.4,122.3 435.5,125.3 436.7,128.3 437.9,131.3 439.1,134.3 440.4,137.3 441.6,140.1 442.8,142.8 444.1,145.6 445.4,148.3 446.8,151.1 448.2,153.8 449.6,156.6 451.1,159.3 452.7,162.1 454.3,164.8 456,167.6 457.7,170.3 459.6,173.1 461.3,175.6 463.1,178.1 465,180.6 467,183.1 469,185.6 471.2,188.1 473.2,190.3 475.4,192.6 477.6,194.8 480,197.1 482.5,199.3 484.9,201.3 487.4,203.3 490,205.3 492.8,207.3 495.3,209.1 498,210.8 500.9,212.6 503.9,214.3 506.7,215.8 509.6,217.3 512.7,218.8 515.9,220.3 518.8,221.6 521.8,222.8 525,224.1 528.3,225.3 531.1,226.3 534.1,227.3 537.2,228.3 540.5,229.3 543.9,230.3 547.6,231.3 551.4,232.3 554.4,233.1 557.6,233.8 560.9,234.6 564.3,235.3 568,236.1 571.7,236.8 575.7,237.6 579.9,238.3 584.3,239.1 587.4,239.6 590.6,240.1 593.9,240.6 597.3,241.1 600.9,241.6 604.6,242.1 608.5,242.6 612.5,243.1 616.7,243.6 621,244.1 625.6,244.6 630.4,245.1 635.3,245.6 640.6,246.1 646,246.6 651.8,247.1 657.8,247.6 660.9,247.8 664.1,248.1 667.4,248.3 678.2,248.3 678.2,5.3" fill="#e36824"/>
<polygon points="404.9,5.3 405.5,8.3 406,11.3 406.6,14.3 407.2,17.3 407.8,20.3 408.3,23.3 409,26.3 409.6,29.3 410.2,32.3 410.8,35.3 411.5,38.3 412.1,41.3 412.8,44.3 413.5,47.3 414.1,50.3 414.8,53.3 415.5,56.3 416.3,59.3 417,62.3 417.7,65.3 418.5,68.3 419.3,71.3 420.1,74.3 420.9,77.3 421.7,80.3 422.5,83.3 423.4,86.3 424.2,89.3 425.1,92.3 426,95.3 426.9,98.3 427.9,101.3 428.9,104.3 429.8,107.3 430.8,110.3 431.9,113.3 432.9,116.3 434,119.3 435.1,122.3 436.3,125.3 437.5,128.3 438.7,131.3 439.9,134.3 441.2,137.3 442.4,140.1 443.6,142.8 444.9,145.6 446.3,148.3 447.6,151.1 449,153.8 450.5,156.6 452,159.3 453.6,162.1 455.2,164.8 456.9,167.6 458.6,170.3 460.3,172.8 462,175.3 463.8,177.8 465.7,180.3 467.7,182.8 469.8,185.3 471.9,187.8 474,190.1 476.1,192.3 478.4,194.6 480.8,196.8 483.3,199.1 485.6,201.1 488.1,203.1 490.7,205.1 493.5,207.1 496.1,208.8 498.8,210.6 501.6,212.3 504.7,214.1 507.4,215.6 510.3,217.1 513.4,218.6 516.6,220.1 519.4,221.3 522.5,222.6 525.6,223.8 529,225.1 532.5,226.3 535.5,227.3 538.7,228.3 542,229.3 545.4,230.3 549.1,231.3 553,232.3 556,233.1 559.2,233.8 562.6,234.6 566.1,235.3 569.7,236.1 573.5,236.8 577.6,237.6 581.8,238.3 586.3,239.1 589.4,239.6 592.6,240.1 596,240.6 599.5,241.1 603.1,241.6 606.8,242.1 610.7,242.6 614.8,243.1 619.1,243.6 623.5,244.1 628.1,244.6 633,245.1 638,245.6 643.4,246.1 648.9,246.6 654.8,247.1 657.8,247.3 660.9,247.6 664.1,247.8 667.3,248.1 668.2,248.3 678.2,248.3 678.2,5.3" fill="#df5220"/>
<polygon points="405.3,5.3 405.9,8.3 406.5,11.3 407,14.3 407.6,17.3 408.2,20.3 408.8,23.3 409.4,26.3 410.1,29.3 410.7,32.3 411.3,35.3 412,38.3 412.6,41.3 413.3,44.3 414,47.3 414.7,50.3 415.4,53.3 416.1,56.3 416.8,59.3 417.6,62.3 418.3,65.3 419.1,68.3 419.9,71.3 420.7,74.3 421.5,77.3 422.3,80.3 423.2,83.3 424,86.3 424.9,89.3 425.8,92.3 426.7,95.3 427.6,98.3 428.6,101.3 429.5,104.3 430.5,107.3 431.6,110.3 432.6,113.3 433.7,116.3 434.8,119.3 435.9,122.3 437,125.3 438.2,128.3 439.4,131.3 440.7,134.3 442,137.3 443.2,140.1 444.5,142.8 445.8,145.6 447.1,148.3 448.5,151.1 449.9,153.8 451.3,156.6 452.9,159.3 454.4,162.1 456.1,164.8 457.8,167.6 459.5,170.3 461.2,172.8 463,175.3 464.8,177.8 466.7,180.3 468.7,182.8 470.7,185.3 472.9,187.8 475,190.1 477.1,192.3 479.4,194.6 481.8,196.8 484,198.8 486.4,200.8 488.9,202.8 491.5,204.8 494.2,206.8 496.8,208.6 499.5,210.3 502.3,212.1 505.4,213.8 508.1,215.3 511,216.8 514,218.3 517.3,219.8 520.1,221.1 523.1,222.3 526.3,223.6 529.6,224.8 533.2,226.1 536.2,227.1 539.3,228.1 542.6,229.1 546,230.1 549.7,231.1 553.6,232.1 556.6,232.8 559.8,233.6 563.1,234.3 566.6,235.1 570.2,235.8 574,236.6 578,237.3 582.3,238.1 586.7,238.8 589.8,239.3 593,239.8 596.3,240.3 599.8,240.8 603.4,241.3 607.1,241.8 611,242.3 615.1,242.8 619.3,243.3 623.7,243.8 628.3,244.3 633.1,244.8 638.1,245.3 643.4,245.8 648.9,246.3 654.7,246.8 657.7,247.1 660.8,247.3 664,247.6 667.2,247.8 668.2,248.3 678.2,248.3 678.2,5.3" fill="#da3d1e"/>
<polygon points="405.8,5.3 406.3,8.3 406.9,11.3 407.5,14.3 408.1,17.3 408.7,20.3 409.3,23.3 409.9,26.3 410.5,29.3 411.2,32.3 411.8,35.3 412.5,38.3 413.2,41.3 413.8,44.3 414.5,47.3 415.2,50.3 415.9,53.3 416.7,56.3 417.4,59.3 418.2,62.3 418.9,65.3 419.7,68.3 420.5,71.3 421.3,74.3 422.1,77.3 422.9,80.3 423.8,83.3 424.7,86.3 425.5,89.3 426.4,92.3 427.4,95.3 428.3,98.3 429.3,101.3 430.2,104.3 431.3,107.3 432.3,110.3 433.3,113.3 434.4,116.3 435.5,119.3 436.6,122.3 437.8,125.3 439,128.3 440.2,131.3 441.5,134.3 442.8,137.3 444,140.1 445.3,142.8 446.6,145.6 447.9,148.3 449.3,151.1 450.7,153.8 452.2,156.6 453.7,159.3 455.3,162.1 457,164.8 458.7,167.6 460.4,170.3 462.1,172.8 463.9,175.3 465.7,177.8 467.6,180.3 469.6,182.8 471.7,185.3 473.9,187.8 476,190.1 478.1,192.3 480.4,194.6 482.8,196.8 485.1,198.8 487.4,200.8 489.9,202.8 492.5,204.8 495.3,206.8 497.9,208.6 500.6,210.3 503.5,212.1 506.5,213.8 509.3,215.3 512.2,216.8 515.3,218.3 518.5,219.8 521.4,221.1 524.4,222.3 527.6,223.6 531,224.8 533.8,225.8 536.8,226.8 539.9,227.8 543.2,228.8 546.6,229.8 550.3,230.8 554.1,231.8 557.2,232.6 560.3,233.3 563.6,234.1 567.1,234.8 570.7,235.6 574.5,236.3 578.5,237.1 582.7,237.8 587.1,238.6 590.2,239.1 593.4,239.6 596.7,240.1 600.1,240.6 603.7,241.1 607.4,241.6 611.3,242.1 615.3,242.6 619.5,243.1 623.9,243.6 628.5,244.1 633.2,244.6 638.2,245.1 643.4,245.6 648.9,246.1 654.7,246.6 660.7,247.1 663.8,247.3 667.1,247.6 668.2,248.3 678.2,248.3 678.2,5.3" fill="#d62d1f"/>
<polygon points="406.2,5.3 406.8,8.3 407.4,11.3 408,14.3 408.6,17.3 409.2,20.3 409.8,23.3 410.4,26.3 411.1,29.3 411.7,32.3 412.4,35.3 413.1,38.3 413.7,41.3 414.4,44.3 415.1,47.3 415.8,50.3 416.5,53.3 417.3,56.3 418,59.3 418.8,62.3 419.6,65.3 420.3,68.3 421.1,71.3 422,74.3 422.8,77.3 423.6,80.3 424.5,83.3 425.4,86.3 426.3,89.3 427.2,92.3 428.1,95.3 429,98.3 430,101.3 431,104.3 432,107.3 433.1,110.3 434.1,113.3 435.2,116.3 436.3,119.3 437.5,122.3 438.6,125.3 439.8,128.3 441.1,131.3 442.3,134.3 443.7,137.3 444.9,140.1 446.2,142.8 447.5,145.6 448.8,148.3 450.2,151.1 451.6,153.8 453.1,156.6 454.7,159.3 456.3,162.1 457.9,164.8 459.6,167.6 461.4,170.3 463.1,172.8 464.9,175.3 466.7,177.8 468.6,180.3 470.6,182.8 472.7,185.3 474.9,187.8 477,190.1 479.2,192.3 481.5,194.6 483.9,196.8 486.2,198.8 488.6,200.8 491.1,202.8 493.7,204.8 496.1,206.6 498.7,208.3 501.4,210.1 504.3,211.8 507.3,213.6 510.1,215.1 513,216.6 516.1,218.1 519.3,219.6 522.2,220.8 525.2,222.1 528.4,223.3 531.7,224.6 534.6,225.6 537.5,226.6 540.6,227.6 543.9,228.6 547.3,229.6 551,230.6 554.8,231.6 557.8,232.3 561,233.1 564.3,233.8 567.7,234.6 571.3,235.3 575.1,236.1 579.1,236.8 583.3,237.6 587.7,238.3 590.8,238.8 593.9,239.3 597.2,239.8 600.6,240.3 604.2,240.8 607.9,241.3 611.7,241.8 615.7,242.3 619.9,242.8 624.3,243.3 628.8,243.8 633.5,244.3 638.5,244.8 643.7,245.3 649.1,245.8 654.8,246.3 660.8,246.8 663.9,247.1 667.1,247.3 668.2,248.3 678.2,248.3 678.2,5.3" fill="#d62d1f"/>
</g>
<path d="M86.2,9.6 L86.3,10.1 L86.4,10.6 L86.5,11.1 L86.6,11.6 L86.7,12.1 L86.8,12.6 L86.8,13.1 L86.9,13.6 L87.0,14.1 L87.1,14.6 L87.2,15.1 L87.3,15.6 L87.4,16.1 L87.5,16.6 L87.6,17.1 L87.7,17.6 L87.8,18.1 L87.9,18.6 L88.0,19.1 L88.1,19.6 L88.2,20.1 L88.3,20.6 L88.4,21.1 L88.5,21.6 L88.6,22.1 L88.7,22.6 L88.8,23.1 L88.9,23.6 L89.0,24.1 L89.1,24.6 L89.2,25.1 L89.3,25.6 L89.4,26.1 L89.5,26.6 L89.6,27.1 L89.7,27.6 L89.8,28.1 L89.9,28.6 L90.0,29.1 L90.1,29.6 L90.2,30.1 L90.3,30.6 L90.4,31.1 L90.5,31.6 L90.6,32.1 L90.7,32.6 L90.8,33.1 L90.9,33.6 L91.0,34.1 L91.1,34.6 L91.2,35.1 L91.3,35.6 L91.4,36.1 L91.5,36.6 L91.6,37.1 L91.8,37.6 L91.9,38.1 L92.0,38.6 L92.1,39.1 L92.2,39.6 L92.3,40.1 L92.4,40.6 L92.5,41.1 L92.6,41.6 L92.8,42.1 L92.9,42.6 L93.0,43.1 L93.1,43.6 L93.2,44.1 L93.3,44.6 L93.4,45.1 L93.5,45.6 L93.7,46.1 L93.8,46.6 L93.9,47.1 L94.0,47.6 L94.1,48.1 L94.2,48.6 L94.4,49.1 L94.5,49.6 L94.6,50.1 L94.7,50.6 L94.8,51.1 L95.0,51.6 L95.1,52.1 L95.2,52.6 L95.3,53.1 L95.4,53.6 L95.6,54.1 L95.7,54.6 L95.8,55.1 L95.9,55.6 L96.1,56.1 L96.2,56.6 L96.3,57.1 L96.4,57.6 L96.6,58.1 L96.7,58.6 L96.8,59.1 L96.9,59.6 L97.1,60.1 L97.2,60.6 L97.3,61.1 L97.5,61.6 L97.6,62.1 L97.7,62.6 L97.8,63.1 L98.0,63.6 L98.1,64.1 L98.2,64.6 L98.4,65.1 L98.5,65.6 L98.6,66.1 L98.8,66.6 L98.9,67.1 L99.0,67.6 L99.2,68.1 L99.3,68.6 L99.5,69.1 L99.6,69.6 L99.7,70.1 L99.9,70.6 L100.0,71.1 L100.1,71.6 L100.3,72.1 L100.4,72.6 L100.6,73.1 L100.7,73.6 L100.9,74.1 L101.0,74.6 L101.1,75.1 L101.3,75.6 L101.4,76.1 L101.6,76.6 L101.7,77.1 L101.9,77.6 L102.0,78.1 L102.2,78.6 L102.3,79.1 L102.5,79.6 L102.6,80.1 L102.8,80.6 L102.9,81.1 L103.1,81.6 L103.2,82.1 L103.4,82.6 L103.5,83.1 L103.7,83.6 L103.8,84.1 L104.0,84.6 L104.2,85.1 L104.3,85.6 L104.5,86.1 L104.6,86.6 L104.8,87.1 L104.9,87.6 L105.1,88.1 L105.3,88.6 L105.4,89.1 L105.6,89.6 L105.8,90.1 L105.9,90.6 L106.1,91.1 L106.3,91.6 L106.4,92.1 L106.6,92.6 L106.8,93.1 L106.9,93.6 L107.1,94.1 L107.3,94.6 L107.4,95.1 L107.6,95.6 L107.8,96.1 L108.0,96.6 L108.1,97.1 L108.3,97.6 L108.5,98.1 L108.7,98.6 L108.8,99.1 L109.0,99.6 L109.2,100.1 L109.4,100.6 L109.6,101.1 L109.7,101.6 L109.9,102.1 L110.1,102.6 L110.3,103.1 L110.5,103.6 L110.7,104.1 L110.8,104.6 L111.0,105.1 L111.2,105.6 L111.4,106.1 L111.6,106.6 L111.8,107.1 L112.0,107.6 L112.2,108.1 L112.4,108.6 L112.6,109.1 L112.8,109.6 L113.0,110.1 L113.2,110.6 L113.4,111.1 L113.6,111.6 L113.8,112.1 L114.0,112.6 L114.2,113.1 L114.4,113.6 L114.6,114.1 L114.8,114.6 L115.0,115.1 L115.2,115.6 L115.4,116.1 L115.6,116.6 L115.8,117.1 L116.0,117.6 L116.3,118.1 L116.5,118.6 L116.7,119.1 L116.9,119.6 L117.1,120.1 L117.4,120.6 L117.6,121.1 L117.8,121.6 L118.0,122.1 L118.2,122.6 L118.5,123.1 L118.7,123.6 L118.9,124.1 L119.2,124.6 L119.4,125.1 L119.6,125.6 L119.9,126.1 L120.1,126.6 L120.3,127.1 L120.6,127.6 L120.8,128.1 L121.0,128.6 L121.3,129.1 L121.5,129.6 L121.8,130.1 L122.0,130.6 L122.3,131.1 L122.5,131.6 L122.8,132.1 L123.0,132.6 L123.3,133.1 L123.5,133.6 L123.8,134.1 L124.0,134.6 L124.3,135.1 L124.6,135.6 L124.8,136.1 L125.1,136.6 L125.3,137.1 L125.6,137.6 L125.9,138.1 L126.2,138.6 L126.4,139.1 L126.7,139.6 L127.0,140.1 L127.2,140.6 L127.5,141.1 L127.8,141.6 L128.1,142.1 L128.4,142.6 L128.7,143.1 L128.9,143.6 L129.2,144.1 L129.5,144.6 L129.8,145.1 L130.1,145.6 L130.4,146.1 L130.7,146.6 L131.0,147.1 L131.3,147.6 L131.6,148.1 L131.9,148.6 L132.2,149.1 L132.5,149.6 L132.9,150.1 L133.2,150.6 L133.5,151.1 L133.8,151.6 L134.1,152.1 L134.4,152.6 L134.8,153.1 L135.1,153.6 L135.4,154.1 L135.8,154.6 L136.1,155.1 L136.4,155.6 L136.8,156.1 L137.1,156.6 L137.5,157.1 L137.8,157.6 L138.1,158.1 L138.5,158.6 L138.9,159.1 L139.2,159.6 L139.6,160.1 L139.9,160.6 L140.3,161.1 L140.7,161.6 L141.0,162.1 L141.4,162.6 L141.8,163.1 L142.2,163.6 L142.5,164.1 L142.9,164.6 L143.3,165.1 L143.7,165.6 L144.1,166.1 L144.5,166.6 L144.9,167.1 L145.3,167.6 L145.7,168.1 L146.1,168.6 L146.5,169.1 L146.9,169.6 L147.3,170.1 L147.7,170.6 L148.2,171.1 L148.6,171.6 L149.0,172.1 L149.5,172.6 L149.9,173.1 L150.3,173.6 L150.8,174.1 L151.2,174.6 L151.7,175.1 L152.1,175.6 L152.6,176.1 L153.1,176.6 L153.5,177.1 L154.0,177.6 L154.5,178.1 L155.0,178.6 L155.4,179.1 L155.9,179.6 L156.4,180.1 L156.9,180.6 L157.4,181.1 L157.9,181.6 L158.4,182.1 L159.0,182.6 L159.5,183.1 L160.0,183.6 L160.5,184.1 L161.1,184.6 L161.6,185.1 L162.1,185.6 L162.7,186.1 L163.2,186.6 L163.8,187.1 L164.4,187.6 L164.9,188.1 L165.5,188.6 L166.1,189.1 L166.7,189.6 L167.3,190.1 L167.9,190.6 L168.5,191.1 L169.1,191.6 L169.7,192.1 L170.3,192.6 L171.0,193.1 L171.6,193.6 L172.2,194.1 L172.9,194.6 L173.5,195.1 L174.2,195.6 L174.9,196.1 L175.5,196.6 L176.2,197.1 L176.9,197.6 L177.6,198.1 L178.3,198.6 L179.0,199.1 L179.8,199.6 L180.5,200.1 L181.2,200.6 L182.0,201.1 L182.7,201.6 L183.5,202.1 L184.3,202.6 L185.0,203.1 L185.8,203.6 L186.6,204.1 L187.4,204.6 L188.3,205.1 L189.1,205.6 L189.9,206.1 L190.8,206.6 L191.6,207.1 L192.5,207.6 L193.4,208.1 L194.3,208.6 L195.2,209.1 L196.1,209.6 L197.0,210.1 L198.0,210.6 L198.9,211.1 L199.9,211.6 L200.8,212.1 L201.8,212.6 L202.8,213.1 L203.9,213.6 L204.9,214.1 L205.9,214.6 L207.0,215.1 L208.1,215.6 L209.2,216.1 L210.3,216.6 L211.4,217.1 L212.5,217.6 L213.7,218.1 L214.8,218.6 L216.0,219.1 L217.2,219.6 L218.5,220.1 L219.7,220.6 L221.0,221.1 L222.3,221.6 L223.6,222.1 L224.9,222.6 L226.2,223.1 L227.6,223.6 L229.0,224.1 L230.4,224.6 L231.8,225.1 L233.3,225.6 L234.8,226.1 L236.3,226.6 L237.9,227.1 L239.4,227.6 L241.0,228.1 L242.6,228.6 L244.3,229.1 L246.0,229.6 L247.7,230.1 L249.4,230.6 L251.2,231.1 L253.1,231.6 L254.9,232.1 L256.8,232.6 L258.7,233.1 L260.7,233.6 L262.7,234.1 L264.8,234.6 L266.9,235.1 L269.0,235.6" fill="none" stroke="#fff" stroke-width="2.6" stroke-dasharray="12.2 9.6"/><path d="M272.2,236.7 L280,239.5" fill="none" stroke="#fff" stroke-width="2.6"/>
<path d="M404.2,52.1 L404.3,52.6 L404.3,53.1 L404.4,53.6 L404.5,54.1 L404.6,54.6 L404.7,55.1 L404.7,55.6 L404.8,56.1 L404.9,56.6 L405.0,57.1 L405.1,57.6 L405.2,58.1 L405.2,58.6 L405.3,59.1 L405.4,59.6 L405.5,60.1 L405.6,60.6 L405.7,61.1 L405.7,61.6 L405.8,62.1 L405.9,62.6 L406.0,63.1 L406.1,63.6 L406.2,64.1 L406.3,64.6 L406.4,65.1 L406.4,65.6 L406.5,66.1 L406.6,66.6 L406.7,67.1 L406.8,67.6 L406.9,68.1 L407.0,68.6 L407.1,69.1 L407.2,69.6 L407.2,70.1 L407.3,70.6 L407.4,71.1 L407.5,71.6 L407.6,72.1 L407.7,72.6 L407.8,73.1 L407.9,73.6 L408.0,74.1 L408.1,74.6 L408.2,75.1 L408.3,75.6 L408.4,76.1 L408.4,76.6 L408.5,77.1 L408.6,77.6 L408.7,78.1 L408.8,78.6 L408.9,79.1 L409.0,79.6 L409.1,80.1 L409.2,80.6 L409.3,81.1 L409.4,81.6 L409.5,82.1 L409.6,82.6 L409.7,83.1 L409.8,83.6 L409.9,84.1 L410.0,84.6 L410.1,85.1 L410.2,85.6 L410.3,86.1 L410.4,86.6 L410.5,87.1 L410.6,87.6 L410.7,88.1 L410.8,88.6 L410.9,89.1 L411.0,89.6 L411.1,90.1 L411.3,90.6 L411.4,91.1 L411.5,91.6 L411.6,92.1 L411.7,92.6 L411.8,93.1 L411.9,93.6 L412.0,94.1 L412.1,94.6 L412.2,95.1 L412.3,95.6 L412.4,96.1 L412.6,96.6 L412.7,97.1 L412.8,97.6 L412.9,98.1 L413.0,98.6 L413.1,99.1 L413.2,99.6 L413.3,100.1 L413.5,100.6 L413.6,101.1 L413.7,101.6 L413.8,102.1 L413.9,102.6 L414.0,103.1 L414.2,103.6 L414.3,104.1 L414.4,104.6 L414.5,105.1 L414.6,105.6 L414.8,106.1 L414.9,106.6 L415.0,107.1 L415.1,107.6 L415.2,108.1 L415.4,108.6 L415.5,109.1 L415.6,109.6 L415.7,110.1 L415.9,110.6 L416.0,111.1 L416.1,111.6 L416.2,112.1 L416.4,112.6 L416.5,113.1 L416.6,113.6 L416.8,114.1 L416.9,114.6 L417.0,115.1 L417.2,115.6 L417.3,116.1 L417.4,116.6 L417.6,117.1 L417.7,117.6 L417.8,118.1 L418.0,118.6 L418.1,119.1 L418.2,119.6 L418.4,120.1 L418.5,120.6 L418.7,121.1 L418.8,121.6 L418.9,122.1 L419.1,122.6 L419.2,123.1 L419.4,123.6 L419.5,124.1 L419.6,124.6 L419.8,125.1 L419.9,125.6 L420.1,126.1 L420.2,126.6 L420.4,127.1 L420.5,127.6 L420.7,128.1 L420.8,128.6 L421.0,129.1 L421.1,129.6 L421.3,130.1 L421.4,130.6 L421.6,131.1 L421.8,131.6 L421.9,132.1 L422.1,132.6 L422.2,133.1 L422.4,133.6 L422.5,134.1 L422.7,134.6 L422.9,135.1 L423.0,135.6 L423.2,136.1 L423.4,136.6 L423.5,137.1 L423.7,137.6 L423.9,138.1 L424.0,138.6 L424.2,139.1 L424.4,139.6 L424.5,140.1 L424.7,140.6 L424.9,141.1 L425.1,141.6 L425.2,142.1 L425.4,142.6 L425.6,143.1 L425.8,143.6 L426.0,144.1 L426.1,144.6 L426.3,145.1 L426.5,145.6 L426.7,146.1 L426.9,146.6 L427.1,147.1 L427.3,147.6 L427.5,148.1 L427.6,148.6 L427.8,149.1 L428.0,149.6 L428.2,150.1 L428.4,150.6 L428.6,151.1 L428.8,151.6 L429.0,152.1 L429.2,152.6 L429.4,153.1 L429.6,153.6 L429.8,154.1 L430.1,154.6 L430.3,155.1 L430.5,155.6 L430.7,156.1 L430.9,156.6 L431.1,157.1 L431.3,157.6 L431.6,158.1 L431.8,158.6 L432.0,159.1 L432.2,159.6 L432.5,160.1 L432.7,160.6 L432.9,161.1 L433.1,161.6 L433.4,162.1 L433.6,162.6 L433.8,163.1 L434.1,163.6 L434.3,164.1 L434.6,164.6 L434.8,165.1 L435.1,165.6 L435.3,166.1 L435.6,166.6 L435.8,167.1 L436.1,167.6 L436.3,168.1 L436.6,168.6 L436.8,169.1 L437.1,169.6 L437.4,170.1 L437.6,170.6 L437.9,171.1 L438.2,171.6 L438.5,172.1 L438.7,172.6 L439.0,173.1 L439.3,173.6 L439.6,174.1 L439.9,174.6 L440.2,175.1 L440.5,175.6 L440.8,176.1 L441.1,176.6 L441.4,177.1 L441.7,177.6 L442.0,178.1 L442.3,178.6 L442.6,179.1 L442.9,179.6 L443.2,180.1 L443.5,180.6 L443.9,181.1 L444.2,181.6 L444.5,182.1 L444.9,182.6 L445.2,183.1 L445.5,183.6 L445.9,184.1 L446.2,184.6 L446.6,185.1 L447.0,185.6 L447.3,186.1 L447.7,186.6 L448.0,187.1 L448.4,187.6 L448.8,188.1 L449.2,188.6 L449.6,189.1 L450.0,189.6 L450.3,190.1 L450.7,190.6 L451.1,191.1 L451.6,191.6 L452.0,192.1 L452.4,192.6 L452.8,193.1 L453.2,193.6 L453.7,194.1 L454.1,194.6 L454.5,195.1 L455.0,195.6 L455.5,196.1 L455.9,196.6 L456.4,197.1 L456.8,197.6 L457.3,198.1 L457.8,198.6 L458.3,199.1 L458.8,199.6 L459.3,200.1 L459.8,200.6 L460.3,201.1 L460.9,201.6 L461.4,202.1 L461.9,202.6 L462.5,203.1 L463.0,203.6 L463.6,204.1 L464.2,204.6 L464.7,205.1 L465.3,205.6 L465.9,206.1 L466.5,206.6 L467.1,207.1 L467.8,207.6 L468.4,208.1 L469.1,208.6 L469.7,209.1 L470.4,209.6 L471.0,210.1 L471.7,210.6 L472.4,211.1 L473.1,211.6 L473.9,212.1 L474.6,212.6 L475.3,213.1 L476.1,213.6 L476.9,214.1 L477.7,214.6 L478.5,215.1 L479.3,215.6 L480.1,216.1 L480.9,216.6 L481.8,217.1 L482.7,217.6 L483.6,218.1 L484.5,218.6 L485.4,219.1 L486.4,219.6 L487.3,220.1 L488.3,220.6 L489.3,221.1 L490.3,221.6 L491.4,222.1 L492.5,222.6 L493.5,223.1 L494.7,223.6 L495.8,224.1 L497.0,224.6 L498.2,225.1 L499.4,225.6 L500.6,226.1 L501.9,226.6 L503.2,227.1 L504.6,227.6 L505.9,228.1 L507.3,228.6 L508.8,229.1 L510.3,229.6 L511.8,230.1 L513.3,230.6 L514.9,231.1 L516.6,231.6 L518.2,232.1 L520.0,232.6 L521.8,233.1 L523.6,233.6 L525.5,234.1 L527.4,234.6 L529.4,235.1 L531.5,235.6 L533.6,236.1 L535.8,236.6 L538.0,237.1 L540.4,237.6 L542.8,238.1 L545.3,238.6 L547.8,239.1 L550.5,239.6 L553.3,240.1 L556.1,240.6 L559.1,241.1 L562.2,241.6 L565.4,242.1 L568.7,242.6 L572.1,243.1" fill="none" stroke="#fff" stroke-width="2.6" stroke-dasharray="11.7 9.7"/>
<line x1="67.8" y1="185.2" x2="52.0" y2="169.6" stroke="#fff" stroke-width="1.6"/><polygon points="48.4,166.0 54.3,168.0 50.5,171.9" fill="#fff"/><line x1="119.0" y1="185.2" x2="134.4" y2="169.6" stroke="#fff" stroke-width="1.6"/><polygon points="138.0,166.0 136.0,171.9 132.1,168.1" fill="#fff"/><text x="95.5" y="204.5" text-anchor="middle" class="w">39.1%</text>
<line x1="425.4" y1="217.4" x2="410.0" y2="201.6" stroke="#fff" stroke-width="1.6"/><polygon points="406.4,198.0 412.2,200.1 408.4,203.9" fill="#fff"/><line x1="433.8" y1="217.4" x2="449.1" y2="201.7" stroke="#fff" stroke-width="1.6"/><polygon points="452.7,198.0 450.7,203.9 446.9,200.1" fill="#fff"/><text x="438.2" y="232.9" text-anchor="middle" class="w">13.2%</text>
<rect x="45.5" y="9.3" width="235.2" height="235.2" fill="none" stroke="#111" stroke-width="1.1"/>
<text x="43.3" y="15.80" text-anchor="end" class="t">18</text>
<line x1="45.5" y1="38.70" x2="50.0" y2="38.70" stroke="#111" stroke-width="1" shape-rendering="crispEdges"/>
<text x="43.3" y="45.20" text-anchor="end" class="t">16</text>
<line x1="45.5" y1="68.10" x2="50.0" y2="68.10" stroke="#111" stroke-width="1" shape-rendering="crispEdges"/>
<text x="43.3" y="74.60" text-anchor="end" class="t">14</text>
<line x1="45.5" y1="97.50" x2="50.0" y2="97.50" stroke="#111" stroke-width="1" shape-rendering="crispEdges"/>
<text x="43.3" y="104.00" text-anchor="end" class="t">12</text>
<line x1="45.5" y1="126.90" x2="50.0" y2="126.90" stroke="#111" stroke-width="1" shape-rendering="crispEdges"/>
<text x="43.3" y="133.40" text-anchor="end" class="t">10</text>
<line x1="45.5" y1="156.30" x2="50.0" y2="156.30" stroke="#111" stroke-width="1" shape-rendering="crispEdges"/>
<text x="43.3" y="162.80" text-anchor="end" class="t">8</text>
<line x1="45.5" y1="185.70" x2="50.0" y2="185.70" stroke="#111" stroke-width="1" shape-rendering="crispEdges"/>
<text x="43.3" y="192.20" text-anchor="end" class="t">6</text>
<line x1="45.5" y1="215.10" x2="50.0" y2="215.10" stroke="#111" stroke-width="1" shape-rendering="crispEdges"/>
<text x="43.3" y="221.60" text-anchor="end" class="t">4</text>
<text x="43.3" y="251.00" text-anchor="end" class="t">2</text>
<text x="45.50" y="261.7" text-anchor="middle" class="t">1</text>
<line x1="104.30" y1="244.5" x2="104.30" y2="239.2" stroke="#111" stroke-width="1" shape-rendering="crispEdges"/>
<text x="104.30" y="261.7" text-anchor="middle" class="t">2</text>
<line x1="163.10" y1="244.5" x2="163.10" y2="239.2" stroke="#111" stroke-width="1" shape-rendering="crispEdges"/>
<text x="163.10" y="261.7" text-anchor="middle" class="t">3</text>
<line x1="221.90" y1="244.5" x2="221.90" y2="239.2" stroke="#111" stroke-width="1" shape-rendering="crispEdges"/>
<text x="221.90" y="261.7" text-anchor="middle" class="t">4</text>
<text x="280.70" y="261.7" text-anchor="middle" class="t">5</text>
<text x="163.10" y="280.1" text-anchor="middle" class="t l">Thickness (mm)</text>
<text transform="translate(19.30,126.40) rotate(-90)" text-anchor="middle" class="t l">Frequency (GHz)</text>
<text transform="translate(0.2,16.0) scale(0.935,1)" class="b">(a)</text>
<rect x="289.0" y="9.3" width="12.1" height="235.2" fill="url(#cb)"/>
<path d="M289.0,9.3 H301.1 V244.5 H289.0" fill="none" stroke="#000" stroke-opacity="0.45" stroke-width="0.9"/>
<path d="M289.0,9.3 V244.5" fill="none" stroke="#000" stroke-opacity="0.2" stroke-width="0.8"/>
<text x="303.40000000000003" y="15.60" class="t">1.0</text>
<line x1="289.0" y1="56.34" x2="291.5" y2="56.34" stroke="#000" stroke-opacity="0.45" stroke-width="0.8"/>
<line x1="301.1" y1="56.34" x2="298.6" y2="56.34" stroke="#000" stroke-opacity="0.45" stroke-width="0.8"/>
<text x="303.40000000000003" y="62.80" class="t">0.8</text>
<line x1="289.0" y1="103.38" x2="291.5" y2="103.38" stroke="#000" stroke-opacity="0.45" stroke-width="0.8"/>
<line x1="301.1" y1="103.38" x2="298.6" y2="103.38" stroke="#000" stroke-opacity="0.45" stroke-width="0.8"/>
<text x="303.40000000000003" y="110.00" class="t">0.6</text>
<line x1="289.0" y1="150.42" x2="291.5" y2="150.42" stroke="#000" stroke-opacity="0.45" stroke-width="0.8"/>
<line x1="301.1" y1="150.42" x2="298.6" y2="150.42" stroke="#000" stroke-opacity="0.45" stroke-width="0.8"/>
<text x="303.40000000000003" y="157.20" class="t">0.4</text>
<line x1="289.0" y1="197.46" x2="291.5" y2="197.46" stroke="#000" stroke-opacity="0.45" stroke-width="0.8"/>
<line x1="301.1" y1="197.46" x2="298.6" y2="197.46" stroke="#000" stroke-opacity="0.45" stroke-width="0.8"/>
<text x="303.40000000000003" y="204.40" class="t">0.2</text>
<text x="303.40000000000003" y="251.60" class="t">0</text><rect x="403.3" y="9.3" width="234.9" height="235.2" fill="none" stroke="#111" stroke-width="1.1"/>
<text x="401.1" y="15.80" text-anchor="end" class="t">18</text>
<line x1="403.3" y1="38.70" x2="407.8" y2="38.70" stroke="#111" stroke-width="1" shape-rendering="crispEdges"/>
<text x="401.1" y="45.20" text-anchor="end" class="t">16</text>
<line x1="403.3" y1="68.10" x2="407.8" y2="68.10" stroke="#111" stroke-width="1" shape-rendering="crispEdges"/>
<text x="401.1" y="74.60" text-anchor="end" class="t">14</text>
<line x1="403.3" y1="97.50" x2="407.8" y2="97.50" stroke="#111" stroke-width="1" shape-rendering="crispEdges"/>
<text x="401.1" y="104.00" text-anchor="end" class="t">12</text>
<line x1="403.3" y1="126.90" x2="407.8" y2="126.90" stroke="#111" stroke-width="1" shape-rendering="crispEdges"/>
<text x="401.1" y="133.40" text-anchor="end" class="t">10</text>
<line x1="403.3" y1="156.30" x2="407.8" y2="156.30" stroke="#111" stroke-width="1" shape-rendering="crispEdges"/>
<text x="401.1" y="162.80" text-anchor="end" class="t">8</text>
<line x1="403.3" y1="185.70" x2="407.8" y2="185.70" stroke="#111" stroke-width="1" shape-rendering="crispEdges"/>
<text x="401.1" y="192.20" text-anchor="end" class="t">6</text>
<line x1="403.3" y1="215.10" x2="407.8" y2="215.10" stroke="#111" stroke-width="1" shape-rendering="crispEdges"/>
<text x="401.1" y="221.60" text-anchor="end" class="t">4</text>
<text x="401.1" y="251.00" text-anchor="end" class="t">2</text>
<text x="403.30" y="261.7" text-anchor="middle" class="t">1</text>
<line x1="462.10" y1="244.5" x2="462.10" y2="239.2" stroke="#111" stroke-width="1" shape-rendering="crispEdges"/>
<text x="462.10" y="261.7" text-anchor="middle" class="t">2</text>
<line x1="520.90" y1="244.5" x2="520.90" y2="239.2" stroke="#111" stroke-width="1" shape-rendering="crispEdges"/>
<text x="520.90" y="261.7" text-anchor="middle" class="t">3</text>
<line x1="579.70" y1="244.5" x2="579.70" y2="239.2" stroke="#111" stroke-width="1" shape-rendering="crispEdges"/>
<text x="579.70" y="261.7" text-anchor="middle" class="t">4</text>
<text x="638.50" y="261.7" text-anchor="middle" class="t">5</text>
<text x="520.75" y="280.1" text-anchor="middle" class="t l">Thickness (mm)</text>
<text transform="translate(377.10,126.40) rotate(-90)" text-anchor="middle" class="t l">Frequency (GHz)</text>
<text transform="translate(358.2,16.0) scale(0.935,1)" class="b">(b)</text>
<rect x="647.4" y="9.3" width="12.3" height="235.2" fill="url(#cb)"/>
<path d="M647.4,9.3 H659.7 V244.5 H647.4" fill="none" stroke="#000" stroke-opacity="0.45" stroke-width="0.9"/>
<path d="M647.4,9.3 V244.5" fill="none" stroke="#000" stroke-opacity="0.2" stroke-width="0.8"/>
<text x="662.0" y="15.60" class="t">1.0</text>
<line x1="647.4" y1="56.34" x2="649.9" y2="56.34" stroke="#000" stroke-opacity="0.45" stroke-width="0.8"/>
<line x1="659.7" y1="56.34" x2="657.2" y2="56.34" stroke="#000" stroke-opacity="0.45" stroke-width="0.8"/>
<text x="662.0" y="62.80" class="t">0.8</text>
<line x1="647.4" y1="103.38" x2="649.9" y2="103.38" stroke="#000" stroke-opacity="0.45" stroke-width="0.8"/>
<line x1="659.7" y1="103.38" x2="657.2" y2="103.38" stroke="#000" stroke-opacity="0.45" stroke-width="0.8"/>
<text x="662.0" y="110.00" class="t">0.6</text>
<line x1="647.4" y1="150.42" x2="649.9" y2="150.42" stroke="#000" stroke-opacity="0.45" stroke-width="0.8"/>
<line x1="659.7" y1="150.42" x2="657.2" y2="150.42" stroke="#000" stroke-opacity="0.45" stroke-width="0.8"/>
<text x="662.0" y="157.20" class="t">0.4</text>
<line x1="647.4" y1="197.46" x2="649.9" y2="197.46" stroke="#000" stroke-opacity="0.45" stroke-width="0.8"/>
<line x1="659.7" y1="197.46" x2="657.2" y2="197.46" stroke="#000" stroke-opacity="0.45" stroke-width="0.8"/>
<text x="662.0" y="204.40" class="t">0.2</text>
<text x="662.0" y="251.60" class="t">0</text>
</svg>
</body></html>
